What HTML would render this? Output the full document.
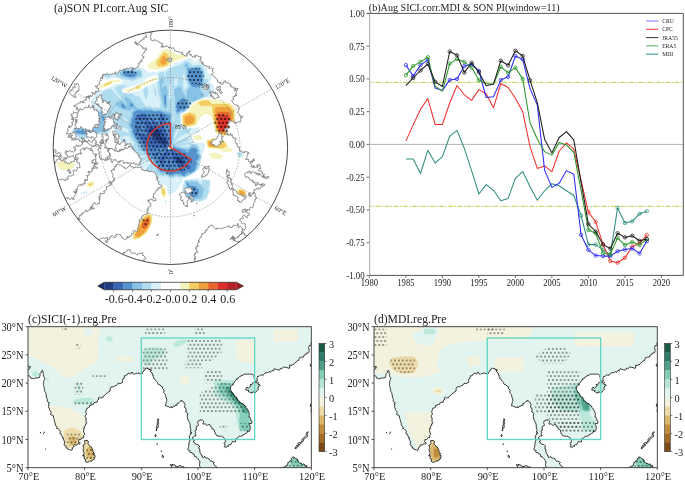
<!DOCTYPE html>
<html><head><meta charset="utf-8"><title>figure</title>
<style>html,body{margin:0;padding:0;background:#fff;}svg{display:block;will-change:transform;}</style></head>
<body><svg width="685" height="482" viewBox="0 0 685 482" font-family="Liberation Serif, serif">
<rect x="0" y="0" width="685" height="482" fill="#fff"/>
<defs><clipPath id="pc"><circle cx="170.4" cy="147.3" r="117.2"/></clipPath></defs>
<g clip-path="url(#pc)">
<defs><filter id="pblur" x="-5%" y="-5%" width="110%" height="110%"><feGaussianBlur stdDeviation="0.55"/></filter><pattern id="pdots" patternUnits="userSpaceOnUse" x="0.04" y="2.0" width="7.76" height="7.8"><ellipse cx="0" cy="0" rx="0.8" ry="0.95" fill="#000"/><ellipse cx="3.88" cy="0" rx="0.8" ry="0.95" fill="#000"/><ellipse cx="7.76" cy="0" rx="0.8" ry="0.95" fill="#000"/><ellipse cx="0" cy="7.8" rx="0.8" ry="0.95" fill="#000"/><ellipse cx="3.88" cy="7.8" rx="0.8" ry="0.95" fill="#000"/><ellipse cx="7.76" cy="7.8" rx="0.8" ry="0.95" fill="#000"/><ellipse cx="1.94" cy="3.9" rx="0.8" ry="0.95" fill="#000"/><ellipse cx="5.82" cy="3.9" rx="0.8" ry="0.95" fill="#000"/></pattern></defs>
<g filter="url(#pblur)">
<path d="M190.2,57.7L192.3,59.2L193.2,60.5L192.8,61.2L195.5,62.3L197.7,61.2L198.0,59.8L198.8,59.5L200.8,59.7L203.5,61.8L205.7,64.5L206.9,67.2L206.8,71.2L208.2,73.5L210.8,75.0L211.6,77.2L211.6,78.5L210.2,81.2L210.1,83.2L211.5,84.1L212.2,83.5L212.8,83.7L213.5,84.6L215.4,93.8L214.2,96.5L212.8,97.6L203.5,98.1L198.2,100.2L192.3,103.2L186.8,111.1L182.2,113.4L181.0,114.5L181.0,121.8L182.2,126.8L183.5,127.6L186.2,127.9L191.5,127.4L194.2,128.3L197.5,127.0L198.2,127.3L199.5,132.9L193.5,133.5L192.2,134.1L191.5,136.5L192.3,138.5L192.2,140.0L196.2,142.4L199.5,142.9L202.8,142.6L204.2,143.0L204.9,144.5L204.0,151.2L202.3,153.8L202.4,156.5L200.4,163.2L200.1,166.5L199.3,169.2L195.5,172.4L188.8,176.4L182.9,178.5L181.7,182.5L179.5,185.2L177.5,189.3L175.2,191.8L168.8,195.2L168.1,194.5L166.7,186.5L165.5,185.2L164.2,184.6L162.2,184.6L160.2,185.3L158.2,188.5L147.5,173.8L145.0,172.5L142.2,168.7L139.3,167.2L136.2,164.1L133.9,161.2L132.6,158.5L129.6,155.8L123.5,145.8L119.2,139.8L111.6,126.5L108.2,123.1L107.5,123.1L106.8,123.9L106.2,125.8L106.5,126.5L109.8,127.8L110.4,128.5L110.9,130.5L108.8,133.5L107.5,134.3L89.5,135.4L88.7,135.8L86.2,139.8L84.8,140.3L80.2,140.5L77.4,139.8L76.0,135.8L73.2,133.8L71.6,129.8L74.2,127.7L86.2,125.7L96.8,125.5L98.0,124.5L96.2,112.3L95.1,110.5L91.2,106.5L90.7,105.2L92.2,99.0L96.2,89.8L96.8,89.4L98.8,90.5L101.5,90.2L107.5,87.7L111.5,86.7L114.8,84.3L120.8,83.8L122.8,82.5L122.8,80.5L121.5,79.3L116.2,78.0L114.2,77.9L106.2,79.5L101.2,77.8L100.8,76.5L101.3,74.5L102.1,72.5L102.8,72.0L117.5,69.9L124.8,67.7L139.5,67.2L143.5,68.6L148.8,72.2L150.2,72.4L152.8,71.7L155.5,72.3L165.5,69.5L170.8,66.6L174.8,62.9L180.2,61.5L186.7,58.5ZM154.2,75.2L149.5,77.3L146.2,78.1L144.8,80.5L143.2,81.8L133.5,86.0L123.5,89.1L122.6,89.8L122.5,91.2L124.2,92.7L128.2,92.9L139.5,90.7L145.4,86.5L148.8,85.4L157.5,81.0L158.6,79.2L158.2,77.2L156.8,75.6L155.5,75.0ZM169.4,145.2L168.0,146.5L168.0,147.8L168.7,149.2L171.5,149.3L173.0,147.8L172.3,145.8L171.5,145.0ZM176.0,179.2L176.5,181.2L176.8,181.7L177.5,181.6L177.8,181.2L177.3,179.2L176.8,178.6ZM237.5,151.8L240.8,151.8L242.2,152.2L243.3,153.8L243.5,156.5L241.5,157.6L238.2,157.7L237.2,156.5L236.2,153.2L236.3,152.5ZM193.5,178.4L195.5,178.2L208.8,179.6L210.4,180.5L210.7,184.5L210.0,191.2L207.1,198.5L205.5,200.2L201.5,201.4L196.8,202.0L192.8,201.6L186.8,198.5L185.2,196.5L182.2,189.8L182.6,185.2L183.8,180.5L185.5,179.4L188.2,179.4ZM86.2,191.1L88.1,191.8L87.9,192.5L86.2,193.6L81.5,194.2L80.2,193.6L80.8,192.2ZM165.5,199.8L166.2,199.8L166.8,201.8L166.6,203.2L166.2,203.6L164.9,203.2L164.5,202.5L164.8,200.5Z" fill="#d8f0f8" fill-rule="evenodd"/>
<path d="M185.5,61.1L187.5,61.0L193.5,65.5L200.2,64.5L201.5,65.2L204.7,71.2L204.7,77.2L205.4,79.8L205.7,79.2L207.5,78.7L208.1,79.2L208.3,80.5L205.6,86.5L203.5,89.2L203.6,90.5L205.1,91.8L208.8,88.1L210.2,87.9L210.5,88.5L210.0,91.2L208.0,96.5L202.2,98.1L192.2,102.7L190.9,103.8L187.5,109.3L184.6,111.8L180.8,113.4L180.2,114.5L180.5,119.2L180.1,123.2L181.1,127.2L179.9,130.5L180.2,130.7L181.5,128.5L182.2,128.2L184.2,128.4L184.8,129.5L190.8,128.2L191.5,128.5L191.4,129.2L190.2,131.2L188.2,133.0L187.5,133.4L186.2,133.2L180.0,136.5L177.4,139.2L175.1,142.5L175.5,142.8L178.8,140.4L181.9,139.8L189.5,136.2L189.9,136.5L189.7,137.2L186.6,139.2L187.5,139.4L190.2,138.7L190.5,139.2L190.1,139.8L188.8,140.8L182.4,143.2L184.2,143.3L190.2,141.6L191.1,141.8L191.5,142.5L191.0,143.2L192.2,144.1L196.8,143.9L197.8,144.5L199.2,148.5L200.5,150.5L200.4,153.8L201.6,156.5L200.5,160.5L199.2,162.5L199.5,165.2L198.5,168.5L194.8,172.2L188.2,176.0L185.5,176.9L181.5,177.1L180.2,177.6L176.2,176.5L172.8,178.2L170.8,177.5L169.5,177.9L165.5,175.5L162.8,176.8L160.8,175.4L158.8,175.8L157.5,175.1L156.2,175.2L152.8,173.8L152.3,172.5L154.3,169.8L154.8,168.0L154.2,168.2L151.8,171.8L150.8,172.4L150.0,172.5L149.5,170.4L147.5,171.3L146.2,171.2L146.0,170.5L146.8,167.8L151.3,162.5L148.8,161.4L146.8,162.0L145.9,161.8L145.9,161.2L147.5,159.2L146.8,158.7L139.5,163.4L138.2,163.8L136.8,163.1L135.3,161.2L135.5,159.7L142.2,157.8L145.4,156.5L145.9,155.8L142.2,155.5L133.5,157.1L131.5,156.5L126.9,149.8L126.3,147.8L129.5,145.4L130.2,145.6L135.0,144.5L133.5,142.0L131.1,139.8L130.4,137.8L127.5,135.8L124.8,136.0L124.2,136.6L122.2,136.8L120.2,136.7L116.2,131.6L115.2,128.5L115.5,128.0L116.8,129.5L118.8,130.3L120.2,130.3L127.5,132.7L128.5,131.8L128.2,128.9L124.2,128.3L120.2,126.6L116.8,125.9L116.2,126.4L115.5,126.2L114.8,127.6L108.2,121.4L107.5,121.6L106.4,123.2L105.5,125.2L105.4,126.5L106.2,127.4L109.3,128.5L109.8,129.8L108.8,131.7L106.8,133.0L88.8,134.8L88.1,135.2L86.2,137.9L84.2,138.8L80.7,138.5L77.0,135.2L74.8,134.3L73.8,133.2L73.4,129.8L74.8,128.3L87.5,126.2L96.8,126.2L98.2,125.8L98.9,123.2L97.2,112.5L97.5,111.6L100.1,110.5L100.7,109.8L98.1,105.8L97.2,100.5L99.3,97.8L100.8,93.8L101.9,92.5L103.5,91.2L108.8,89.1L110.2,89.1L112.2,90.1L119.2,97.8L120.2,98.5L121.1,98.5L121.5,97.6L116.6,92.5L116.1,91.8L116.3,91.2L114.8,88.5L115.4,87.2L117.5,86.2L122.2,85.1L126.2,85.8L127.0,86.5L122.8,88.6L121.7,89.8L121.8,91.2L122.6,92.5L124.2,93.5L126.8,94.0L132.5,93.8L136.2,96.7L138.4,95.8L142.2,100.5L142.2,101.2L145.5,106.0L146.8,106.5L149.5,106.0L153.5,108.2L154.8,107.0L158.2,107.9L159.5,107.7L160.3,106.5L160.6,102.5L157.6,90.5L157.4,83.8L157.5,82.5L159.3,79.2L158.3,75.2L158.4,73.8L160.8,71.9L163.5,71.9L164.6,72.5L164.5,75.8L165.5,77.1L165.8,72.5L168.1,69.8L172.2,67.4L180.8,64.4ZM183.5,73.8L182.5,74.5L183.1,76.5L182.5,77.2L183.6,79.8L183.2,80.5L183.5,82.5L183.0,83.8L183.6,88.5L184.2,90.1L184.8,90.2L185.7,88.5L187.9,86.5L184.3,74.5L184.5,73.8ZM176.7,77.2L174.9,78.5L174.2,80.5L174.0,83.2L174.5,85.8L175.5,86.5L177.2,84.5L177.9,78.5L177.5,77.3ZM169.7,83.8L168.8,86.5L169.1,87.8L168.8,99.2L169.5,99.9L170.3,99.2L171.2,97.2L171.3,95.2L171.2,83.8L170.8,83.5ZM172.9,116.5L173.1,117.2L172.7,118.5L172.8,121.3L173.6,119.8L173.7,118.5L173.5,115.9ZM122.6,117.8L124.2,120.2L125.5,121.2L127.5,121.7L127.6,120.5L126.2,119.2L122.8,117.5ZM176.8,123.2L175.5,127.5L175.5,129.6L176.9,124.5ZM178.0,127.2L174.8,134.5L174.2,138.0L174.8,137.9L175.8,136.5L178.6,131.2L179.1,129.2L178.8,127.2ZM187.7,144.5L182.8,145.6L181.2,145.8L182.0,146.5L183.5,146.7L188.2,146.6L189.5,145.2L188.8,144.5ZM169.2,145.2L167.9,146.5L167.9,147.8L168.6,149.2L171.5,149.4L173.1,147.8L172.5,145.8L171.5,144.8ZM123.5,69.2L128.2,68.6L138.8,68.9L140.2,69.3L141.1,69.8L141.9,71.2L142.7,75.8L142.5,77.2L141.5,77.9L138.2,78.4L134.8,80.3L132.8,80.8L126.8,79.6L123.5,79.5L115.8,76.5L115.1,75.2L114.8,72.5L116.8,71.3ZM106.2,72.5L109.5,72.5L110.8,73.0L111.0,76.5L110.2,77.2L108.2,77.6L106.2,77.3L103.8,75.8L103.2,75.2L103.2,73.8L104.2,73.0ZM152.8,85.5L153.5,85.7L154.5,87.2L156.1,90.5L156.5,95.2L156.2,97.8L154.8,94.5L153.9,88.5ZM146.2,87.1L147.5,87.3L148.1,89.8L147.9,90.5L148.3,91.2L146.8,99.8L145.9,99.2L144.0,94.5L143.1,90.5L144.8,87.8ZM120.2,138.5L120.8,138.0L122.2,138.2L126.9,140.5L123.5,141.5L122.2,141.3L120.8,140.4ZM237.5,153.0L239.5,152.7L241.5,153.1L242.2,155.2L241.5,156.0L238.8,156.3L237.5,154.3ZM190.8,179.7L193.5,180.0L196.2,179.6L201.5,183.9L202.2,183.2L201.6,181.2L201.9,180.5L204.8,180.2L208.8,180.5L209.5,180.9L209.8,183.2L209.5,185.2L208.5,187.2L208.5,192.5L206.2,197.5L204.8,198.9L200.8,200.4L192.8,200.9L186.8,197.1L183.4,189.8L183.5,186.4L184.7,181.2L185.3,180.5L186.2,180.1L188.8,180.5Z" fill="#b0dcf0" fill-rule="evenodd"/>
<path d="M186.2,63.0L187.7,63.2L188.2,65.8L188.8,66.6L192.2,67.2L197.5,66.3L198.8,66.5L200.8,68.0L203.1,71.2L203.6,72.5L203.6,83.8L199.9,87.8L201.9,92.5L204.3,94.5L204.4,95.8L203.2,97.2L192.6,101.8L191.1,101.8L190.2,100.2L189.5,101.6L190.0,103.2L189.7,104.5L187.5,108.3L183.7,111.8L180.8,112.0L176.8,115.0L174.9,108.5L175.3,99.2L174.0,93.2L174.2,89.5L178.8,86.5L181.5,87.0L182.5,92.5L184.6,94.5L185.5,97.2L186.2,97.3L187.3,89.8L190.0,87.8L190.2,87.2L187.3,79.8L186.5,75.8L186.5,71.2L185.5,67.4L184.8,66.9L184.1,65.2ZM124.2,70.3L128.2,69.9L136.8,71.1L138.8,71.2L139.5,70.7L140.2,70.9L140.8,72.1L141.4,75.8L140.8,76.6L138.8,76.3L137.5,76.7L132.8,79.3L121.5,76.6L120.4,75.8L119.8,74.5L120.0,72.5ZM160.8,78.8L162.8,79.1L163.7,80.5L163.9,82.5L162.1,83.8L161.7,86.5L162.0,87.8L163.5,87.3L164.1,85.8L164.8,85.6L166.2,86.3L167.4,89.8L167.6,92.5L167.0,99.8L167.3,105.8L167.1,107.2L165.5,108.9L164.0,107.8L163.1,105.8L162.8,102.5L160.9,95.2L160.2,87.2L159.1,81.8L160.2,79.4ZM125.5,97.0L127.5,97.1L128.5,97.8L133.8,103.2L136.2,107.1L137.5,107.9L142.2,109.1L142.9,107.8L144.2,107.6L147.5,108.8L150.8,108.5L154.2,109.9L156.8,109.4L161.5,109.6L163.5,111.0L164.2,111.2L165.5,110.4L166.8,111.7L168.8,111.3L171.2,113.2L171.7,115.2L171.6,122.5L172.2,126.4L173.5,125.6L174.7,127.2L172.1,142.5L173.1,144.5L174.8,146.0L176.2,146.0L179.3,147.2L179.9,147.8L187.5,149.3L188.8,149.0L189.7,147.2L191.5,146.1L195.5,145.6L197.5,146.9L197.9,148.5L199.1,149.8L199.1,151.8L198.4,153.2L200.8,155.8L200.9,156.5L199.5,160.5L198.0,161.2L197.7,161.8L198.5,165.2L195.8,170.5L191.5,173.5L189.5,173.9L188.2,175.2L184.2,176.7L182.8,176.5L181.5,175.6L180.2,176.3L176.2,175.1L172.8,177.0L170.8,176.2L169.5,176.8L165.5,173.8L163.5,174.9L161.5,173.6L160.2,173.7L159.5,173.3L158.8,172.0L157.6,171.2L156.2,165.9L154.3,165.2L153.0,161.2L149.5,159.2L149.5,157.7L147.2,156.5L147.9,155.2L144.2,153.8L144.6,152.5L143.2,151.2L138.5,149.8L139.6,148.5L138.3,146.5L138.8,145.2L137.0,143.8L131.5,135.8L130.7,131.8L131.0,129.8L128.7,126.5L128.4,125.2L129.8,122.5L129.6,118.5L131.5,115.8L131.4,111.8L133.7,110.5L133.5,109.2L132.8,108.8L131.5,109.1L130.2,110.8L123.5,109.6L118.2,107.3L116.2,105.2L115.7,103.2L116.8,102.3L118.2,102.4L120.8,100.5L122.5,101.2L126.2,104.5L127.0,104.5L127.0,103.2L124.3,99.8L123.9,98.5ZM169.1,145.2L167.8,146.5L167.8,147.8L168.4,149.2L168.8,149.6L171.5,149.6L173.3,147.8L172.7,145.8L171.5,144.6L169.5,144.7ZM100.2,111.8L103.5,111.3L105.7,115.2L106.9,119.8L104.1,125.8L105.0,127.8L108.4,129.2L108.2,130.7L106.2,131.3L102.8,131.3L97.5,133.0L88.8,134.2L84.8,135.3L79.5,134.7L75.5,133.9L74.8,133.3L74.2,130.5L74.8,129.2L75.5,128.9L86.8,127.0L97.5,127.0L98.8,126.4L100.5,123.2L99.4,120.5L98.1,113.2L98.8,112.2ZM114.8,116.5L119.5,119.2L119.7,120.5L116.8,119.9L114.2,118.4L113.7,117.2ZM186.2,181.1L186.8,181.0L189.5,182.3L191.5,181.3L194.2,182.1L195.5,181.6L196.8,181.8L203.2,187.8L203.7,189.8L202.5,195.2L200.8,198.4L196.2,198.7L194.4,199.8L192.8,200.0L187.5,196.4L186.0,193.8L185.3,189.8L186.3,187.2L185.6,182.5ZM206.2,181.7L207.8,181.8L208.2,182.5L207.5,182.6Z" fill="#88c3e6" fill-rule="evenodd"/>
<path d="M196.2,67.8L198.2,67.8L199.5,68.9L202.2,72.1L202.5,73.8L202.2,83.7L198.7,86.5L196.8,87.4L192.8,86.7L190.4,84.5L188.2,78.5L188.0,70.5L187.6,69.8L188.2,68.9ZM127.5,71.1L131.5,71.1L134.7,71.8L136.8,73.2L137.0,74.5L135.2,76.5L132.2,77.2L127.5,76.7L124.6,75.8L122.7,74.5L122.7,73.2L124.1,71.8ZM164.8,94.7L165.5,94.5L165.8,95.8L166.1,103.8L165.5,105.7L164.7,104.5L164.5,100.5L164.1,99.8L164.1,95.8ZM182.2,97.7L182.8,97.4L183.4,97.8L184.2,99.9L186.8,100.1L187.5,100.8L188.1,103.2L187.6,105.8L186.5,107.8L183.5,110.7L182.2,109.5L181.5,109.6L179.3,111.8L177.5,112.4L176.7,111.2L176.7,108.5L176.1,105.8L176.4,103.8L177.1,102.5L181.3,99.2ZM195.5,97.4L195.6,98.5L194.5,99.2L194.8,97.9ZM130.2,102.8L131.5,103.2L133.1,104.5L133.3,105.8L132.8,106.7L131.5,107.0L130.8,106.4L129.5,103.8ZM121.5,103.8L122.8,103.8L126.3,107.8L123.5,108.0L122.2,107.2L121.3,105.2ZM138.8,109.7L142.8,111.0L145.5,110.4L148.8,110.8L150.8,110.2L154.8,111.7L158.8,111.0L162.2,111.7L164.2,113.3L166.2,113.7L167.5,114.6L168.8,114.0L169.7,115.2L171.5,140.5L171.2,144.5L169.5,144.6L167.6,146.5L167.6,147.8L168.8,149.7L171.5,149.7L173.4,147.8L172.8,146.5L173.5,146.4L176.2,147.9L186.5,149.8L186.6,150.5L186.2,150.6L182.2,149.7L180.2,149.8L188.8,152.4L189.8,151.8L187.4,150.5L190.2,149.3L191.5,148.1L194.8,148.1L196.8,149.1L197.6,149.8L196.6,153.2L199.4,155.8L198.3,157.8L198.6,159.2L195.8,160.5L196.9,163.8L196.0,165.2L195.2,169.2L194.2,171.2L192.2,171.9L190.8,173.2L188.2,172.0L186.8,173.6L185.5,173.8L185.0,175.8L184.2,176.1L182.9,175.8L180.8,173.7L179.5,174.2L175.5,173.5L173.5,174.5L172.8,175.5L170.8,174.0L169.5,175.3L166.2,172.0L164.8,172.1L163.5,171.4L160.8,171.8L159.9,169.8L158.8,169.7L157.5,164.6L155.8,163.8L155.7,162.5L154.6,161.2L154.2,159.8L151.5,158.5L150.7,156.5L149.1,155.8L149.5,154.3L146.6,153.8L146.6,153.2L147.8,151.8L147.4,151.2L144.8,150.0L142.5,149.8L141.6,149.2L142.8,148.5L142.5,145.8L139.7,143.8L136.7,139.2L134.5,137.2L134.7,135.8L132.5,132.5L132.8,129.8L130.4,125.8L131.6,123.8L131.4,119.2L133.3,117.2L133.0,113.2L136.2,110.6ZM102.8,115.7L104.2,116.8L105.4,119.8L105.1,121.2L104.2,122.0L102.8,120.6L102.2,118.2L101.4,117.8L101.6,116.5ZM77.5,130.4L79.5,130.0L80.2,130.5L83.5,130.2L84.2,130.8L86.8,130.8L87.5,131.6L90.2,131.8L90.6,133.2L84.8,134.0L77.5,133.3L75.8,131.8L76.2,130.8ZM186.8,182.4L188.2,183.1L189.5,185.4L190.2,185.8L193.5,185.9L195.3,186.5L198.9,189.8L199.0,191.8L197.7,195.2L196.8,196.2L192.2,197.2L190.8,196.5L188.8,193.2L188.6,188.5L188.2,186.5L186.8,184.0Z" fill="#5593cf" fill-rule="evenodd"/>
<path d="M178.8,107.5L179.5,107.8L178.8,109.3L178.6,108.5ZM141.5,113.8L144.2,113.7L146.3,115.2L147.8,119.8L154.2,126.2L152.9,123.2L148.0,116.5L147.8,115.2L149.5,115.6L152.2,118.9L154.8,121.1L158.2,125.3L158.8,124.6L160.2,125.2L159.3,120.5L159.5,119.3L160.8,120.9L161.0,120.5L159.4,116.5L159.6,115.2L160.3,115.2L161.5,116.2L162.8,115.3L164.3,117.2L165.3,123.8L164.8,124.3L162.8,120.2L162.4,122.5L167.3,136.5L169.0,143.8L168.8,145.2L167.5,146.5L167.9,148.5L167.5,149.1L166.5,147.8L164.6,147.8L166.6,149.2L166.2,149.7L165.5,149.6L162.8,150.9L157.9,153.8L157.1,154.5L157.5,155.0L159.6,154.5L156.2,157.3L152.4,154.5L153.0,153.8L161.5,150.8L164.8,149.4L164.8,148.7L163.0,148.5L163.2,147.8L162.8,147.8L150.8,149.4L148.7,149.2L148.0,148.5L148.8,147.7L156.2,147.2L147.5,146.1L144.4,144.5L141.7,141.2L143.0,140.5L139.7,138.5L139.9,137.2L139.4,136.5L135.5,133.2L135.5,132.3L136.8,131.9L146.3,135.2L148.2,135.5L148.5,135.2L146.2,132.0L139.5,129.2L137.5,129.7L136.2,129.4L134.9,127.8L135.3,125.2L135.9,124.5L135.0,121.8L135.1,121.2L136.2,120.6L137.5,121.0L142.5,125.8L141.5,125.9L138.8,124.3L136.4,123.8L136.3,124.5L137.5,125.8L141.5,128.8L146.2,131.5L146.0,130.5L143.9,127.8L144.2,127.2L146.4,127.8L146.3,126.5L137.5,119.3L136.6,117.8L136.3,116.5L136.8,115.3L140.2,114.7ZM141.2,117.8L142.8,120.5L144.8,122.4L145.5,122.8L145.9,122.5L145.6,121.2L143.5,118.5L141.5,117.3ZM152.8,114.1L154.2,115.3L154.5,117.2L154.2,117.7L152.6,115.2ZM167.5,149.7L169.7,149.8L169.9,150.5L169.2,151.2L169.5,152.2L170.3,151.2L169.9,169.8L169.5,171.0L168.2,169.2L168.3,165.2L167.6,161.8L168.5,156.5L168.3,155.2L167.5,155.1L167.5,157.0L166.8,156.5L166.8,159.0L166.2,157.7L164.1,162.5L163.4,164.5L163.5,166.1L165.5,161.2L165.5,163.2L164.2,167.0L163.5,167.4L162.8,166.3L160.8,165.8L159.8,161.8L158.0,161.2L161.4,156.5L160.8,156.3L158.2,158.7L157.5,158.9L157.3,158.5L162.2,154.3L162.8,154.6L162.6,153.8L166.8,150.4L167.6,150.5ZM168.4,153.2L168.5,154.5L169.1,155.2L169.5,157.4L169.8,155.2L169.0,153.2ZM171.5,149.8L172.2,149.2L177.5,154.3L177.8,153.8L177.2,153.2L178.2,152.3L178.4,152.5L177.8,153.2L178.2,153.5L178.8,152.9L179.5,153.1L184.8,155.7L191.0,159.8L192.0,161.2L192.2,163.3L190.8,162.9L185.5,159.4L185.3,159.8L186.8,163.5L191.0,166.5L190.8,168.4L188.2,169.7L186.3,168.5L184.2,165.8L181.5,166.2L181.4,167.2L183.2,170.5L182.8,172.3L182.2,172.1L180.3,170.5L177.5,165.2L174.4,161.2L174.2,159.7L174.4,164.5L173.5,166.9L170.9,150.5L171.0,149.8ZM152.8,151.7L154.0,151.8L152.8,152.6L151.3,152.5Z" fill="#3a68b6" fill-rule="evenodd"/>
<path d="M150.2,128.1L150.8,127.8L154.2,128.3L156.8,129.7L157.5,128.7L158.8,129.5L165.7,139.8L166.3,141.2L165.8,141.8L166.5,143.8L165.4,144.5L165.6,145.2L163.5,144.7L153.3,139.2L154.6,138.5L150.2,134.5L148.8,131.8L148.8,130.5L150.3,129.8L149.8,128.5ZM158.6,132.5L160.4,135.8L164.2,139.8L164.2,139.2L160.9,134.5L158.8,132.1ZM176.2,157.0L177.5,156.8L181.4,159.2L183.3,161.2L183.9,163.2L181.5,164.0L178.8,162.3L178.8,163.3L177.5,163.0L176.2,160.5Z" fill="#203c82" fill-rule="evenodd"/>
<path d="M164.8,49.1L167.3,49.2L173.5,52.8L178.8,55.0L181.5,54.7L186.8,53.3L188.2,54.5L188.2,55.8L187.5,56.6L181.3,59.2L173.5,61.4L169.4,65.8L164.8,67.9L156.8,69.7L149.5,69.1L147.7,65.8L147.8,64.5L152.8,61.2L156.2,58.4L161.9,50.5ZM153.5,77.8L156.2,77.3L157.0,77.8L157.2,79.2L156.7,79.8L143.5,86.1L138.3,89.8L129.5,91.4L124.1,91.2L124.0,90.5L125.4,89.8L132.2,88.1L136.5,85.8L142.8,83.6ZM113.5,79.8L118.4,79.8L120.6,80.5L121.0,81.2L120.2,82.1L114.8,82.2L104.8,87.3L100.2,88.7L98.8,88.1L98.6,87.2L99.1,86.5L103.5,83.2L109.5,80.5ZM202.8,99.1L208.2,99.1L220.8,100.3L228.8,102.8L232.8,104.9L235.0,109.2L235.9,112.5L235.0,127.2L234.6,129.8L233.9,131.2L225.5,136.3L222.8,136.0L216.8,133.8L215.3,131.2L211.9,117.8L209.5,115.4L206.8,113.8L204.8,114.3L200.3,117.8L196.8,124.2L195.5,125.8L188.2,126.9L184.2,126.6L182.8,126.0L182.1,123.2L181.8,115.8L182.0,114.5L182.9,113.8L186.2,112.8L188.5,111.2L191.5,105.7L193.0,103.8L198.9,100.5ZM62.2,117.1L64.8,117.2L67.8,119.2L68.3,119.8L68.2,120.5L65.5,122.1L63.5,122.6L58.8,121.9L57.5,121.2L57.0,119.8L57.4,118.5ZM197.5,135.1L199.5,135.1L200.8,135.7L202.4,137.2L202.5,138.5L200.8,139.9L199.5,140.2L194.8,139.4L194.1,138.5L193.5,136.3L194.2,135.7ZM212.2,138.3L215.5,138.1L224.2,140.1L227.5,144.5L228.2,147.3L232.5,149.2L232.8,150.5L232.2,151.3L230.8,151.8L223.5,151.9L219.5,149.5L209.5,148.6L208.2,148.2L206.8,145.2L206.2,141.8L206.4,140.5L207.5,139.6ZM210.8,153.1L214.8,152.8L216.8,153.1L222.2,155.0L223.0,155.8L223.0,156.5L222.2,158.1L220.8,158.8L212.8,158.7L211.5,157.8L208.9,154.5L208.9,153.8ZM60.8,161.2L64.2,160.8L71.5,161.6L73.5,163.3L75.0,165.8L73.9,167.2L69.5,169.8L60.8,169.7L59.4,168.5L56.4,163.8L57.5,162.6ZM89.5,181.8L92.2,181.3L94.2,181.8L94.5,183.8L93.7,185.8L89.5,187.4L87.5,186.8L86.3,185.2L86.5,183.8ZM160.8,187.1L162.2,186.6L164.2,186.8L164.8,187.2L165.5,188.7L166.5,195.2L165.8,196.5L164.2,197.6L162.7,197.2L160.8,193.2L160.5,189.2ZM238.2,189.0L242.2,188.6L246.0,191.2L246.8,193.2L245.5,196.0L244.2,196.8L242.8,197.0L238.5,195.8L237.6,194.5L236.7,190.5L236.9,189.8ZM147.5,213.8L151.5,214.0L152.2,214.5L152.6,215.8L152.3,222.5L148.4,230.5L146.6,233.2L140.8,238.0L135.5,240.0L133.5,239.8L132.3,238.5L132.4,236.5L135.3,229.2L139.3,221.2L140.7,219.2L144.8,215.0Z" fill="#f6f4be" fill-rule="evenodd"/>
<path d="M163.5,52.3L165.5,52.5L168.2,54.5L170.0,58.5L169.7,60.5L168.0,64.5L166.8,65.6L162.2,67.0L158.2,66.5L156.7,65.2L156.4,61.8ZM110.8,81.8L111.7,81.8L111.9,82.5L111.1,83.2L105.5,85.8L104.7,85.8L104.2,85.2L105.2,83.8ZM138.2,86.4L139.5,86.2L140.2,87.2L138.2,88.7L136.2,88.5L135.9,87.8L136.3,87.2ZM203.5,100.5L208.2,100.5L212.2,104.1L226.8,103.8L228.8,104.4L230.6,105.8L233.5,109.3L234.3,111.8L233.6,126.5L232.7,130.5L224.8,135.1L220.8,134.3L217.1,132.5L215.7,129.2L212.9,116.5L212.2,107.8L211.5,105.5L203.5,105.9L200.2,105.5L198.8,104.5L198.4,103.2L198.8,101.8ZM189.5,112.5L194.2,114.0L195.9,115.2L196.0,119.8L195.5,123.2L194.2,124.5L189.5,125.9L184.2,125.5L183.3,124.5L182.9,122.5L182.8,115.2ZM213.5,139.1L215.5,139.2L223.5,141.1L226.2,144.5L226.4,145.8L224.8,147.3L221.5,148.6L208.8,147.5L207.5,144.9L207.3,141.2L208.2,140.4ZM90.2,183.1L92.2,183.1L92.5,184.5L90.8,185.5L88.8,185.5L88.3,184.5ZM162.8,188.3L164.2,188.9L164.6,190.5L165.0,193.8L164.2,195.4L162.8,195.0L162.2,193.0L161.9,189.2ZM239.5,189.7L242.7,189.8L244.8,191.3L245.9,193.2L244.8,195.2L242.8,196.1L239.2,195.2L238.4,193.8L237.9,191.2L238.2,190.4ZM146.8,215.0L150.2,214.9L151.5,215.8L151.5,221.8L149.6,226.5L146.6,231.8L141.4,236.5L138.8,238.0L134.2,238.8L133.4,237.2L134.1,234.5L140.2,221.7L143.2,217.8Z" fill="#f3cd62" fill-rule="evenodd"/>
<path d="M162.8,56.2L164.2,56.0L165.7,57.2L166.5,58.5L166.6,59.8L165.9,63.8L164.8,64.6L162.8,65.0L161.1,63.8L160.2,61.2ZM219.5,107.1L228.2,106.9L231.5,110.1L232.9,112.5L232.6,119.2L231.3,129.2L228.8,131.5L224.2,133.8L221.5,133.6L218.8,132.3L217.5,131.2L216.4,128.5L214.9,117.8L214.7,109.2L215.5,107.7ZM189.5,115.1L191.5,115.7L193.7,117.2L194.0,118.5L193.8,121.2L193.2,122.5L192.2,123.3L188.8,124.5L187.5,124.4L185.5,123.6L184.8,122.5L184.5,117.8L185.5,116.5ZM211.5,141.0L214.2,140.5L215.5,140.9L218.7,142.5L219.3,143.8L217.7,145.8L216.2,146.8L209.5,146.6L208.8,145.8L208.3,142.5L208.9,141.8ZM239.5,191.1L241.5,190.8L243.0,191.2L244.4,192.5L244.4,193.8L242.8,195.0L240.2,194.5L239.4,193.2ZM148.8,216.4L149.5,216.5L150.4,217.8L150.2,223.2L146.2,230.4L144.4,232.5L139.5,236.4L137.5,236.7L135.5,236.2L135.2,235.2L135.5,234.0L142.5,220.5L144.8,218.0Z" fill="#eea03a" fill-rule="evenodd"/>
<path d="M224.2,111.8L226.8,111.7L228.6,112.5L230.8,115.8L230.9,119.2L228.5,129.8L224.8,132.1L221.5,132.5L218.8,130.8L217.5,128.7L216.2,114.5L216.5,113.2L217.5,112.4ZM147.5,218.4L148.6,218.5L149.0,219.2L148.8,223.8L146.2,227.8L145.3,228.5L144.2,228.6L141.8,227.2L141.7,225.8L144.2,220.7Z" fill="#e8652c" fill-rule="evenodd"/>
<path d="M218.8,115.1L226.8,115.1L228.2,116.2L229.1,118.5L228.8,121.5L226.4,128.5L224.8,129.7L222.2,130.6L220.4,129.8L218.7,126.5L217.7,116.5L218.2,115.4Z" fill="#dd3029" fill-rule="evenodd"/>
</g>
<polygon points="154.3,172.1 154.7,172.3 154.8,172.8 155.3,173.0 155.3,173.5 155.7,173.8 155.7,174.3 155.8,174.9 156.4,174.9 156.6,175.5 156.8,176.1 156.6,176.5 156.8,177.0 156.4,177.2 155.9,177.1 156.4,177.5 156.9,177.9 157.1,177.4 157.4,177.1 158.1,177.1 158.1,177.7 157.7,177.8 157.2,177.8 157.1,178.3 157.4,178.6 157.9,179.0 157.5,179.4 157.1,179.5 156.7,179.4 156.7,180.0 157.1,180.5 157.5,181.0 158.1,181.2 158.7,181.1 158.9,181.7 158.9,182.2 159.1,182.6 158.5,182.8 158.4,183.5 158.6,184.1 159.0,184.4 159.4,184.8 159.8,184.9 160.4,185.1 160.8,184.8 161.1,185.0 161.6,185.2 161.8,185.5 162.2,185.7 161.8,186.1 161.4,186.4 161.1,187.0 161.3,187.6 160.9,187.6 160.5,187.8 160.5,187.3 160.0,187.2 159.4,187.6 159.4,188.4 158.7,188.2 158.2,187.6 157.9,188.2 158.4,188.5 158.1,188.8 157.7,188.9 157.7,189.6 158.1,190.2 157.5,190.1 157.2,189.6 156.9,190.0 156.8,190.5 156.2,190.4 155.8,190.9 156.0,191.4 155.7,191.9 155.2,192.0 155.0,192.4 154.9,192.9 154.6,193.2 154.3,193.6 153.9,193.8 153.5,194.0 153.1,194.3 153.6,194.2 154.1,194.3 154.0,194.8 153.7,195.2 153.4,195.7 153.1,196.2 153.2,196.9 153.9,197.1 153.0,197.3 153.3,198.2 153.9,198.1 154.3,197.8 154.9,198.0 155.3,198.3 155.4,199.0 156.0,199.5 155.9,200.7 154.8,200.2 154.2,200.7 153.7,201.2 152.8,200.9 152.8,200.0 152.2,199.3 151.8,200.1 151.7,199.6 151.3,199.3 150.8,199.1 150.3,199.1 150.1,199.4 149.7,199.7 148.9,201.1 148.1,199.7 147.8,200.5 148.3,201.3 148.2,202.0 149.0,202.0 149.5,202.3 149.6,202.8 150.1,203.4 150.8,203.2 150.6,203.8 150.3,204.3 151.0,204.3 150.7,205.0 150.8,205.4 150.8,205.7 150.3,206.2 150.2,206.9 149.5,206.9 148.9,206.4 148.6,206.8 148.4,207.3 148.1,207.8 148.2,208.3 147.9,208.6 148.0,209.1 147.5,209.0 147.2,209.3 147.7,208.7 148.2,209.2 147.9,209.7 148.2,210.2 147.6,210.1 147.5,210.7 147.1,210.8 146.7,210.9 147.0,211.2 147.3,211.5 147.4,211.9 147.8,212.1 148.2,212.8 148.3,213.5 147.7,213.8 147.5,213.2 147.2,213.4 146.8,213.8 146.1,213.8 146.2,214.5 145.7,214.8 145.2,214.7 144.4,214.5 143.8,214.9 143.3,214.9 143.1,215.4 143.5,215.8 143.1,216.2 142.6,215.8 142.1,216.2 141.9,216.7 141.4,217.0 142.2,217.6 141.3,218.1 141.8,218.3 142.3,218.6 141.6,218.9 140.9,218.8 140.5,219.1 140.0,218.9 139.8,219.3 139.7,219.7 139.7,220.6 138.9,220.8 139.4,221.4 140.2,221.2 139.9,221.6 139.4,221.6 139.2,222.0 139.3,222.5 139.3,223.1 138.9,223.7 138.7,224.3 139.0,224.9 138.3,225.3 138.6,226.0 138.2,226.5 138.1,227.1 138.3,227.8 138.0,228.3 137.6,228.6 137.2,228.6 137.4,229.0 137.5,229.4 137.5,230.0 138.0,230.1 137.7,230.4 137.5,230.8 136.8,231.0 136.4,231.5 136.0,231.2 135.6,230.9 135.0,231.2 134.6,230.7 134.0,230.5 133.7,231.0 133.2,231.2 132.9,231.6 133.3,232.2 133.4,232.9 133.1,233.8 132.2,233.7 131.5,233.7 131.4,234.5 131.1,235.0 131.3,235.6 130.9,236.0 130.4,236.3 129.8,236.2 129.2,236.3 129.2,237.3 128.1,237.7 127.1,237.3 127.0,236.2 127.7,236.8 127.7,237.7 127.1,238.3 126.9,239.1 126.2,238.9 125.5,239.0 124.9,239.5 124.1,239.4 123.9,238.7 123.3,238.4 122.7,238.1 122.1,238.4 121.9,237.8 121.7,237.3 121.7,236.6 121.0,236.3 120.9,235.9 120.8,235.5 120.7,235.0 120.6,234.6 120.1,234.3 119.6,234.4 119.2,234.5 118.7,234.7 118.0,234.8 117.3,234.8 117.2,234.2 116.8,234.0 116.5,234.6 115.9,234.4 115.3,235.1 115.9,235.8 116.3,236.4 116.1,237.1 115.4,237.1 114.8,236.9 114.3,237.7 113.5,237.3 113.4,236.5 112.9,236.1 112.4,235.3 111.6,235.6 110.9,236.2 111.3,237.1 110.4,236.7 109.7,237.3 110.2,238.6 108.9,239.0 108.1,239.7 107.1,239.5 106.2,240.5 105.0,240.8 106.3,241.4 106.4,242.8 108.0,242.0 107.6,240.2 107.7,238.7 107.5,237.3 106.1,237.8 104.8,238.3 103.4,237.8 101.9,238.2 101.4,238.6 100.9,238.3 100.6,238.8 100.0,238.8 99.8,239.4 99.2,239.5 98.7,239.3 98.2,239.5 97.8,239.2 97.3,239.0 96.8,238.7 96.2,238.8 96.0,238.1 95.3,238.2 94.6,237.7 95.1,237.1 95.3,237.8 94.9,238.5 95.1,239.2 95.3,239.9 95.5,241.2 94.1,241.5 93.1,241.1 92.6,240.2 92.8,239.1 91.9,238.5 90.8,238.1 90.2,239.0 89.5,239.6 89.8,240.4 89.3,240.8 88.7,241.2 87.3,243.6 85.2,245.4 84.7,242.0 81.4,241.5 83.0,242.6 83.8,244.3 84.2,246.2 85.4,247.7 83.9,247.9 83.9,249.3 82.9,249.9 81.8,250.0 80.7,249.8 80.0,248.8 79.0,248.5 78.0,248.1 78.1,248.9 78.7,249.4 78.0,249.8 77.6,250.4 77.0,250.6 76.4,250.8 75.8,251.1 75.6,251.7 75.1,249.4 77.4,249.1 76.0,250.3 74.3,249.7 73.6,250.0 72.9,250.5 72.1,250.1 72.0,249.2 71.5,249.1 71.6,248.5 71.0,248.6 70.9,248.1 70.6,247.7 70.9,247.3 71.0,246.9 71.2,246.6 70.9,245.9 70.5,245.4 69.8,245.4 69.5,244.8 70.0,244.5 70.3,244.0 70.5,243.2 69.7,243.1 70.0,242.7 70.3,242.4 70.9,242.3 71.0,241.8 71.1,241.4 71.1,240.9 70.6,240.3 70.1,239.7 69.6,239.2 70.0,238.5 69.4,238.8 68.8,238.8 68.6,238.2 69.1,237.8 69.7,237.8 70.0,237.3 69.5,237.1 69.6,236.5 69.7,235.8 69.0,235.7 69.9,236.0 70.7,235.6 69.3,235.7 69.6,234.3 69.8,233.9 69.5,233.5 70.1,233.5 70.2,232.9 69.9,232.1 70.3,231.4 71.2,231.6 71.7,230.9 70.8,230.7 71.2,229.8 71.0,229.2 70.6,228.6 70.5,227.8 71.4,227.8 71.9,227.5 72.2,227.0 73.0,226.4 73.4,227.4 73.1,226.1 74.3,226.5 75.0,226.1 75.5,225.7 75.5,224.9 76.2,224.4 76.0,223.8 75.5,223.4 75.6,222.3 74.5,222.7 75.8,223.1 76.5,224.2 77.3,223.1 76.8,221.8 77.3,221.4 77.8,220.9 77.4,220.4 77.2,219.7 78.2,219.2 78.5,218.0 77.7,219.4 79.2,220.1 79.0,219.6 79.5,219.3 79.9,219.1 80.0,218.7 79.7,218.3 79.2,218.1 78.8,217.6 79.3,217.2 79.6,216.4 79.3,215.7 79.7,215.2 80.2,214.7 80.5,215.5 81.3,215.2 82.2,214.8 81.5,214.0 81.7,213.6 82.2,213.5 82.6,213.0 82.0,212.7 82.7,213.2 83.4,212.8 84.0,212.5 84.5,212.0 84.9,211.9 85.3,211.7 85.7,211.6 86.1,211.6 86.6,211.1 86.2,210.7 86.1,210.2 85.9,209.8 85.9,210.4 86.1,211.0 86.7,211.5 87.2,210.9 87.7,211.3 88.1,210.9 88.6,210.8 88.8,210.3 88.9,209.7 89.5,209.7 89.9,209.1 90.4,209.5 91.2,209.3 91.1,208.5 90.4,208.4 90.2,207.7 90.8,207.8 91.3,207.8 91.8,207.9 92.3,208.0 92.9,207.7 93.5,208.1 94.1,208.4 94.3,209.0 93.8,208.9 93.3,209.0 92.7,208.9 92.6,208.3 91.6,208.2 90.7,207.9 90.9,206.6 92.1,206.6 92.9,206.4 92.7,205.7 92.1,205.5 92.1,204.9 92.4,204.6 92.8,204.4 92.9,203.9 93.1,203.5 93.7,203.6 94.0,203.0 94.3,202.4 95.0,202.8 95.0,203.4 95.0,204.0 95.6,204.1 96.1,204.4 96.6,204.5 97.0,204.2 97.4,204.0 97.6,203.5 98.1,203.6 98.4,203.9 98.9,203.9 99.3,203.8 98.7,203.7 98.3,203.3 98.9,203.1 99.3,202.7 99.3,202.1 99.5,201.5 99.6,200.9 99.3,200.4 99.5,199.9 99.7,199.6 99.2,199.6 98.8,199.3 99.5,199.4 99.5,198.7 100.0,198.9 100.3,198.4 99.9,198.5 99.4,198.6 99.3,198.2 99.0,197.8 99.7,196.9 98.6,196.6 99.2,196.4 99.9,196.7 100.1,196.3 100.2,195.9 100.5,195.4 99.9,195.1 100.1,194.3 100.2,193.5 101.0,193.3 100.9,194.1 101.1,193.4 101.8,193.7 102.1,193.3 102.5,193.5 102.9,193.4 103.3,193.4 104.1,193.8 104.1,193.0 104.5,192.7 104.7,192.4 104.3,191.7 103.6,191.9 103.7,191.3 104.1,190.8 104.8,191.0 105.5,190.7 105.8,190.0 106.5,189.6 106.5,188.8 106.2,188.1 106.1,187.3 106.8,187.6 106.3,187.0 107.1,186.9 107.6,186.3 108.2,185.8 108.5,186.1 108.9,186.0 109.3,186.0 109.7,186.0 109.7,184.9 110.8,184.7 111.8,184.5 111.9,183.5 110.6,183.4 110.7,182.0 109.7,181.4 108.9,182.2 108.9,183.0 109.7,182.9 110.3,182.7 110.9,183.0 110.9,182.3 111.6,182.1 112.2,182.4 112.8,181.9 112.8,181.4 113.3,181.2 113.8,181.4 114.2,181.1 113.8,180.4 114.4,179.8 113.7,179.5 113.1,179.9 113.5,179.6 113.8,179.3 114.1,178.9 114.6,178.8 114.1,178.4 114.2,177.8 113.6,177.7 113.1,177.8 113.0,177.1 112.5,176.5 112.7,175.8 113.3,175.3 112.8,174.9 112.9,174.2 112.5,173.7 112.0,173.3 112.0,172.8 111.8,172.3 111.6,171.7 111.1,171.5 111.2,170.8 111.9,170.8 111.7,170.2 112.0,169.7 112.7,169.8 113.4,170.0 114.1,169.5 114.4,170.3 114.4,169.8 114.6,169.3 114.0,169.1 113.6,168.6 114.3,168.5 114.7,167.9 114.7,167.2 114.3,166.6 114.9,166.4 115.5,166.5 116.1,166.5 116.6,166.2 116.0,166.1 116.0,165.5 116.5,165.0 115.9,164.7 116.3,164.5 116.7,164.5 116.9,164.0 117.4,164.0 118.1,164.4 118.6,164.9 119.2,165.0 119.3,164.4 119.6,164.6 120.1,164.6 120.3,165.1 120.7,165.3 121.0,165.7 121.4,165.9 121.9,165.6 122.4,165.9 122.7,166.3 123.2,166.4 123.6,167.0 123.8,167.7 124.2,168.0 124.6,167.6 124.5,168.2 125.1,168.2 125.9,168.3 126.7,168.4 127.1,167.8 127.6,167.2 128.1,167.1 128.6,167.1 128.5,166.5 129.0,166.2 129.2,165.8 129.4,165.5 129.4,165.0 129.8,164.7 130.2,164.8 130.6,165.1 130.3,165.7 130.9,166.0 131.0,166.6 131.4,167.1 132.0,166.9 132.5,166.6 132.8,167.2 133.4,167.2 133.7,167.8 134.4,167.6 135.0,167.5 135.3,167.0 135.8,166.9 136.4,166.9 136.8,167.0 137.1,167.3 137.5,167.5 137.8,167.8 138.3,167.8 138.5,167.3 139.0,167.4 139.4,167.4 139.9,166.9 140.5,167.4 141.0,167.1 141.4,166.9 142.0,167.4 141.5,167.9 141.5,168.5 141.6,169.0 142.1,169.3 141.9,169.8 142.5,169.7 142.7,170.2 143.3,170.0 143.8,169.8 144.1,170.3 144.3,170.8 144.7,170.7 145.0,170.4 145.2,170.7 145.3,171.1 145.9,170.9 146.1,170.4 146.3,170.8 146.9,170.9 147.2,170.5 147.1,170.0 147.8,169.8 147.9,170.6 148.2,170.9 148.2,171.4 148.6,171.2 149.0,170.9 149.4,171.4 149.3,172.0 149.8,171.7 150.3,171.7 150.8,171.6 151.3,171.7 151.5,171.1 152.1,171.3 152.4,171.7 152.9,171.4 153.5,171.9" fill="#fff" stroke="#7c7c7c" stroke-width="0.9" stroke-linejoin="round"/>
<polygon points="140.5,158.2 140.9,158.7 141.5,158.9 140.9,159.3 140.7,159.9 141.0,160.6 140.3,160.9 140.3,161.5 140.9,161.7 140.8,162.1 140.5,162.4 140.1,162.6 139.6,162.6 139.8,163.0 140.2,163.3 139.9,163.7 140.1,164.1 139.9,164.7 139.3,164.5 139.3,164.0 138.8,163.8 138.3,164.3 137.8,164.7 137.4,164.5 137.0,164.3 136.6,164.2 136.5,163.7 136.1,163.9 135.7,163.9 135.6,164.6 134.9,164.2 134.3,164.0 134.1,163.5 134.0,162.9 133.9,162.3 133.6,162.8 133.0,162.9 132.6,163.3 132.1,163.6 131.4,163.3 130.8,162.8 130.5,163.5 130.3,164.3 130.5,163.7 130.0,163.3 129.6,163.0 129.3,162.7 129.0,163.1 128.5,163.4 128.0,163.2 127.5,163.4 127.6,162.9 127.9,162.5 127.4,162.4 126.9,162.5 126.4,162.7 125.8,162.7 125.2,162.6 124.7,163.0 124.4,163.3 124.2,163.7 123.7,163.6 123.5,163.1 124.1,163.1 124.1,162.6 123.8,162.3 123.6,161.9 123.4,161.2 122.8,160.9 122.2,160.7 121.6,160.9 120.9,161.0 120.3,160.7 120.1,161.1 119.6,161.2 120.3,161.4 120.1,162.0 119.5,161.7 118.9,161.4 119.3,161.7 119.2,162.2 118.9,162.6 119.0,163.0 119.0,162.5 118.6,162.2 118.1,162.3 117.8,161.9 117.2,162.1 117.0,161.5 116.8,161.0 116.5,160.7 116.1,160.5 115.9,160.2 115.4,159.9 115.6,159.4 115.0,159.5 115.1,160.1 114.6,160.1 114.2,159.7 114.0,160.2 113.5,160.4 113.1,161.0 112.5,161.6 112.6,162.3 111.9,162.5 111.5,162.0 111.0,161.8 110.8,161.2 110.9,160.7 111.5,160.5 111.8,160.1 112.1,159.4 111.7,158.7 111.1,159.2 110.4,159.0 109.9,158.8 109.6,158.5 109.6,159.0 109.2,159.4 108.5,159.3 108.2,160.0 107.7,159.7 107.4,159.3 107.7,158.9 107.9,158.5 107.2,158.2 106.4,158.4 107.2,158.2 107.6,157.5 107.4,156.8 107.0,156.2 107.9,156.4 108.7,156.4 109.4,157.0 110.0,157.5 110.0,156.6 110.4,155.9 110.5,155.0 110.0,154.2 110.2,153.6 109.6,153.4 109.4,153.0 108.9,152.8 108.4,152.9 108.0,152.6 107.9,152.1 107.5,151.7 108.0,151.4 108.1,150.9 108.0,150.5 107.8,150.1 108.2,150.3 108.7,150.1 108.2,149.6 108.6,149.1 108.2,148.8 107.8,148.4 108.4,148.4 109.0,148.4 109.6,148.7 109.5,149.4 109.8,148.7 109.7,148.0 109.6,148.7 110.3,148.7 110.7,148.4 111.1,148.3 111.6,148.4 112.0,148.2 112.2,148.7 112.6,149.0 112.7,149.4 113.2,149.6 113.5,149.8 114.0,149.8 114.2,150.5 114.9,150.9 115.0,150.3 115.7,150.2 116.1,150.6 116.4,151.1 116.8,151.2 117.3,151.4 117.2,150.8 117.7,150.5 118.1,150.7 118.4,151.1 118.3,151.6 118.0,151.9 118.4,151.7 118.7,151.4 119.2,151.2 119.7,151.3 119.8,150.8 120.3,150.6 120.5,150.1 121.1,150.2 121.5,150.1 121.9,150.0 122.4,150.0 122.8,149.8 123.3,149.6 123.7,149.2 123.2,148.6 123.8,148.1 124.4,148.1 125.0,148.4 125.4,147.9 125.5,147.3 126.1,147.4 126.4,147.0 126.9,146.9 127.1,146.4 127.6,146.7 128.1,146.5 128.7,146.4 128.8,145.8 129.4,145.8 129.7,145.3 130.3,145.4 130.5,146.0 131.0,146.1 131.6,146.2 131.8,146.8 131.6,147.3 132.1,147.6 132.4,147.0 132.2,147.4 132.3,147.9 132.8,147.6 133.1,148.2 132.8,148.5 132.3,148.6 132.2,149.2 132.9,149.1 133.5,149.3 133.5,149.9 134.0,149.5 134.4,149.9 134.0,150.2 134.1,150.7 134.6,150.5 135.0,150.8 134.7,151.3 135.3,151.7 135.7,151.9 136.1,152.1 136.3,152.6 136.8,153.0 137.3,152.8 137.9,152.8 137.8,153.4 137.7,153.9 137.7,154.6 138.4,154.7 138.3,155.3 138.9,155.6 139.3,155.9 139.8,155.8 139.6,156.1 139.2,156.4 138.9,156.7 138.5,157.0 139.1,157.4 139.8,157.1 139.7,157.9" fill="#fff" stroke="#7c7c7c" stroke-width="0.9" stroke-linejoin="round"/>
<polygon points="130.2,146.2 130.5,145.8 131.0,145.9 130.6,145.5 130.9,145.0 130.9,144.3 130.8,143.6 130.1,143.9 129.4,143.9 129.1,144.3 128.6,144.1 128.3,143.9 128.0,143.6 127.2,143.7 127.4,144.5 127.0,144.9 126.5,145.0 125.8,145.2 125.2,144.8 124.6,145.2 124.5,145.9 125.2,145.6 125.7,145.3 125.8,144.6 125.8,143.9 125.2,143.5 125.2,142.9 125.1,142.3 125.0,141.7 124.3,141.6 124.3,141.0 123.8,140.8 123.4,141.0 123.5,141.7 122.9,141.8 122.6,142.2 122.1,142.2 121.9,142.7 121.3,142.9 120.8,142.7 120.3,143.1 120.1,143.9 120.1,144.6 119.9,144.3 119.5,144.2 119.1,144.7 118.7,144.1 118.6,143.5 118.3,142.9 117.8,143.5 117.1,143.5 116.8,143.8 116.8,144.3 116.2,144.4 116.3,144.9 115.8,145.3 115.3,145.6 115.3,146.2 115.8,146.6 115.9,147.0 115.8,147.5 115.8,148.0 116.2,148.2 116.0,149.2 115.1,148.9 114.6,149.4 114.9,150.2 115.0,150.9 115.8,151.2 116.4,150.8 117.1,150.9 117.7,150.9 118.0,151.5 118.5,151.4 119.1,151.5 119.4,150.6 120.4,150.8 119.8,150.3 119.5,149.5 120.2,149.4 120.8,149.5 121.3,149.2 121.9,149.1 122.2,149.6 122.8,149.2 123.0,149.6 123.3,149.9 123.9,150.0 124.0,149.4 124.0,148.9 124.2,148.5 124.2,147.9 124.7,147.4 125.3,147.2 125.9,147.4 126.1,148.1 126.8,148.4 127.2,148.5 127.6,148.5 128.1,148.2 127.9,147.7 128.3,147.4 128.5,146.8 128.7,146.1 129.4,146.3 129.5,146.9 129.3,147.4 129.9,146.9" fill="#fff" stroke="#7c7c7c" stroke-width="0.9" stroke-linejoin="round"/>
<polygon points="119.7,136.5 119.3,136.8 118.9,137.2 118.7,137.7 118.9,138.2 119.0,138.7 118.6,139.0 118.3,138.7 118.0,138.4 118.1,138.9 117.8,139.3 117.3,138.9 117.0,139.4 116.8,139.1 116.4,138.8 115.9,138.5 115.9,137.9 116.2,137.3 115.8,136.8 115.3,137.2 114.9,137.5 114.4,137.8 114.5,138.4 114.5,137.8 114.1,137.3 114.6,137.0 114.9,136.5 114.7,136.1 115.0,135.7 115.1,135.1 114.5,135.1 114.0,135.2 113.4,135.1 114.0,134.6 113.5,134.0 113.0,134.8 113.5,135.7 114.5,135.8 114.6,136.9 115.0,136.1 114.9,135.2 115.5,134.5 116.4,134.3 117.0,134.2 117.6,134.1 118.1,134.3 118.7,134.4 118.6,134.8 118.8,135.2 118.6,135.6 118.3,135.9 118.9,136.4" fill="#fff" stroke="#7c7c7c" stroke-width="0.9" stroke-linejoin="round"/>
<polygon points="119.0,141.0 118.3,141.0 118.3,141.6 118.3,142.1 118.5,142.5 118.2,142.2 117.7,142.3 117.2,142.6 117.5,143.1 117.5,142.5 116.9,142.2 116.5,142.1 116.1,142.0 116.3,142.6 115.7,142.8 115.0,142.6 114.6,141.9 114.8,141.3 115.4,141.5 115.2,141.2 114.8,140.9 114.8,140.3 114.4,139.9 114.9,139.5 115.5,139.4 116.1,139.7 116.8,139.8 117.1,140.3 117.6,140.8 118.3,141.0" fill="#fff" stroke="#7c7c7c" stroke-width="0.9" stroke-linejoin="round"/>
<polygon points="107.3,157.9 107.8,157.3 107.7,156.6 108.4,156.5 108.9,155.9 109.3,155.5 109.5,154.9 109.6,154.3 109.6,153.7 109.6,153.0 108.9,152.7 108.7,152.2 108.4,151.6 107.7,151.3 108.3,150.7 107.9,150.4 107.5,150.3 108.0,150.6 108.6,150.8 107.8,149.8 109.1,149.6 109.0,149.2 109.3,148.9 108.8,148.9 108.6,148.5 108.0,148.6 107.4,148.4 106.7,148.4 106.1,148.4 106.4,147.8 106.1,147.2 105.8,147.5 105.3,147.4 105.2,148.1 104.6,147.9 104.7,147.2 105.4,147.1 106.0,147.0 106.3,146.5 105.9,146.1 105.5,145.6 105.0,145.4 104.6,145.0 105.2,144.6 105.2,144.0 104.9,143.3 105.4,142.8 106.0,142.3 106.5,142.8 106.0,142.4 106.1,141.8 106.7,141.5 107.2,141.2 107.0,140.8 107.0,140.3 106.6,140.0 106.8,139.5 106.4,139.7 106.1,140.0 105.9,140.6 105.2,140.6 104.7,140.3 104.5,139.8 103.9,140.2 103.3,140.5 103.3,140.9 103.7,141.2 103.3,141.5 103.1,141.9 103.4,142.4 103.1,142.8 103.1,143.4 102.7,143.7 102.7,142.9 102.0,143.0 101.4,143.2 100.9,143.1 100.6,143.7 100.4,144.5 101.0,144.9 101.6,145.3 100.9,145.4 100.6,146.1 100.3,145.7 100.0,145.3 99.9,145.8 99.4,146.1 98.9,146.3 98.7,146.8 98.8,147.4 99.4,147.5 100.0,147.9 100.7,147.6 100.3,148.1 100.2,148.8 99.8,148.1 99.0,148.0 98.7,148.6 98.2,149.1 97.8,149.6 97.8,150.2 98.5,150.4 98.6,151.1 98.8,151.4 99.1,151.7 99.4,152.1 99.9,152.0 100.1,152.6 99.5,153.0 99.0,152.7 98.5,153.0 98.8,153.4 98.9,153.9 98.9,154.3 98.8,154.8 99.2,155.1 99.6,155.1 99.8,155.6 99.4,155.9 99.7,156.6 100.5,156.4 99.7,156.5 99.5,157.2 99.6,157.8 99.8,158.5 100.5,158.6 100.6,159.3 101.1,158.9 101.4,159.4 101.1,158.9 101.6,158.6 101.8,159.1 102.3,159.2 102.8,159.5 103.2,159.1 103.9,159.4 104.3,160.0 105.1,160.4 105.0,161.2 105.5,160.7 105.8,160.0 106.1,159.5 106.6,159.0 107.2,159.0 107.7,158.9 107.9,158.2" fill="#fff" stroke="#7c7c7c" stroke-width="0.9" stroke-linejoin="round"/>
<polygon points="102.8,143.2 103.2,142.5 103.6,141.9 103.3,141.2 102.7,141.6 102.8,141.1 102.5,140.8 101.9,140.2 101.2,140.0 101.4,140.4 101.4,140.9 100.8,140.9 100.8,141.5 100.2,142.0 99.6,142.3 100.2,142.4 100.8,142.4 101.3,142.7 101.8,143.0 101.2,143.1 100.9,143.7 101.3,143.4 101.7,143.1 102.0,142.6 101.5,142.2 102.0,142.2 102.3,142.5 102.7,142.2 102.8,141.8 103.1,142.1 103.2,142.5 103.5,143.2" fill="#fff" stroke="#7c7c7c" stroke-width="0.9" stroke-linejoin="round"/>
<polygon points="108.9,138.7 108.6,138.3 108.2,138.0 108.2,137.5 108.0,137.0 108.2,136.6 108.4,136.1 108.2,135.7 108.1,135.2 107.6,135.2 107.2,135.1 106.9,134.8 106.7,134.4 106.3,135.0 106.0,135.8 106.6,135.5 106.8,134.9 106.9,134.3 107.2,133.8 106.7,134.2 106.1,134.0 105.5,133.5 105.0,134.0 104.6,134.4 104.2,134.7 103.7,134.3 103.2,134.3 102.7,134.8 102.1,134.8 101.9,135.4 102.2,135.9 102.5,136.2 102.7,136.6 103.0,136.8 103.5,136.9 103.4,137.3 103.3,137.7 102.8,137.9 102.8,138.4 103.1,139.3 102.1,139.3 102.8,139.7 102.5,140.4 103.0,140.4 103.4,140.8 103.9,140.8 104.3,141.2 104.6,140.9 104.9,140.6 105.4,140.5 105.8,140.4 106.6,140.7 107.1,140.1 106.2,139.8 106.5,138.9 106.6,139.4 106.9,139.7 107.3,139.3 107.8,139.5 108.2,138.9" fill="#fff" stroke="#7c7c7c" stroke-width="0.9" stroke-linejoin="round"/>
<polygon points="106.6,130.8 106.9,130.4 106.8,129.8 107.0,129.2 107.7,129.4 108.1,129.4 108.6,129.3 108.6,128.7 109.2,128.6 109.8,128.6 110.4,128.7 110.9,128.3 111.5,128.3 111.4,127.8 110.9,127.8 111.3,127.5 111.3,127.0 111.5,126.4 112.0,126.1 112.5,125.5 113.2,125.5 112.8,126.6 113.9,126.5 114.4,126.1 114.0,125.5 114.2,125.0 113.8,124.6 114.3,124.2 114.8,123.7 114.9,123.3 115.2,123.0 114.6,123.0 114.5,122.4 113.9,122.3 113.5,122.8 113.9,122.1 113.1,121.8 113.6,121.7 113.8,121.2 113.3,120.9 113.4,120.3 113.1,119.6 112.9,118.9 113.6,118.6 114.1,118.0 113.9,117.5 113.8,117.1 113.9,116.4 113.2,116.4 113.0,115.8 112.4,116.0 111.9,115.6 111.4,115.9 111.2,116.7 111.3,117.4 110.8,118.1 111.3,118.7 110.5,118.7 110.1,118.1 109.4,117.7 110.1,117.2 109.9,116.8 109.5,116.5 109.2,117.4 108.7,116.7 108.3,116.7 107.8,116.8 107.2,117.1 106.5,117.3 105.8,117.4 105.2,117.9 104.6,118.2 104.7,118.8 104.8,119.4 105.4,119.5 104.7,119.0 104.7,119.9 104.3,120.1 104.1,120.5 104.7,121.0 104.9,121.7 105.3,121.9 105.3,122.4 104.9,122.7 104.9,123.2 104.5,123.8 104.5,124.5 104.0,124.4 103.7,124.8 103.9,125.2 103.8,125.6 103.8,126.3 104.3,126.8 103.6,126.8 103.1,127.2 103.6,127.4 103.9,127.8 104.3,128.4 103.8,128.8 104.4,128.6 104.5,129.3 104.8,129.0 105.2,128.8 104.8,129.5 104.9,130.2 105.4,129.7 105.8,130.4 106.4,130.4" fill="#fff" stroke="#7c7c7c" stroke-width="0.9" stroke-linejoin="round"/>
<polygon points="117.6,120.4 117.3,119.9 117.4,119.4 117.8,119.1 118.2,118.9 117.9,118.3 118.5,118.0 119.0,118.3 119.5,117.9 118.9,117.7 118.6,117.1 118.0,116.1 119.2,116.1 119.6,116.0 119.9,115.7 120.6,115.8 120.7,115.2 121.4,114.8 121.5,113.9 120.4,115.3 120.1,113.6 119.8,114.5 119.1,115.0 118.6,114.3 118.3,113.5 117.6,113.5 117.5,112.9 117.0,112.7 116.8,112.2 116.4,112.5 116.1,112.9 116.2,113.6 115.5,113.6 115.2,114.4 114.5,114.7 114.7,115.1 114.8,115.5 114.4,115.8 114.0,116.1 114.4,116.4 114.8,116.7 115.1,117.0 115.2,117.5 114.8,117.2 114.3,117.5 114.7,117.8 115.1,117.8 114.8,118.3 115.3,118.6 115.5,119.0 115.9,119.2 116.3,118.9 116.7,119.1 117.1,119.8" fill="#fff" stroke="#7c7c7c" stroke-width="0.9" stroke-linejoin="round"/>
<polygon points="107.7,111.1 108.1,111.0 108.5,110.9 108.7,110.5 109.1,110.2 108.8,109.8 108.8,109.4 108.9,108.8 109.5,108.7 109.6,108.2 109.4,107.7 109.8,107.5 110.3,107.3 110.5,106.8 110.7,106.4 110.4,106.0 109.9,105.8 109.9,104.9 109.2,104.2 108.8,103.1 107.7,103.5 108.2,102.9 108.9,102.4 109.4,101.8 110.2,101.6 109.5,101.9 108.9,102.4 108.9,103.3 108.1,103.7 107.6,102.7 106.5,103.0 106.8,102.1 106.1,101.4 105.6,100.7 104.8,100.6 104.0,100.5 103.3,100.2 102.9,101.0 103.4,101.8 102.4,102.0 102.3,103.0 102.8,102.6 102.9,101.9 102.9,101.3 103.2,100.7 102.2,100.2 102.9,99.3 102.2,98.7 101.4,99.0 101.2,98.2 101.4,97.3 101.2,96.3 102.0,95.8 101.3,94.9 100.2,95.2 99.4,95.6 98.8,96.4 98.9,97.4 97.8,97.5 97.1,97.3 96.5,97.0 96.7,97.6 96.8,98.2 96.3,98.7 96.6,99.4 97.2,99.1 97.3,99.8 97.3,100.2 97.0,100.5 96.6,100.9 96.1,101.3 95.5,101.6 94.9,101.9 95.2,102.5 95.4,103.1 95.8,103.3 96.2,103.6 96.2,104.2 96.8,104.3 97.6,104.3 97.8,105.0 97.3,103.7 98.6,104.0 98.7,104.8 97.9,105.0 98.3,105.4 98.9,105.7 99.2,106.2 99.9,106.2 99.1,106.5 99.6,107.2 99.9,107.6 100.3,107.8 100.5,107.3 101.0,107.2 101.5,107.6 102.1,107.4 101.9,107.9 101.7,108.4 102.1,109.0 101.8,109.6 101.9,110.3 101.9,110.9 102.1,111.4 102.4,111.8 103.0,112.2 102.8,112.8 102.3,113.3 101.6,113.1 101.4,113.7 101.2,114.3 101.8,114.4 102.5,114.3 102.8,114.7 102.8,115.2 103.1,114.8 103.6,114.7 104.1,114.5 104.6,114.5 104.8,114.0 105.0,113.6 105.0,114.3 105.7,114.4 106.1,113.9 106.7,114.1 106.7,113.6 107.1,113.4 107.4,113.0 107.7,112.7 107.7,112.3 107.7,111.9 107.5,111.5" fill="#fff" stroke="#7c7c7c" stroke-width="0.9" stroke-linejoin="round"/>
<polygon points="98.4,121.1 99.2,121.6 100.1,121.2 100.1,122.2 99.3,122.8 99.9,123.1 100.3,123.7 99.8,124.2 99.4,124.7 99.1,123.9 98.3,123.9 97.4,124.2 97.5,125.1 97.6,125.8 97.0,126.1 96.5,125.5 95.8,125.9 96.2,126.5 96.2,127.2 95.5,127.3 95.0,127.8 94.4,127.5 94.1,127.0 93.6,127.5 93.0,127.3 93.0,127.7 93.1,128.1 92.6,128.3 92.7,128.9 92.4,129.3 92.7,129.7 92.5,130.2 92.2,130.4 91.8,130.7 91.4,131.0 90.9,131.0 90.5,130.9 90.2,130.5 89.8,130.4 89.6,129.7 89.0,130.0 88.2,130.0 87.5,130.1 88.0,130.8 87.8,131.5 87.5,130.6 86.8,131.3 86.4,131.7 85.8,131.5 86.4,130.5 87.0,129.6 86.0,129.1 85.1,128.6 84.3,129.4 83.4,128.8 82.7,129.3 82.6,130.2 83.1,129.7 82.8,129.1 82.4,128.7 81.9,128.3 81.9,127.8 81.7,127.2 81.3,127.0 80.8,126.6 81.3,127.4 80.4,127.7 79.9,128.1 79.5,128.6 78.8,128.8 78.4,128.1 77.9,128.6 77.2,128.3 76.7,128.3 76.4,128.6 75.9,128.6 75.7,129.1 75.1,129.4 74.6,129.1 74.9,128.4 74.4,128.0 75.0,128.8 75.7,128.0 76.1,127.5 76.4,127.0 76.2,126.4 76.0,125.8 75.5,125.5 74.9,125.3 75.2,124.8 75.3,124.2 75.6,123.7 76.2,123.7 75.6,123.3 75.2,122.8 75.7,122.2 76.5,122.4 76.5,121.9 76.2,121.5 75.7,121.4 75.3,121.8 75.8,121.7 76.3,121.9 76.8,121.8 77.3,122.0 76.4,121.7 75.9,120.8 76.5,120.0 77.5,120.0 76.6,120.1 76.2,119.4 75.8,120.3 74.8,119.9 75.3,119.2 74.9,118.5 75.4,117.9 76.0,117.5 76.5,117.5 76.9,117.5 77.6,117.4 77.4,116.8 77.0,116.1 76.7,115.4 77.4,115.2 77.4,114.5 77.9,114.2 78.3,113.8 78.0,113.4 78.0,112.9 77.9,112.5 77.4,112.2 77.5,111.6 78.1,111.6 78.2,111.2 78.7,110.9 79.2,111.1 79.6,110.7 79.5,110.2 79.6,109.7 79.5,109.0 80.2,108.9 80.9,108.7 81.1,109.4 81.3,109.8 81.7,110.0 82.0,109.6 82.5,109.6 83.3,109.4 83.7,108.8 84.1,108.2 84.8,108.0 85.1,107.4 85.4,106.8 86.1,107.0 86.6,107.6 87.3,107.6 88.1,107.6 88.5,107.3 88.6,106.8 88.4,106.4 88.1,106.0 88.3,105.6 88.6,105.3 89.0,105.2 89.4,105.1 88.9,105.4 88.8,106.0 89.0,106.5 89.2,107.0 89.9,107.2 90.0,107.9 90.6,107.8 91.1,107.5 91.6,107.5 92.2,107.7 92.6,107.3 93.1,107.1 93.7,106.6 93.9,105.9 93.4,105.3 92.7,105.1 92.3,105.6 91.9,106.0 92.3,106.5 93.0,106.5 92.6,106.8 92.7,107.3 93.1,107.2 93.6,107.2 94.0,107.0 94.4,106.9 94.1,107.2 93.6,107.3 93.2,107.5 92.8,107.5 93.0,107.9 93.3,108.2 93.7,108.4 93.8,108.8 93.9,109.3 93.8,109.8 94.3,110.0 94.5,110.5 94.4,110.0 94.9,109.6 95.3,109.4 95.8,109.3 96.1,109.7 96.3,110.2 97.1,110.4 96.9,109.6 97.2,109.9 97.4,110.3 97.7,110.9 97.2,111.4 97.9,111.4 98.1,112.0 98.6,112.4 98.3,113.0 98.8,113.2 99.1,113.6 98.6,113.7 98.4,114.2 98.4,114.7 98.2,115.2 98.6,115.4 99.1,115.5 98.9,116.0 98.8,116.4 99.4,116.6 100.1,116.6 100.2,117.0 100.1,117.5 100.2,117.9 100.3,118.4 99.3,118.1 99.3,119.2 98.8,118.8 98.5,118.2 98.8,118.6 99.2,118.8 99.7,119.1 99.5,119.7 99.2,120.1 98.7,120.2 98.8,120.7" fill="#fff" stroke="#7c7c7c" stroke-width="0.9" stroke-linejoin="round"/>
<polygon points="95.8,137.5 96.5,137.4 96.8,136.8 97.0,136.3 97.0,135.7 96.5,135.4 96.4,134.8 96.4,134.3 96.4,133.7 96.9,133.3 96.8,132.6 96.2,132.8 95.7,133.0 95.2,132.6 95.3,132.0 94.9,131.7 94.4,131.7 94.6,131.3 94.8,130.9 94.3,131.3 93.7,131.4 93.3,130.8 92.8,131.3 93.0,130.6 92.2,130.7 92.1,131.2 92.5,131.5 92.1,131.8 91.7,132.0 91.1,132.3 90.8,133.0 90.2,132.7 89.5,132.3 89.1,132.1 89.1,131.6 89.5,131.3 89.3,130.8 88.8,131.3 89.2,131.9 89.0,130.9 88.1,131.5 87.8,131.2 87.5,130.9 87.3,131.2 86.8,131.3 86.8,132.0 86.1,132.3 85.5,132.6 85.0,133.0 85.6,133.3 86.1,133.4 86.8,133.5 86.7,134.2 86.0,133.0 87.3,133.5 86.7,133.9 86.9,134.6 86.8,135.3 86.1,135.4 86.6,135.8 86.9,136.3 86.7,137.0 87.3,137.5 87.1,137.0 87.6,136.7 88.0,137.0 88.4,137.0 89.1,137.0 89.6,137.4 90.0,137.7 90.5,137.9 91.2,137.7 91.4,138.4 91.1,138.0 91.3,137.5 91.5,136.6 92.2,137.2 92.7,137.2 93.1,136.8 93.5,137.3 93.4,137.8 94.0,138.1 94.7,138.3 95.2,138.5 95.6,138.4 95.5,137.9" fill="#fff" stroke="#7c7c7c" stroke-width="0.9" stroke-linejoin="round"/>
<polygon points="96.1,146.0 96.5,146.2 96.9,146.1 97.4,146.4 97.7,145.9 98.0,145.4 98.6,145.4 98.5,144.8 98.2,144.4 97.7,144.4 97.3,144.5 96.5,144.6 96.6,143.8 95.2,144.4 95.5,142.9 96.1,142.5 96.8,142.2 96.1,142.1 96.1,141.5 95.8,141.2 95.7,140.7 96.0,140.4 96.0,139.9 95.5,140.3 95.1,139.9 94.6,139.7 94.1,140.0 93.5,139.8 93.1,139.5 93.1,140.1 92.5,140.4 92.9,140.9 92.6,141.4 92.5,142.0 91.8,142.0 91.3,141.7 90.9,142.1 90.6,141.9 90.2,141.7 89.8,141.4 89.6,141.0 89.3,140.7 89.3,140.2 89.1,139.9 88.8,139.7 88.5,140.0 88.1,140.1 88.4,140.7 88.2,141.4 87.8,141.6 87.4,141.6 86.8,141.6 86.8,142.2 87.4,142.2 87.7,142.8 87.9,143.3 88.2,143.7 89.0,143.6 89.4,144.3 89.8,144.9 90.5,145.2 91.1,144.9 91.8,145.3 91.8,145.9 91.8,146.6 92.5,146.3 92.8,146.9 93.2,146.7 93.8,146.6 93.9,145.9 93.4,145.4 93.7,145.7 94.1,145.9 94.2,145.4 94.7,145.3 95.3,145.5 95.1,146.2 95.4,145.8 95.5,145.2 95.9,145.6" fill="#fff" stroke="#7c7c7c" stroke-width="0.9" stroke-linejoin="round"/>
<polygon points="75.8,137.4 76.0,136.8 76.5,136.5 76.0,136.2 75.9,135.6 75.6,135.2 75.3,134.9 75.3,134.4 75.3,133.9 75.2,133.2 75.5,132.6 74.8,132.4 74.2,132.9 74.3,132.3 74.4,131.7 73.8,131.8 73.2,131.9 73.3,132.6 72.6,132.6 72.5,133.2 71.8,133.1 71.4,133.4 71.0,133.2 70.5,133.1 70.1,133.2 70.3,133.7 70.9,134.0 70.8,134.5 70.6,135.1 71.1,135.6 71.5,136.2 72.2,136.0 72.6,135.3 72.2,135.4 71.8,135.7 71.2,135.6 71.2,136.3 70.8,136.4 70.4,136.3 69.9,136.4 69.6,136.7 70.3,137.1 71.0,137.3 71.2,137.8 71.5,138.2 72.0,138.2 72.4,137.9 72.3,138.6 73.0,139.0 73.6,138.6 74.3,138.7 75.0,138.5 74.8,137.7 75.2,137.3" fill="#fff" stroke="#7c7c7c" stroke-width="0.9" stroke-linejoin="round"/>
<polygon points="95.8,160.4 94.4,160.5 95.1,161.7 94.6,162.7 95.7,163.1 95.9,164.2 97.1,164.5 97.6,163.6 98.3,162.9 97.8,163.1 97.3,163.0 96.8,162.7 96.2,162.9 95.7,163.1 95.3,163.5 95.7,164.1 95.3,164.6 93.8,165.0 93.7,166.6 93.0,167.6 93.0,168.9 93.6,167.2 94.9,166.1 96.4,166.9 97.7,167.9 97.0,168.0 96.5,168.4 96.3,167.7 95.7,167.4 95.3,168.0 94.9,168.6 94.3,168.1 93.6,167.9 93.1,168.0 92.5,168.2 91.9,168.5 91.6,169.0 91.9,169.6 92.5,169.9 92.5,170.6 91.9,170.4 91.5,171.0 92.1,171.2 91.7,171.4 91.2,171.6 91.2,172.2 90.6,172.3 89.9,172.1 89.4,172.4 88.6,172.1 88.9,171.3 88.4,171.7 87.8,172.0 89.2,171.5 88.8,172.9 88.9,173.3 88.9,173.7 89.3,174.0 89.2,174.5 88.9,175.2 88.2,175.5 87.8,175.8 87.3,176.1 87.4,175.4 86.8,175.1 86.8,175.8 87.3,176.3 87.3,176.9 87.9,177.0 87.7,177.4 87.3,177.6 86.9,178.0 87.3,178.4 87.1,178.8 87.0,179.3 87.0,179.9 87.6,179.9 87.0,179.7 87.0,180.4 86.5,180.6 85.9,180.6 86.0,179.7 85.2,179.4 85.0,180.2 84.2,180.4 84.9,180.4 85.5,180.8 84.7,181.2 84.7,182.0 85.3,182.2 85.1,182.7 84.7,183.1 84.9,183.5 84.4,184.0 84.0,184.5 84.7,183.5 83.4,183.3 83.1,183.7 83.0,184.1 82.3,184.3 82.7,184.9 82.2,184.9 81.7,185.0 81.6,185.5 81.4,186.0 81.0,185.3 81.0,184.6 80.2,184.8 79.5,184.7 79.4,185.3 79.0,185.8 78.3,185.9 78.0,186.5 77.6,186.9 77.2,187.4 77.2,188.1 77.7,188.5 77.7,189.5 77.1,190.3 75.8,190.1 75.8,188.9 76.3,190.5 77.0,192.0 75.1,192.5 73.7,191.3 73.9,192.3 75.0,192.7 76.1,192.8 76.8,192.0 76.3,191.5 75.7,191.3 75.2,191.7 74.6,192.1 75.4,192.4 76.1,192.5 76.1,193.4 75.6,194.0 75.4,194.6 74.9,195.0 74.6,195.5 74.6,196.1 74.1,196.4 74.0,196.9 73.8,197.3 73.6,197.7 73.6,198.2 73.8,198.7 74.1,199.1 74.2,199.5 73.7,199.3 73.3,199.0 72.8,199.1 72.3,199.4 72.4,198.9 72.1,198.5 72.0,198.1 72.0,197.6 71.6,198.2 70.9,198.6 70.5,199.3 69.9,199.6 69.5,199.3 69.1,199.1 68.8,198.6 69.2,198.2 68.7,198.1 68.3,198.0 67.6,197.8 67.6,198.5 67.0,198.1 66.3,197.9 65.6,198.2 65.1,198.7 64.9,199.4 64.4,200.0 64.1,199.7 63.7,199.6 63.3,199.8 62.9,199.9 62.8,199.2 62.5,198.6 62.1,198.9 61.7,199.0 61.1,198.9 61.1,198.3 61.2,199.2 61.7,200.0 60.9,199.4 59.9,199.6 59.4,199.6 58.9,199.8 58.4,199.7 58.0,199.3 57.8,199.8 57.6,200.4 57.4,201.0 56.9,201.3 57.7,200.3 56.9,199.3 56.0,199.9 54.9,199.9 55.2,199.3 54.8,198.8 54.3,199.0 53.7,198.8 53.1,198.8 53.0,198.2 52.5,198.4 52.1,198.5 52.8,198.0 53.4,197.5 52.5,197.4 51.9,196.7 51.5,196.3 51.0,196.5 50.3,196.4 50.5,195.8 50.5,194.5 50.9,193.3 50.9,192.1 50.9,190.8 49.3,190.7 48.4,189.4 47.1,189.7 45.9,190.6 45.3,189.4 46.5,188.7 45.9,187.4 47.2,186.9 48.2,186.6 49.1,186.2 50.1,186.2 51.1,186.1 52.3,185.7 52.2,184.4 52.6,183.4 52.4,182.4 51.6,181.9 50.7,181.5 50.0,180.7 49.2,180.2 49.4,181.2 50.2,182.0 51.0,180.8 52.3,181.4 53.2,180.2 53.0,178.7 54.3,179.4 55.4,180.3 56.0,180.6 56.6,180.5 56.9,181.0 57.4,181.2 57.2,180.5 57.9,180.3 58.4,179.8 59.1,179.8 59.7,179.5 60.3,179.9 60.8,179.6 61.1,179.1 61.6,178.9 62.1,178.6 62.3,179.2 62.8,179.6 63.4,179.5 63.9,179.9 64.3,180.2 64.8,180.3 65.4,180.6 65.9,180.3 66.0,179.6 65.3,179.2 65.9,179.7 66.6,179.2 67.2,179.4 67.8,179.6 68.0,179.2 68.0,178.8 68.4,178.1 67.6,178.0 67.0,177.4 67.5,176.9 68.0,176.5 68.6,176.6 68.9,176.1 69.1,175.6 69.5,176.0 70.1,176.0 70.5,176.2 71.0,176.3 71.4,176.0 71.6,175.6 72.1,175.5 72.4,175.0 72.9,174.9 73.3,175.2 73.8,174.9 73.6,174.4 73.9,173.9 73.5,173.5 73.6,173.1 74.0,172.8 73.6,172.5 73.6,172.0 73.4,171.6 73.6,171.1 73.1,171.2 72.8,170.7 73.3,170.3 73.8,169.7 74.3,170.2 74.7,170.8 75.1,171.0 75.6,171.0 76.1,170.5 76.6,170.9 76.5,170.4 76.5,169.9 76.9,169.5 77.2,169.1 77.2,168.3 76.8,167.5 77.6,167.8 78.5,167.7 78.9,167.8 79.3,167.6 79.8,167.5 80.1,167.3 79.8,166.7 80.3,166.3 79.9,166.0 79.6,165.6 79.2,165.1 79.2,164.5 79.6,164.0 79.5,163.3 79.3,162.7 78.7,163.0 78.2,162.7 77.8,163.1 77.8,162.6 77.5,162.2 76.8,162.1 77.0,161.4 76.7,160.8 76.1,160.5 76.9,160.5 77.2,159.8 77.6,159.6 78.0,159.4 77.8,158.9 78.4,158.6 77.7,157.9 76.9,158.4 76.6,157.7 77.0,157.0 76.2,157.2 75.5,157.6 75.7,156.7 75.0,156.2 75.6,155.8 75.5,155.1 76.1,155.3 76.7,155.0 77.4,153.9 78.0,155.0 78.1,154.4 78.4,153.7 78.8,153.4 79.3,153.6 79.6,153.3 79.9,152.9 80.5,153.3 80.6,154.0 81.5,154.3 81.6,153.4 81.0,153.5 80.9,152.9 80.9,152.3 80.4,152.2 80.4,151.7 80.5,151.3 80.4,150.8 80.1,150.5 80.5,150.1 81.0,150.1 81.0,149.6 81.4,149.2 82.0,149.2 82.4,148.9 82.6,148.5 82.9,148.1 83.5,148.0 84.1,148.1 84.1,148.7 83.8,149.3 84.3,149.9 85.1,150.0 84.6,149.7 84.6,149.2 85.1,148.8 84.8,148.3 85.4,148.6 86.1,148.7 86.0,148.0 86.2,147.3 86.6,147.4 87.0,147.5 87.3,147.7 87.7,147.8 88.4,148.2 88.0,148.8 88.5,149.2 89.0,148.7 89.5,148.9 90.0,148.8 90.4,148.5 90.6,148.1 91.2,148.0 91.7,148.1 91.8,148.6 92.1,149.0 91.6,149.5 91.5,150.1 90.6,149.8 90.5,150.8 91.2,150.1 92.1,150.5 93.3,151.0 92.5,152.1 92.8,152.6 93.3,153.0 93.3,153.8 94.0,154.0 94.7,154.3 95.1,154.9 96.2,154.7 95.7,153.7 96.1,154.1 96.7,154.0 96.7,154.6 96.6,155.1 95.9,155.2 95.4,155.0 95.7,155.8 94.9,156.1 95.2,156.9 96.0,156.6 95.5,157.1 95.9,157.8 95.8,158.4 95.8,159.1 95.6,159.8" fill="#fff" stroke="#7c7c7c" stroke-width="0.9" stroke-linejoin="round"/>
<polygon points="95.0,163.3 94.8,162.9 94.8,162.5 95.2,162.4 95.6,162.6 96.0,162.4 96.4,162.1 96.1,161.7 95.8,161.4 95.6,160.9 95.4,160.5 95.0,160.1 95.4,159.7 95.0,159.7 94.6,159.5 94.0,159.7 93.3,159.5 93.2,160.3 93.0,161.0 92.7,160.6 92.2,160.8 91.8,160.9 91.5,161.0 91.8,161.3 92.2,161.2 92.5,161.6 92.1,162.0 91.9,162.6 92.1,163.2 92.7,163.2 92.9,162.5 93.5,162.5 93.9,162.2 93.3,162.6 93.8,163.2 94.4,163.6 95.1,163.7 95.4,164.1 95.3,164.7 94.8,164.5 94.3,164.9 94.7,164.5 95.1,164.3 95.2,163.8" fill="#fff" stroke="#7c7c7c" stroke-width="0.9" stroke-linejoin="round"/>
<polygon points="55.9,155.3 56.4,155.9 56.2,156.6 56.9,156.5 57.2,155.8 57.9,156.0 58.6,156.3 58.6,156.8 58.9,157.1 58.9,157.7 59.5,157.9 60.5,158.5 59.8,159.5 59.1,158.9 58.2,159.1 57.7,159.4 57.3,159.1 56.9,159.3 56.8,159.8 56.6,160.6 56.1,161.2 56.2,161.9 55.5,161.8 55.7,162.2 55.6,162.7 55.0,162.7 54.4,162.4 55.1,163.0 54.3,163.6 54.4,164.2 53.8,164.5 53.8,163.7 53.0,163.9 53.1,164.6 52.8,165.2 52.0,165.2 51.9,165.9 51.2,165.6 50.8,166.2 51.1,165.8 50.7,165.4 50.5,165.0 50.2,164.7 49.8,165.0 49.2,165.0 48.8,164.7 48.6,164.2 48.0,164.2 47.5,163.9 48.3,163.1 47.2,162.9 47.4,162.4 47.3,161.8 47.9,161.7 48.2,161.2 48.7,160.9 49.4,160.8 49.9,160.5 50.5,160.1 50.5,159.4 50.1,158.8 49.5,158.5 49.0,158.0 48.8,157.6 48.5,157.2 48.2,156.9 47.9,156.5 48.1,156.1 48.3,155.7 48.3,155.2 48.6,154.8 49.0,155.3 49.6,155.3 50.2,155.4 50.8,155.4 51.2,156.1 52.0,156.0 51.8,156.7 52.1,157.3 52.5,156.9 53.1,157.1 53.7,157.1 54.2,156.8 54.4,155.8 54.1,154.9 54.8,155.8" fill="#fff" stroke="#7c7c7c" stroke-width="0.9" stroke-linejoin="round"/>
<polygon points="146.6,35.5 146.2,35.9 146.0,36.4 146.1,37.0 146.7,37.0 146.0,36.9 146.0,37.5 145.6,37.3 145.2,37.0 144.8,37.3 144.3,37.3 143.7,37.5 143.6,38.2 143.8,38.8 144.4,39.0 143.7,39.1 143.1,39.2 142.3,39.5 142.2,40.2 141.5,40.3 141.2,41.0 140.8,40.8 140.4,40.8 140.3,41.2 140.1,41.6 139.7,42.1 139.0,42.0 139.0,42.6 138.6,43.0 138.0,43.0 137.7,43.5 137.1,43.6 136.9,44.1 136.4,44.0 136.3,43.5 136.2,44.1 135.7,44.1 135.7,43.5 135.8,43.0 135.2,42.9 134.6,42.8 134.6,42.1 135.1,41.7 135.7,41.8 136.3,42.0 135.4,42.3 136.1,42.9 136.6,42.9 136.9,43.1 136.9,43.6 137.0,44.1 136.5,44.7 137.1,45.1 137.6,44.8 138.1,45.2 138.4,44.6 139.0,44.4 139.5,44.6 140.1,44.8 140.7,45.1 141.0,45.6 141.3,46.2 141.5,46.8 142.1,47.1 142.7,47.4 142.8,47.9 143.4,47.9 143.1,48.3 143.1,48.7 143.2,48.2 143.8,48.2 144.2,48.2 144.6,48.5 145.1,48.0 145.8,47.6 146.0,48.4 146.7,48.8 146.1,49.0 145.5,49.3 146.0,49.4 146.4,49.7 146.2,50.1 145.9,50.5 145.5,50.0 144.9,49.9 145.1,50.5 144.9,51.1 144.8,51.6 144.9,52.2 144.3,52.6 143.6,52.7 143.3,53.2 143.0,53.8 142.5,54.4 142.0,55.0 142.3,55.7 142.6,56.3 143.2,56.5 143.2,57.2 143.8,57.1 144.3,57.3 143.6,57.0 143.3,57.7 143.3,58.3 142.8,58.6 142.3,58.9 142.0,59.3 141.3,59.5 141.3,60.3 141.7,60.5 142.1,60.9 141.8,61.3 141.9,61.9 141.2,61.5 140.7,61.0 139.6,61.4 140.3,62.4 139.6,62.5 139.1,62.9 139.1,63.6 138.4,63.8 139.1,63.6 139.3,64.3 139.0,64.8 138.6,65.1 138.4,65.7 138.5,66.4 137.8,66.6 137.6,67.4 137.0,67.7 136.3,67.7 135.8,68.1 135.2,68.2 135.1,68.9 134.7,69.4 134.3,69.0 133.7,69.0 133.2,68.9 132.8,69.3 133.3,69.1 133.2,68.5 133.1,68.0 133.2,67.6 133.1,68.4 133.8,68.9 133.3,69.7 132.4,69.6 132.3,70.2 131.8,70.5 131.5,71.1 131.9,71.6 131.7,70.6 132.2,69.7 133.0,68.8 132.4,67.8 131.4,67.7 130.3,67.7 129.4,68.1 128.6,68.8 127.9,68.7 127.5,68.0 126.8,68.1 126.5,68.8 126.0,68.9 125.6,68.7 126.2,69.3 125.5,69.6 124.6,69.3 124.4,70.2 123.9,69.7 124.3,69.0 123.5,68.9 123.2,69.6 122.8,70.1 122.5,70.6 121.9,70.6 121.3,70.4 120.7,70.3 120.1,69.9 119.7,70.5 119.0,70.8 118.7,71.5 118.6,72.2 118.2,72.4 118.1,72.9 117.7,73.1 117.3,73.3 116.6,73.9 115.7,74.0 115.4,73.1 115.9,72.3 115.5,72.0 115.1,72.2 114.7,72.4 114.5,72.8 114.0,73.3 113.7,74.0 113.0,73.6 112.2,73.9 112.0,74.4 111.5,74.7 111.3,74.1 110.8,73.7 110.4,73.9 109.9,74.1 109.6,74.5 109.4,74.9 108.9,74.8 108.4,74.6 108.2,74.2 108.0,73.7 107.6,73.3 107.1,73.3 106.9,73.8 106.4,73.9 106.1,74.2 105.8,74.4 105.8,74.9 105.5,75.2 105.5,74.7 105.5,74.2 105.0,74.1 104.5,74.3 104.1,74.7 103.6,74.3 103.1,74.7 103.5,75.2 102.8,74.7 102.2,75.2 103.1,75.2 103.0,76.0 102.7,76.8 102.0,76.5 102.7,77.5 101.6,78.0 102.1,78.8 103.0,78.6 102.4,78.4 101.9,77.9 101.0,77.4 100.7,78.4 100.7,78.9 100.7,79.5 100.6,80.3 101.3,80.6 100.6,80.7 100.0,81.0 99.4,81.4 99.1,82.0 99.1,82.7 99.5,83.3 99.7,83.9 99.5,84.6 99.0,84.8 98.4,84.8 97.8,84.8 97.5,85.4 97.5,86.4 96.6,86.6 96.1,86.1 95.4,85.8 95.7,86.4 95.6,87.0 96.3,86.9 96.8,87.5 97.0,88.4 97.8,87.9 98.2,88.5 98.8,88.3 98.5,88.6 98.3,89.0 98.7,89.4 98.5,89.8 99.0,90.1 99.0,90.5 98.8,90.9 98.8,91.4 98.6,90.8 98.0,91.1 97.6,91.4 97.2,91.0 96.9,91.5 96.4,91.1 95.9,91.2 95.6,90.9 95.5,91.6 95.0,92.1 95.9,92.0 96.0,92.9 95.6,93.3 95.2,93.6 95.0,94.1 94.6,94.4 94.7,93.8 94.7,93.2 94.0,93.2 93.4,92.9 92.9,93.0 92.5,92.7 92.2,92.4 91.7,92.2 92.0,92.8 92.5,92.4 92.4,92.8 92.7,93.2 92.8,93.9 92.7,94.6 92.6,95.1 92.0,95.3 92.0,95.9 91.9,96.4 91.3,96.5 90.6,96.4 90.7,95.7 90.2,95.2 89.8,95.4 89.5,95.8 89.2,96.1 89.0,96.5 88.6,96.3 88.2,96.5 87.8,96.8 87.3,96.6 87.9,96.3 88.5,96.3 89.2,96.3 89.8,96.3 90.0,97.1 89.3,97.5 89.0,98.3 89.7,98.8 89.2,97.9 88.1,98.0 88.3,97.2 88.8,96.4 88.0,96.5 87.4,97.0 86.4,97.2 86.2,96.2 86.2,96.7 86.0,97.3 86.3,97.8 86.5,98.4 85.8,98.7 86.1,99.4 85.9,99.9 86.0,100.5 85.4,100.1 84.8,100.1 84.1,100.4 84.0,101.0 83.1,101.3 83.1,102.2 83.5,102.9 84.4,102.7 84.1,102.3 83.6,102.2 83.2,102.5 82.7,102.6 82.5,101.9 82.3,101.2 81.7,101.8 80.9,101.5 80.1,101.7 80.5,102.5 80.3,102.9 80.0,103.4 79.7,103.1 79.3,102.8 79.0,103.1 78.6,103.2 77.8,103.4 77.3,103.9 77.2,104.5 76.8,105.0 76.2,105.0 75.5,104.9 75.2,105.2 74.8,105.3 74.3,105.3 73.9,105.4 74.1,105.9 74.7,105.9 74.2,106.5 74.9,106.8 75.6,106.7 76.3,106.9 76.9,107.3 77.2,107.9 76.6,108.8 75.8,109.5 77.8,107.9 77.8,110.4 78.3,111.3 77.8,112.2 77.3,113.2 76.2,112.9 75.5,112.6 74.7,112.6 74.2,111.9 73.4,112.0 73.9,112.2 74.1,112.7 73.6,112.9 73.1,113.0 73.1,113.6 72.7,113.9 72.1,114.0 71.6,114.2 71.0,114.3 70.8,115.0 71.6,115.2 71.4,116.0 72.0,116.0 72.6,115.9 72.4,116.4 72.4,116.9 72.5,117.8 71.6,117.6 72.2,117.2 72.6,117.7 73.0,117.8 73.5,117.7 74.0,118.1 73.6,118.6 73.1,118.7 72.9,119.2 72.5,119.1 72.1,119.4 71.8,119.6 71.3,119.5 71.9,119.3 72.5,119.5 72.8,118.7 73.5,119.1 73.4,119.6 73.5,120.2 73.3,120.8 73.5,121.3 72.6,121.1 72.1,121.8 71.7,122.7 72.7,123.1 72.0,123.4 72.3,124.1 72.5,124.6 72.7,125.0 72.1,125.5 71.5,125.7 71.7,126.5 71.1,127.0 69.6,126.1 69.2,127.8 69.7,126.7 68.9,125.7 68.9,126.4 68.5,126.9 69.1,127.1 69.5,127.5 69.0,127.4 68.5,127.6 68.1,127.9 67.8,128.3 67.4,128.6 67.2,129.1 67.8,129.0 67.9,129.7 68.2,130.4 68.0,131.1 67.7,131.5 67.2,131.5 67.0,131.8 66.9,132.3 67.1,133.2 66.4,133.8 67.2,133.9 67.9,133.5 68.6,133.7 69.3,133.7 69.5,134.3 69.8,135.0 69.3,135.2 69.1,135.7 68.6,135.2 68.1,135.6 68.3,136.0 68.2,136.5 68.1,137.0 68.1,137.5 68.7,137.2 68.9,136.7 69.3,137.1 69.8,137.4 70.5,137.5 71.0,136.9 71.1,137.6 71.3,138.2 71.7,138.7 72.0,139.1 71.8,139.7 71.6,140.2 72.0,139.7 72.7,139.8 73.2,140.1 73.6,140.5 74.0,140.0 74.2,139.3 75.3,139.0 75.3,140.1 75.9,139.8 75.9,139.2 76.6,139.1 77.0,139.7 77.2,138.9 78.0,138.9 78.7,139.2 79.2,139.5 79.3,140.1 79.3,140.7 79.5,141.2 79.7,141.8 80.8,141.1 81.9,141.8 83.1,141.7 83.9,140.9 81.9,139.9 83.6,138.4 82.0,139.2 81.3,137.6 81.8,137.7 82.4,138.0 82.9,138.5 83.6,138.3 84.0,138.9 84.6,139.2 84.4,139.9 84.6,140.5 85.2,140.2 85.7,140.8 85.3,141.3 85.4,141.9 85.8,141.9 86.2,142.0 86.7,141.9 86.9,141.5 86.1,141.7 85.5,141.1 84.8,140.8 84.7,141.6 84.1,141.5 84.1,140.9 83.7,141.6 83.0,141.9 82.4,142.6 81.5,142.7 82.3,143.0 83.0,143.5 82.5,143.5 82.3,143.9 82.4,144.6 81.8,144.6 81.7,145.1 81.1,145.1 80.7,145.3 80.4,145.5 80.0,146.0 79.6,145.5 79.3,145.9 78.8,145.6 78.8,146.3 78.0,146.2 77.3,146.5 77.2,145.7 76.9,145.3 76.4,145.1 76.2,145.6 76.1,146.0 75.8,146.7 75.1,146.6 74.5,146.9 73.8,146.9 73.7,147.5 73.4,148.1 74.4,148.9 75.5,148.3 75.7,149.4 75.5,150.5 74.2,150.3 74.2,151.6 73.4,152.3 72.5,151.5 72.1,151.9 71.6,151.8 71.0,151.6 70.9,151.0 70.5,150.8 70.0,150.8 69.6,150.8 69.1,150.8 68.7,151.3 68.1,151.5 67.5,151.5 67.2,152.1 67.5,151.4 66.8,150.9 66.1,151.1 65.5,150.8 66.0,151.6 66.6,152.2 65.9,152.9 64.9,152.8 65.3,153.1 65.5,153.6 65.9,154.0 66.5,153.8 66.2,154.3 66.5,154.8 66.8,155.2 66.6,155.7 67.4,155.4 67.7,156.2 67.1,157.1 68.1,157.3 68.8,157.2 69.4,157.3 69.4,156.6 69.9,156.1 70.4,156.5 71.0,156.8 71.4,156.1 72.1,156.1 72.7,156.2 72.9,155.6 73.5,155.7 73.3,156.4 73.7,156.9 73.9,157.4 73.9,157.9 74.3,158.3 74.8,158.2 75.2,158.6 74.7,158.8 74.7,159.3 75.2,159.4 75.6,159.5 75.8,159.2 76.1,158.9 76.5,159.2 76.6,159.7 76.2,159.2 75.6,159.0 75.4,159.6 74.8,159.9 74.1,159.9 74.0,160.6 74.0,161.2 74.4,161.6 73.9,161.5 73.4,161.5 72.9,161.6 72.4,161.3 71.9,161.8 71.3,161.6 70.6,161.8 70.7,162.6 70.4,163.2 69.7,163.4 69.0,163.4 68.4,163.2 67.8,163.1 67.7,163.7 67.3,163.5 66.9,163.2 66.5,162.6 66.3,161.9 65.3,162.7 64.3,162.1 64.9,161.2 65.0,160.2 64.7,158.3 66.5,159.0 66.2,157.7 64.9,158.0 64.2,158.1 63.4,158.3 63.2,159.0 63.4,159.8 63.3,160.8 62.3,160.8 61.0,161.1 61.1,159.7 60.9,159.3 60.4,159.2 60.2,158.5 60.9,158.3 61.4,157.8 61.9,157.3 61.9,156.8 61.6,156.4 61.0,156.4 60.9,155.7 60.3,155.7 60.0,156.2 59.8,156.7 59.4,157.0 58.8,156.8 58.8,156.2 59.2,155.8 59.6,155.5 60.3,155.8 61.1,155.9 61.0,155.4 61.1,154.9 60.6,154.6 60.6,154.0 60.2,153.6 60.5,153.2 60.2,152.6 59.7,153.0 59.1,152.7 58.4,152.7 57.8,152.6 57.6,153.2 57.6,153.6 57.3,154.0 56.8,154.0 56.6,153.6 56.1,153.7 55.8,153.3 55.4,152.9 55.6,152.3 56.3,151.9 55.8,151.3 56.0,150.1 54.8,149.9 53.5,149.9 53.8,151.2 54.0,151.9 53.2,151.9 52.8,152.2 52.4,152.3 52.3,153.8 51.1,152.9 50.5,152.3 50.9,151.5 49.6,150.4 48.0,150.5 45.5,151.0 45.9,148.5 43.1,147.8 42.2,150.5 41.4,148.5 40.3,146.7 38.4,149.1 35.8,147.7 35.1,149.9 34.8,152.2 32.3,149.9 34.0,147.0 31.4,147.7 28.7,147.3 27.9,142.1 22.7,142.2 25.5,136.4 19.2,135.1 16.5,131.0 19.8,127.3 17.1,124.0 17.5,119.8 15.3,116.6 14.1,112.9 13.6,109.1 13.1,105.4 16.4,102.3 17.1,98.0 13.5,95.0 13.8,90.3 17.6,84.9 24.2,85.1 23.8,78.7 28.2,74.2 32.8,70.9 35.4,66.0 41.1,63.2 41.2,56.8 43.8,51.7 48.5,48.5 54.9,47.1 56.4,40.7 56.5,35.0 57.3,29.3 64.0,26.8 63.3,19.6 59.7,14.1 65.0,10.1 69.8,10.9 74.6,10.2 79.4,10.7 81.5,6.4 85.5,5.9 89.2,7.5 92.6,6.1 96.4,6.1 100.1,4.2 103.7,6.3 108.9,8.1 110.0,2.7 112.8,-0.1 116.8,0.1 117.3,2.7 119.8,3.6 122.0,7.0 124.3,3.6 124.5,5.8 125.9,7.5 126.5,10.7 129.6,9.8 129.9,12.1 131.9,13.2 132.9,15.3 135.0,16.0 137.2,17.8 138.0,20.5 139.9,18.1 143.0,18.4 143.1,20.3 144.9,21.3 143.4,22.3 141.9,23.1 143.6,24.3 142.5,25.9 143.7,26.6 145.1,26.9 145.7,28.1 146.7,29.0 145.6,30.0 145.2,31.3 145.3,32.5 145.3,33.6 146.2,34.4" fill="#fff" stroke="#7c7c7c" stroke-width="0.9" stroke-linejoin="round"/>
<polygon points="150.4,37.2 150.2,38.0 150.9,38.1 150.9,38.7 150.6,39.3 150.8,39.6 150.8,40.1 151.2,39.9 151.6,40.0 151.9,40.5 152.4,40.9 152.9,40.5 153.5,40.6 154.0,40.9 154.4,40.4 154.4,39.8 155.0,39.7 155.4,39.8 155.8,40.0 156.1,40.3 156.4,40.7 156.8,40.5 157.2,40.9 157.5,41.3 158.0,41.2 158.6,41.3 158.6,41.8 159.0,42.0 159.4,42.2 160.0,42.6 159.9,43.3 160.4,42.9 161.0,42.9 161.6,43.3 162.2,43.0 162.7,43.5 162.3,44.1 161.9,44.8 162.6,45.2 162.3,45.7 161.7,45.9 161.5,46.3 161.4,46.7 161.5,47.2 161.7,47.6 161.7,47.0 162.0,46.5 162.9,46.9 163.0,45.9 163.0,46.9 164.0,46.6 164.5,46.8 165.1,46.6 165.9,46.3 166.6,45.9 166.7,46.5 167.3,46.3 167.5,46.7 167.8,47.0 168.2,47.2 168.7,47.2 168.7,47.8 169.1,48.2 169.6,48.1 170.0,47.8 169.3,47.7 169.3,47.0 169.8,46.6 170.4,46.9 171.0,47.2 171.0,47.9 171.0,48.3 171.4,48.6 171.7,48.4 172.0,48.1 172.7,48.1 173.3,47.7 173.9,48.2 173.8,48.9 174.3,49.4 174.8,49.8 174.5,50.4 174.8,51.1 175.4,51.0 176.0,51.4 176.6,51.5 177.1,51.0 177.5,51.6 178.1,51.1 178.2,51.6 178.7,51.8 179.0,52.3 179.5,52.4 179.9,52.6 180.3,52.7 180.9,52.8 181.5,52.9 182.1,52.8 182.2,52.1 182.3,52.7 182.4,53.2 182.2,53.8 181.6,54.0 182.1,54.5 182.6,54.0 182.9,54.4 183.4,54.5 184.0,54.9 184.4,55.6 185.0,55.8 185.7,55.8 186.3,55.8 186.5,56.3 186.7,56.0 187.0,55.6 187.0,55.0 187.4,54.6 186.8,54.5 186.3,54.5 186.4,53.8 186.7,53.1 187.0,52.6 187.5,52.7 188.0,52.6 188.5,52.4 188.5,51.9 188.9,51.7 189.3,51.8 189.7,51.9 190.2,51.5 190.4,50.9 189.6,51.4 189.2,50.7 189.4,51.1 189.3,51.6 189.6,52.1 189.3,52.6 188.8,53.2 188.8,53.9 189.5,54.2 190.2,54.3 190.1,54.9 190.6,55.3 191.1,55.1 191.0,54.5 191.5,54.6 191.7,55.1 191.4,55.5 191.5,55.9 191.8,56.3 192.3,56.3 192.7,56.7 192.3,57.1 192.8,56.9 193.1,57.3 193.6,56.8 194.2,56.3 194.9,56.6 195.1,57.4 195.6,56.7 194.8,56.4 194.4,55.8 195.0,55.4 195.8,55.2 196.2,55.9 196.9,55.5 197.4,56.0 198.2,55.9 198.5,56.6 199.2,56.5 199.8,56.8 200.2,56.9 200.7,56.8 201.1,56.9 201.5,56.9 201.3,57.3 201.0,57.7 200.6,57.9 200.1,57.9 200.3,58.4 200.9,58.4 200.8,58.9 200.8,59.4 200.2,59.6 199.6,60.0 200.1,60.4 200.7,60.8 201.1,61.1 201.6,61.0 201.3,61.4 201.5,61.9 201.9,62.0 202.2,62.3 202.6,62.1 203.0,62.3 203.2,63.2 202.5,63.7 201.8,63.3 201.5,62.6 201.8,63.4 202.4,63.8 203.0,64.1 203.6,63.9 203.5,64.5 203.5,65.1 204.0,64.7 204.4,65.2 204.7,65.5 205.0,65.9 205.3,65.4 205.8,65.8 206.2,65.8 206.6,66.0 207.0,66.2 207.3,66.4 207.5,66.8 207.8,67.1 208.0,66.5 208.4,65.9 208.9,66.4 209.5,66.8 209.0,67.0 209.0,67.6 209.2,68.0 209.0,68.5 209.4,68.4 209.9,68.2 210.3,68.2 210.8,68.1 211.5,67.8 212.1,68.3 212.7,68.7 213.4,68.6 212.7,69.0 212.5,69.8 212.7,70.4 212.1,70.5 212.1,71.0 212.6,71.2 212.8,71.6 213.1,72.1 213.6,72.6 213.2,73.1 212.8,73.4 212.3,73.6 211.9,73.9 211.4,74.1 211.3,74.8 211.9,75.2 212.5,75.1 213.1,75.3 213.6,75.6 213.7,76.1 214.0,76.6 214.3,77.1 215.0,77.5 215.7,77.7 216.1,78.4 216.4,79.1 216.7,79.4 217.1,79.7 217.4,80.4 218.1,80.0 217.7,80.6 217.1,80.9 217.6,81.3 217.9,81.9 218.6,82.2 219.3,82.5 219.9,82.5 220.3,82.1 220.8,82.3 221.2,82.5 220.7,83.1 220.1,82.7 220.2,83.4 219.9,83.9 220.5,83.8 221.1,84.1 221.8,83.9 222.2,84.5 222.6,84.4 223.0,84.3 223.2,83.9 223.4,83.5 222.7,83.0 223.4,82.6 223.8,82.3 223.6,81.9 223.9,81.3 224.4,81.1 225.6,80.7 225.2,81.9 225.1,82.5 225.7,82.6 226.1,82.5 226.6,82.7 227.1,82.5 227.4,83.0 227.9,83.2 228.2,82.8 228.9,82.9 228.8,83.5 229.0,83.9 229.4,84.0 229.9,83.9 230.2,84.1 230.8,84.2 230.7,84.8 230.4,85.0 230.2,85.4 230.3,85.8 230.4,86.2 230.7,85.9 231.1,85.6 231.6,85.9 231.4,86.5 231.5,87.1 232.2,87.1 232.8,87.0 233.4,87.0 233.8,87.3 234.3,87.5 233.9,87.8 233.7,88.3 234.2,88.4 234.7,88.3 235.3,88.8 235.8,88.3 235.0,88.6 235.3,89.3 235.5,89.8 235.7,90.3 235.6,89.9 235.8,89.5 235.6,89.1 235.7,88.6 235.9,88.1 236.4,88.0 236.9,88.6 237.4,88.1 237.7,88.5 238.2,88.5 237.9,88.9 237.4,89.0 237.6,89.4 237.7,89.8 237.3,90.3 236.8,90.5 236.3,90.3 235.9,89.9 235.5,89.6 234.9,89.5 234.8,90.1 234.3,90.3 234.9,90.3 235.5,90.4 236.0,90.7 236.3,91.3 236.2,91.9 236.4,92.4 236.1,92.9 235.7,93.4 235.9,94.1 235.7,94.8 236.4,94.9 237.1,94.9 236.4,95.1 236.4,95.9 235.7,95.8 235.2,95.5 234.9,96.2 234.3,95.8 234.3,96.3 234.6,96.7 233.9,96.6 233.3,96.4 233.0,97.1 232.8,97.9 233.4,98.5 234.0,99.0 233.6,99.6 232.9,99.9 232.2,100.0 231.6,100.4 231.9,100.8 232.2,101.2 232.2,101.7 232.4,102.2 232.9,102.7 233.3,103.3 233.9,103.6 234.3,104.2 234.8,104.8 235.6,104.9 236.3,105.1 237.0,104.8 237.2,105.5 237.8,105.5 238.2,106.0 237.8,106.5 238.3,106.2 238.8,106.7 238.9,107.1 239.2,107.6 239.4,108.1 239.2,108.6 238.9,108.8 238.5,109.0 239.0,109.1 239.1,109.6 238.6,109.9 238.4,110.3 238.3,110.8 238.1,111.3 238.1,111.8 237.6,112.0 237.6,112.4 237.7,112.8 238.3,113.3 238.9,113.9 239.3,114.1 239.4,114.6 239.3,115.1 239.7,115.4 240.4,115.2 240.6,115.9 240.4,116.4 240.3,116.9 240.4,117.5 240.9,117.8 241.2,117.2 241.8,117.4 242.0,116.9 242.5,116.9 242.6,116.4 243.1,116.4 242.6,116.2 242.1,116.4 241.7,116.8 241.5,117.3 241.9,117.9 241.2,118.2 240.9,118.6 240.6,118.9 240.7,119.4 240.9,119.8 240.4,120.0 240.2,120.4 240.0,120.9 240.5,121.1 240.8,121.7 240.2,121.9 239.5,122.2 238.8,121.9 238.0,121.8 237.4,122.3 236.9,122.2 236.5,122.3 236.6,122.8 236.2,123.0 235.1,122.7 235.5,123.8 235.0,123.6 234.8,123.1 234.7,122.6 234.1,122.4 234.4,122.0 234.2,121.5 233.7,121.5 233.4,121.9 233.1,121.4 232.5,121.6 232.1,121.4 231.7,121.0 231.3,121.2 230.8,121.0 230.1,121.2 230.0,120.6 230.0,119.8 229.3,120.0 229.3,120.6 228.8,120.8 229.1,121.3 229.1,121.8 229.2,122.3 228.7,122.6 228.8,123.1 229.3,123.2 228.6,123.0 227.8,123.3 227.4,123.8 227.0,124.3 227.7,124.5 227.9,125.2 228.1,125.7 228.6,125.8 228.5,126.3 228.8,126.7 228.6,127.1 228.7,127.6 228.6,128.0 228.6,128.4 228.3,128.1 227.9,127.9 227.5,128.1 227.0,128.1 225.5,128.1 226.4,129.3 225.9,128.8 225.4,128.3 224.6,128.4 224.7,129.2 225.1,129.7 225.1,130.3 225.2,131.0 225.9,131.0 226.4,131.0 227.0,131.1 226.5,131.6 226.2,132.1 226.0,132.7 225.6,133.2 226.0,133.5 226.4,133.6 226.8,133.8 226.6,134.3 227.3,134.8 227.5,134.0 226.9,133.5 227.6,133.1 228.1,133.4 228.2,134.0 228.4,134.6 227.9,135.1 228.4,135.1 228.9,135.3 229.3,135.2 229.8,135.3 230.5,135.1 231.0,134.8 230.5,134.3 230.7,133.6 230.4,134.1 231.0,134.3 231.3,134.6 231.5,134.9 232.3,134.6 232.6,135.4 231.7,135.6 232.0,136.4 232.5,136.7 232.5,137.3 233.1,137.3 233.5,136.9 233.6,137.7 233.8,138.4 234.4,138.3 234.9,137.9 235.6,138.0 235.9,138.6 235.9,139.3 236.2,139.9 235.6,140.0 235.3,139.6 235.3,140.1 235.0,140.5 235.2,141.1 235.0,141.7 235.1,142.4 235.6,142.7 236.1,143.2 236.1,143.8 236.8,143.9 237.2,143.3 237.1,143.7 237.1,144.1 237.2,144.5 237.1,145.0 237.1,145.6 237.3,146.3 237.8,146.2 238.2,146.4 238.2,146.8 238.1,147.3 238.5,147.8 239.1,147.5 239.4,147.8 239.9,147.9 239.4,148.2 239.0,148.6 239.6,149.0 239.5,149.7 239.6,150.3 239.5,150.9 240.2,150.7 240.6,151.2 241.2,150.8 241.9,151.1 241.6,151.8 242.2,152.3 242.7,152.4 243.2,152.3 243.9,152.1 244.0,152.8 244.3,152.4 244.2,151.8 244.8,151.7 245.1,151.2 245.4,151.7 245.8,152.0 246.4,151.7 246.9,152.0 247.3,151.9 247.7,151.9 247.7,152.4 248.1,152.7 248.8,152.8 249.3,153.3 248.6,152.9 248.4,153.7 247.9,153.6 247.5,153.6 247.5,154.2 247.1,154.5 247.5,154.9 247.6,155.4 247.0,155.7 246.9,156.3 246.7,156.8 246.5,157.3 246.4,157.8 246.3,158.4 246.0,158.8 245.6,159.2 246.4,159.4 247.1,159.4 247.7,159.3 247.6,158.8 247.7,159.3 248.2,159.3 248.6,159.5 248.9,159.7 248.4,159.8 248.3,160.3 248.3,160.9 248.8,161.1 249.0,161.6 249.2,162.0 249.6,161.8 250.1,161.8 250.4,161.3 251.0,161.5 251.4,161.2 251.9,161.4 252.1,161.9 252.4,162.2 252.2,161.7 251.9,161.2 252.6,161.3 253.0,160.8 253.4,160.2 253.1,159.5 253.6,159.1 254.3,159.1 253.5,159.2 253.4,160.0 253.8,160.5 254.5,160.6 254.2,160.2 253.7,160.1 253.2,159.9 252.7,160.1 253.0,160.5 253.1,161.0 252.7,161.4 252.6,161.9 252.1,162.0 251.7,162.2 251.3,162.0 250.9,162.0 250.7,162.7 250.1,163.0 250.9,162.9 251.1,163.7 251.3,164.4 251.8,164.8 251.5,165.4 251.1,165.9 250.9,166.6 251.5,166.8 252.2,166.4 252.5,167.1 253.1,166.7 252.6,166.1 253.1,165.8 253.6,165.6 254.6,165.9 254.0,166.8 253.0,166.6 253.0,167.6 253.6,167.4 254.0,167.1 254.6,167.3 255.0,167.6 255.4,167.4 255.8,167.3 256.1,166.9 256.6,167.2 257.0,167.8 257.6,167.3 258.0,166.8 257.5,166.3 257.2,165.7 256.5,165.6 257.1,165.7 257.2,166.3 257.7,166.3 258.2,166.5 257.8,164.7 259.6,164.4 260.0,165.5 260.2,166.8 260.2,167.9 261.1,168.6 260.0,168.4 259.1,168.9 258.6,169.8 258.6,170.9 259.6,171.0 260.6,170.6 261.0,170.9 261.3,171.2 261.7,171.2 262.2,171.2 261.7,171.5 261.5,172.1 261.8,172.6 262.4,172.7 262.3,173.3 262.0,173.8 262.5,173.9 263.1,174.0 263.1,174.8 263.6,175.3 263.8,174.5 264.6,174.3 264.2,175.2 263.2,175.4 263.5,176.6 264.6,176.5 264.8,177.0 264.7,177.6 265.3,177.9 265.1,178.6 265.8,178.8 266.2,178.3 266.7,178.1 267.1,177.6 267.8,178.4 268.3,177.5 268.9,177.2 268.9,176.5 268.3,176.5 267.9,177.0 267.3,177.0 266.8,176.7 266.4,177.1 265.8,177.2 265.3,177.0 264.8,177.1 264.3,176.9 263.9,177.3 263.7,176.9 263.5,176.5 263.8,177.2 263.3,177.7 262.8,177.3 262.2,177.1 262.5,176.7 262.4,176.2 261.9,176.7 261.4,176.1 261.3,175.5 260.9,175.0 260.2,174.5 259.6,174.0 258.8,174.4 258.7,175.4 259.2,174.9 259.6,174.3 259.6,173.4 258.7,173.2 258.3,173.6 257.7,173.5 257.8,174.1 257.8,174.6 257.7,174.0 257.1,173.9 256.4,173.6 256.1,174.3 256.4,174.0 256.6,173.7 255.9,173.5 256.4,172.9 256.1,172.5 255.7,172.3 255.4,172.5 254.9,172.6 254.3,172.6 254.0,172.1 253.4,172.1 253.0,171.8 252.5,171.5 252.0,171.8 251.7,172.3 251.9,172.8 251.5,173.4 250.8,173.6 250.6,172.8 249.8,172.6 250.7,172.4 250.5,171.5 249.7,171.3 249.3,170.6 249.0,171.3 248.5,171.9 248.7,172.4 248.6,172.8 248.1,172.9 247.6,172.6 247.5,172.0 247.1,171.7 247.2,172.1 247.0,172.5 246.6,172.5 246.2,172.7 245.5,173.0 245.3,173.8 245.0,174.1 244.6,174.3 244.8,174.7 244.8,175.1 245.0,175.9 245.2,176.6 245.7,176.9 245.5,177.4 245.9,177.6 246.2,177.8 246.4,177.3 246.8,176.9 247.4,176.2 247.9,176.9 248.1,177.5 248.7,177.5 249.0,177.9 249.2,178.3 249.2,179.1 250.0,179.0 249.8,179.6 250.3,180.0 250.9,180.5 251.6,181.1 251.7,180.2 252.3,179.6 252.8,179.8 253.0,180.2 252.7,180.6 252.7,181.2 253.7,181.8 252.6,182.2 253.2,182.1 253.6,182.6 254.3,182.0 255.2,182.2 254.5,183.2 255.6,183.8 255.5,184.7 256.3,185.0 255.6,185.4 255.5,186.1 256.2,185.1 257.4,184.9 257.1,183.8 256.6,182.8 257.8,182.0 258.5,183.2 258.9,184.1 259.3,185.0 259.8,185.2 260.2,185.4 260.9,185.1 260.6,184.5 261.0,184.9 261.6,185.0 261.2,184.3 261.9,183.9 262.3,184.2 262.7,183.8 263.1,183.7 263.4,183.4 263.6,183.8 263.9,184.1 264.3,184.2 264.7,184.4 264.5,185.0 264.3,185.6 264.0,184.7 263.2,185.2 262.8,184.8 262.3,184.9 262.2,184.4 261.9,184.0 261.3,184.4 261.7,184.9 261.8,185.4 262.3,185.6 262.8,186.2 262.4,186.9 261.7,187.1 261.1,186.8 260.5,187.2 260.7,188.0 260.3,188.5 259.8,188.9 259.1,189.0 258.4,189.0 257.8,188.8 258.2,188.2 257.7,187.7 257.3,188.2 257.1,188.6 257.1,189.0 256.8,188.5 256.2,188.8 255.9,189.4 255.2,189.6 254.8,189.1 254.3,189.4 254.0,189.7 253.6,190.1 254.1,190.3 254.0,190.8 254.1,191.3 254.0,191.7 254.3,192.3 254.0,192.9 253.6,192.4 252.9,192.5 253.0,193.3 252.4,193.7 253.1,193.6 253.8,193.7 253.7,192.9 254.5,192.9 254.7,193.5 255.2,193.7 255.5,194.4 255.4,195.1 255.4,195.8 255.7,196.5 255.7,197.1 255.9,197.6 256.2,198.2 256.8,198.3 256.1,198.7 256.0,198.0 256.0,198.4 255.8,198.8 255.3,199.3 254.8,199.0 255.1,199.6 255.1,200.2 254.7,200.8 255.2,201.5 254.8,202.0 254.2,202.3 253.8,202.8 253.6,203.4 253.2,203.9 253.4,204.4 253.7,204.8 254.2,205.0 253.8,205.2 253.5,205.5 253.2,205.9 253.3,206.4 252.9,206.7 252.8,207.2 252.6,207.8 251.9,207.6 251.6,207.1 251.1,207.1 250.6,207.2 250.2,207.4 249.9,207.8 249.9,208.3 249.9,208.8 249.5,209.1 249.5,210.4 248.3,209.8 247.4,210.1 247.1,209.2 247.1,210.1 247.5,210.8 246.7,211.0 246.0,211.4 246.3,211.9 246.5,212.4 246.7,213.0 247.1,213.4 247.7,213.0 248.4,212.9 248.7,213.6 249.5,213.7 249.2,214.3 249.4,215.1 248.8,215.6 248.0,215.5 247.3,215.6 246.9,216.3 247.0,216.7 247.4,216.9 247.6,217.4 247.2,217.7 246.5,217.5 246.1,216.9 245.4,216.6 245.2,215.8 244.7,215.4 244.1,215.0 243.6,215.5 243.0,215.8 242.1,216.3 242.8,217.1 243.0,217.7 243.6,218.0 243.1,218.4 242.7,218.8 242.1,218.7 241.7,218.3 241.2,218.4 240.9,218.9 240.2,218.8 240.1,219.5 239.9,220.0 239.7,220.5 240.3,220.5 240.5,221.1 241.1,221.5 241.7,221.9 241.3,222.3 241.4,222.8 241.8,223.0 242.1,223.3 242.7,223.7 243.4,223.7 244.0,223.3 244.7,223.7 245.4,224.1 245.2,224.8 245.2,225.4 245.0,225.9 245.5,226.4 245.2,227.1 245.4,227.6 245.7,228.1 245.2,228.4 245.0,228.9 244.5,229.4 244.6,230.0 244.4,229.4 243.9,229.1 243.7,229.6 243.3,230.0 242.7,230.4 243.2,231.0 243.2,231.7 243.1,232.4 242.4,232.2 241.7,232.6 241.8,233.3 242.3,233.9 241.5,233.9 240.9,234.5 241.3,233.9 241.7,233.3 242.5,233.3 243.2,233.4 244.1,232.7 244.6,233.8 244.2,234.7 245.0,235.2 246.5,235.2 247.3,236.6 248.8,236.4 249.4,234.9 248.7,236.0 249.0,237.3 247.9,237.7 247.2,238.8 246.7,238.1 245.8,237.7 245.4,238.5 245.1,239.3 244.8,240.0 244.1,239.9 243.9,240.5 243.5,240.8 243.3,241.5 242.7,241.9 242.1,241.6 241.4,241.5 240.9,242.7 240.4,243.9 241.6,244.6 242.9,244.7 242.0,244.6 241.3,244.0 240.4,243.6 239.9,242.9 239.8,242.3 239.6,241.6 239.4,242.1 238.9,242.0 239.1,241.3 238.4,241.3 237.9,241.6 237.3,241.5 236.8,241.2 236.2,241.3 235.5,241.4 235.1,240.8 234.9,240.0 234.1,240.0 233.8,240.6 234.0,241.3 234.3,240.7 234.4,240.1 234.1,239.6 233.6,239.9 233.6,239.5 233.5,239.1 233.1,238.6 232.7,238.0 232.9,237.4 233.4,236.9 232.7,236.8 232.2,237.3 231.8,237.8 231.8,238.4 231.3,238.5 230.8,238.5 230.7,239.2 230.0,239.1 230.7,239.4 231.2,238.9 231.2,238.2 231.5,237.6 232.1,237.3 232.8,237.2 232.3,236.6 232.4,235.8 233.4,236.4 234.0,237.5 232.7,238.0 232.6,239.3 234.3,238.8 233.8,237.1 234.1,239.2 236.0,238.3 236.6,238.1 237.2,237.9 238.2,237.5 237.4,236.7 238.2,236.6 238.9,236.6 238.7,235.8 239.0,235.1 239.6,235.2 240.1,234.9 240.3,234.3 241.0,234.3 241.4,233.8 241.9,233.5 242.2,232.8 241.7,232.3 241.4,232.0 241.3,231.6 241.7,231.5 242.0,231.1 242.4,230.6 242.2,229.9 242.2,229.2 242.9,229.0 242.5,228.5 241.9,228.4 241.6,227.7 241.0,227.1 241.0,226.5 240.3,226.5 239.7,226.2 239.4,226.9 238.9,226.9 238.6,227.3 238.5,227.8 238.6,228.2 238.5,227.7 238.0,227.7 238.2,227.3 237.8,226.9 238.0,226.2 238.4,225.6 238.2,225.3 238.0,224.9 238.1,224.5 238.5,224.2 237.8,224.1 237.3,223.6 237.9,224.1 237.2,224.5 237.8,224.7 237.5,225.3 237.0,225.5 236.7,225.9 236.1,225.8 235.8,225.3 235.1,225.5 234.3,225.3 233.9,225.0 233.4,225.0 233.5,225.7 232.9,225.8 232.8,226.3 232.9,226.8 232.6,227.1 232.2,227.4 231.7,227.4 231.2,227.1 230.9,227.4 230.6,227.8 230.3,227.1 229.6,227.4 229.5,226.8 229.9,226.3 229.5,226.2 229.2,226.0 228.8,225.7 228.4,225.7 228.1,226.2 228.5,226.6 228.0,226.8 227.6,227.0 226.8,226.8 226.1,226.8 225.7,227.2 225.2,227.1 224.9,227.4 224.5,227.6 224.0,227.6 223.6,227.9 223.2,227.5 222.7,227.9 222.5,228.5 222.0,228.8 221.4,228.7 220.8,228.7 220.3,228.6 219.8,228.6 219.1,228.6 218.9,228.0 218.5,228.2 218.3,228.5 218.0,228.2 217.6,228.1 217.1,228.6 216.3,228.4 216.9,229.0 216.1,229.2 215.8,228.8 215.3,229.1 214.9,228.7 214.5,228.2 214.2,227.9 213.9,227.6 213.5,227.2 213.5,226.7 213.5,226.2 213.2,225.8 212.6,225.6 212.1,225.9 211.7,225.2 211.2,224.7 211.3,225.1 211.3,225.6 210.9,225.8 210.6,226.1 210.0,226.2 209.7,226.6 209.2,226.4 208.7,226.5 208.9,227.0 208.6,227.4 208.1,227.4 207.8,227.8 208.3,228.4 207.6,228.6 207.2,228.9 206.8,229.0 206.8,229.6 206.3,229.9 206.6,230.3 206.7,230.7 206.1,230.7 205.8,230.1 205.5,230.6 205.0,230.8 204.9,231.4 205.4,231.7 205.5,232.3 204.9,232.5 204.3,232.6 204.3,233.2 204.0,233.6 203.5,233.4 203.0,233.4 202.6,233.6 202.9,234.0 202.6,234.4 202.2,233.9 201.7,234.3 201.7,234.8 201.5,235.2 201.0,235.5 200.9,236.1 201.0,236.7 201.5,237.0 201.0,237.2 200.8,237.7 200.3,237.5 199.8,237.8 199.7,238.2 199.8,238.7 199.4,239.0 199.2,239.4 198.9,239.7 198.6,240.1 198.6,240.6 198.1,240.8 198.6,240.7 198.8,241.3 199.5,240.9 199.5,241.7 199.1,241.9 198.7,241.9 198.8,242.7 198.1,242.5 197.8,242.9 197.5,243.2 197.5,243.6 197.2,244.0 197.4,244.5 197.8,244.8 197.3,245.0 197.2,245.5 197.7,245.7 197.7,246.2 198.1,245.9 198.5,246.2 198.0,246.6 197.4,246.6 196.8,246.6 196.4,246.3 196.3,246.8 196.2,247.3 195.6,247.4 195.8,248.0 195.9,248.5 195.6,248.9 196.2,248.9 196.7,249.0 196.8,249.5 197.0,250.0 196.4,250.3 196.2,250.8 196.6,251.4 197.2,251.3 197.6,251.7 198.0,252.2 197.4,252.3 196.8,252.5 196.2,252.7 195.8,253.3 195.2,252.9 194.8,253.5 195.7,253.8 195.2,254.5 194.5,254.8 193.8,254.9 194.2,255.1 194.7,255.1 194.5,255.5 194.7,256.0 194.9,256.6 195.7,256.8 195.2,257.1 194.9,257.6 194.9,258.3 195.6,258.4 195.0,258.8 194.8,258.2 194.4,258.5 194.0,258.6 193.8,259.1 194.1,259.6 194.6,259.9 195.1,259.5 195.1,260.2 195.0,260.9 194.8,261.4 194.5,261.8 193.8,261.9 194.0,262.6 194.7,262.8 194.7,263.5 194.8,264.2 194.2,264.5 192.1,267.9 192.7,271.8 196.2,273.3 198.9,275.8 199.3,279.3 201.1,282.4 199.9,285.7 197.1,288.0 198.1,291.8 195.9,295.2 198.4,298.0 201.9,299.4 204.6,302.3 202.7,305.8 197.7,306.7 199.3,311.5 206.0,304.5 215.7,304.0 222.1,297.7 228.0,290.9 236.4,285.9 246.2,285.3 252.1,277.7 255.4,268.7 264.1,266.1 273.1,264.3 278.0,256.2 286.8,252.3 293.3,245.9 302.0,243.1 308.6,237.1 314.8,230.6 313.3,219.7 318.7,210.0 322.6,199.9 321.0,189.2 324.2,178.9 322.7,168.2 323.5,157.4 319.6,147.3 321.1,136.8 319.0,126.4 321.9,115.7 317.2,105.6 307.6,96.1 315.0,84.8 309.7,74.5 314.8,64.0 309.8,56.6 302.4,51.7 292.3,52.5 286.6,44.2 277.8,41.9 272.2,34.8 265.1,29.8 259.3,23.4 251.1,20.2 244.6,14.4 236.4,11.5 228.4,8.3 221.0,3.4 212.1,2.5 205.7,-3.5 197.6,-6.9 193.9,-5.5 192.4,-1.9 189.0,-4.5 185.2,-2.3 181.3,-1.5 177.3,-1.0 182.5,4.0 175.9,6.9 172.9,8.6 171.0,11.5 168.7,14.3 165.1,14.7 161.4,14.3 158.1,12.6 154.7,14.1 152.1,16.8 150.3,17.6 150.9,19.5 148.8,19.7 149.1,21.8 149.0,23.3 148.5,24.8 146.9,25.4 145.8,26.6 147.7,27.0 148.7,28.6 148.0,30.3 147.8,32.0 150.0,32.5 152.2,33.1 151.0,35.0" fill="#fff" stroke="#7c7c7c" stroke-width="0.9" stroke-linejoin="round"/>
<polygon points="226.7,169.4 227.2,169.7 226.9,170.3 226.9,170.8 226.7,171.2 226.5,171.7 226.1,172.1 226.6,172.5 226.5,173.1 226.3,173.6 226.4,174.1 227.0,174.3 227.1,174.9 227.2,175.4 227.2,175.9 226.7,176.2 226.6,176.7 227.0,177.0 227.4,177.3 227.2,177.8 227.4,178.3 228.0,178.4 228.4,178.8 228.2,179.4 228.4,179.9 228.0,180.2 227.7,180.6 228.0,181.3 227.2,181.5 227.2,182.1 226.6,182.2 227.1,182.6 227.1,183.1 227.2,183.5 227.7,183.7 227.9,184.0 228.3,184.2 228.1,184.6 228.1,185.1 228.4,185.5 228.7,185.8 228.7,186.3 229.0,186.7 229.1,187.2 229.7,187.3 229.7,187.7 229.6,188.1 229.2,188.3 228.9,188.6 229.4,188.3 230.0,188.2 230.0,188.8 230.3,189.3 230.9,189.6 231.3,189.1 231.9,188.8 231.8,188.2 231.7,188.8 232.2,189.0 231.8,189.6 232.4,189.9 233.0,190.3 233.6,190.6 233.1,191.1 232.5,191.5 232.9,192.2 233.2,192.9 233.1,193.4 233.4,193.7 233.2,194.1 232.8,194.2 233.1,194.6 233.7,194.4 234.0,195.0 233.4,195.3 234.1,195.7 234.6,195.2 235.0,195.9 235.8,195.7 236.0,196.3 236.6,196.5 237.1,196.7 237.7,196.7 238.0,197.3 238.5,197.8 238.2,198.5 237.6,198.8 237.8,199.4 238.1,200.0 237.7,200.5 237.1,200.7 237.5,200.3 238.1,200.3 238.5,200.7 239.0,200.9 238.9,201.3 238.6,201.6 238.9,201.8 239.3,201.9 239.3,201.3 240.0,201.4 239.7,201.9 240.3,202.2 240.8,202.3 241.3,202.0 241.8,201.7 241.8,201.1 241.9,200.4 242.6,200.0 243.3,200.0 244.0,199.8 243.9,199.0 244.6,198.8 245.2,198.8 245.8,198.6 245.9,198.1 246.0,197.6 245.9,197.0 246.2,196.5 245.6,196.1 245.9,195.5 245.4,195.2 245.0,194.8 245.2,195.6 244.9,196.3 245.2,196.8 244.7,197.2 244.2,197.6 243.8,197.1 243.5,196.6 243.7,196.1 243.3,196.4 242.7,196.3 242.8,195.7 242.9,195.1 242.4,195.3 241.8,195.4 241.9,194.9 241.5,194.7 241.1,194.9 240.7,195.0 240.4,194.5 240.3,194.0 239.7,194.1 239.3,194.5 238.8,194.1 238.2,193.9 237.8,193.8 237.6,193.3 237.2,193.2 236.9,192.9 236.9,192.4 236.6,192.0 236.5,191.6 236.7,191.2 236.0,190.9 235.4,190.6 234.7,190.2 234.3,189.6 233.9,189.5 233.5,189.4 233.4,188.9 233.8,188.6 233.1,188.9 232.8,188.2 232.5,187.7 232.1,187.2 232.2,186.7 232.6,186.2 232.4,185.6 232.4,185.0 232.4,184.5 232.1,184.2 231.7,184.6 231.3,184.5 231.8,183.9 232.2,183.3 231.6,183.7 231.4,183.1 231.6,182.6 231.1,182.3 230.8,181.7 230.8,181.1 231.0,180.6 231.3,180.2 230.9,179.8 231.1,179.3 230.9,179.9 230.3,179.8 230.4,179.2 231.0,179.2 230.9,178.4 230.2,178.7 230.2,178.1 229.9,177.6 229.3,177.6 229.0,177.1 228.6,177.4 228.5,177.9 228.2,177.3 228.0,176.5 227.5,176.4 227.7,175.8 227.5,175.4 227.6,175.0 228.0,175.5 228.6,175.6 229.5,175.6 229.2,174.7 228.9,174.1 228.8,173.5 229.3,173.2 229.6,172.8 229.1,172.6 228.9,172.1 228.7,171.6 228.7,171.1 228.2,171.3 227.8,171.5 227.1,171.5 226.5,171.7 227.0,171.2 227.2,170.6 227.0,170.0" fill="#fff" stroke="#7c7c7c" stroke-width="0.9" stroke-linejoin="round"/>
<polygon points="247.9,194.8 248.6,195.0 248.9,194.2 249.3,194.5 249.9,194.6 249.6,194.3 249.3,194.0 249.0,193.6 249.1,193.2 249.6,193.0 250.0,193.2 250.3,192.9 250.7,192.7 250.1,193.2 249.4,193.4 249.8,194.1 250.3,194.6 250.7,195.0 250.7,195.5 251.3,195.4 251.5,196.0 250.9,196.2 251.0,196.8 250.6,196.5 250.4,196.1 249.9,196.4 249.3,196.0 248.9,195.6 248.9,195.1 248.4,194.8" fill="#fff" stroke="#7c7c7c" stroke-width="0.9" stroke-linejoin="round"/>
<polygon points="210.9,143.8 210.9,143.3 210.9,142.8 211.3,142.6 211.8,142.8 212.1,142.1 212.1,141.4 212.4,140.9 212.5,140.3 212.8,139.9 212.9,139.5 213.3,139.3 213.7,139.7 214.1,139.9 214.6,139.7 215.0,139.6 215.5,139.6 215.9,139.4 216.3,139.2 216.7,138.8 216.7,138.3 217.1,137.8 216.8,137.3 217.0,136.8 217.6,136.8 217.9,136.4 217.8,135.9 218.3,135.8 218.4,135.3 218.7,134.8 219.0,134.3 219.3,134.0 219.5,133.7 219.3,133.2 218.8,133.2 219.5,133.2 219.3,132.6 219.7,132.2 220.1,132.6 220.7,133.0 220.9,133.8 221.2,134.3 221.7,134.6 221.8,135.3 221.4,135.7 221.4,136.2 221.4,136.6 221.9,136.7 222.3,136.5 222.9,136.4 223.4,136.0 222.9,136.6 222.5,137.2 221.9,137.7 222.5,138.3 222.0,138.7 221.4,138.3 221.8,138.7 221.6,139.1 221.3,139.6 221.8,139.9 221.9,140.4 222.4,140.6 222.3,141.0 221.9,141.3 222.3,141.6 222.8,141.5 222.9,141.1 223.2,140.8 223.1,141.4 223.0,142.0 222.5,142.4 221.9,142.4 221.7,141.9 221.3,141.5 220.7,141.4 220.4,141.0 219.9,141.2 219.6,141.7 219.8,142.1 220.0,142.6 220.1,143.1 220.6,143.1 220.6,143.8 221.2,143.7 220.7,144.1 220.2,143.7 220.1,144.2 219.7,144.4 219.1,144.6 219.1,145.1 218.8,145.3 218.5,145.6 217.9,145.5 217.4,145.9 217.1,146.4 216.9,146.9 216.4,146.7 215.8,146.7 215.5,146.2 215.2,145.7 214.5,145.6 214.4,144.8 213.8,145.1 213.5,145.7 213.7,145.1 213.7,144.4 213.4,144.9 213.0,145.3 212.5,145.0 212.4,144.4 211.9,144.1 211.9,143.6 211.4,143.7" fill="#fff" stroke="#7c7c7c" stroke-width="0.9" stroke-linejoin="round"/>
<polygon points="202.6,174.3 202.9,173.9 203.4,173.7 203.5,173.2 203.5,172.7 204.1,172.7 204.3,172.1 204.2,171.6 204.5,171.2 204.1,170.7 203.6,170.6 203.1,170.4 202.8,170.0 202.6,169.4 202.8,168.8 203.1,168.3 203.7,168.1 204.3,167.9 204.4,167.3 205.0,167.4 205.4,167.8 205.6,168.2 206.1,168.3 206.3,168.7 206.5,169.1 205.8,169.0 206.0,168.3 205.2,168.8 205.2,167.8 204.7,167.3 204.5,166.5 205.3,166.8 205.9,166.2 206.4,166.3 206.7,166.7 207.2,166.8 207.7,166.8 208.0,166.5 208.5,166.4 209.0,166.6 209.5,166.4 209.2,166.9 208.6,166.9 208.3,167.5 208.6,168.0 208.9,168.6 209.5,168.7 209.2,169.2 209.2,169.7 209.1,170.4 208.6,170.6 208.5,171.2 208.0,171.4 208.3,171.9 208.8,171.7 208.7,172.2 208.4,172.6 208.0,173.0 207.9,173.6 208.0,174.2 207.4,174.5 207.1,175.0 206.5,174.9 205.8,174.9 205.3,175.2 205.9,175.3 205.8,175.9 205.3,176.0 205.1,176.4 204.7,176.3 204.2,176.5 203.7,176.1 203.4,176.8 203.0,177.3 202.4,176.9 202.3,177.4 202.0,177.8 201.9,177.0 201.5,176.3 202.0,175.8 201.7,175.1 202.3,174.9" fill="#fff" stroke="#7c7c7c" stroke-width="0.9" stroke-linejoin="round"/>
<polygon points="216.3,98.1 215.6,98.6 215.0,98.1 214.7,98.8 214.0,98.9 213.8,98.3 213.7,97.7 213.2,97.6 212.7,97.8 212.6,97.3 212.7,96.9 212.9,96.4 212.9,95.9 212.5,96.4 212.0,96.1 211.4,95.6 211.9,95.1 211.7,95.4 211.5,95.8 211.2,96.3 210.7,96.2 210.5,95.4 211.3,95.0 210.5,95.4 210.0,94.7 210.7,94.3 211.4,94.2 211.0,93.6 210.5,93.0 210.2,92.7 209.7,92.6 209.6,92.0 209.0,92.2 209.5,92.2 209.7,92.6 210.2,93.0 210.6,92.5 210.5,91.9 211.0,91.7 211.6,92.1 211.8,91.4 211.9,91.8 212.3,92.1 212.6,91.5 213.1,91.9 213.0,92.6 213.4,93.3 214.0,93.0 214.7,93.0 215.1,92.2 215.7,92.7 215.3,92.3 215.4,91.8 215.0,92.3 215.4,92.9 215.8,93.6 216.5,93.3 217.2,93.1 217.5,93.7 217.6,94.3 217.6,94.9 218.0,95.2 218.5,95.3 218.5,95.8 218.9,96.2 219.3,96.8 218.6,97.1 218.3,97.8 217.7,97.5 217.0,97.8" fill="#fff" stroke="#7c7c7c" stroke-width="0.9" stroke-linejoin="round"/>
<polygon points="206.3,89.9 205.8,90.1 205.4,89.7 204.9,90.0 204.4,89.8 204.0,89.3 204.4,88.8 204.3,88.3 204.0,87.9 204.0,87.4 204.0,86.9 203.9,86.4 204.4,86.0 205.0,86.1 205.7,86.0 206.2,86.5 207.0,86.4 207.4,87.0 207.8,87.6 208.3,88.2 208.3,88.9 207.9,89.1 207.5,89.3 207.0,89.1 206.9,88.6 206.5,88.8 205.9,88.9 206.0,89.4" fill="#fff" stroke="#7c7c7c" stroke-width="0.9" stroke-linejoin="round"/>
<polygon points="219.1,91.2 218.9,90.7 219.2,90.2 218.7,89.9 218.5,89.4 217.8,89.1 217.6,89.9 217.4,90.4 217.4,90.9 217.5,90.4 217.5,89.8 217.1,89.5 216.7,89.2 216.1,88.6 216.7,88.1 217.2,87.8 217.3,87.3 217.6,86.8 218.1,87.0 218.5,87.2 218.7,87.6 218.8,86.9 219.1,86.2 219.8,86.3 220.5,86.4 220.5,87.2 220.3,87.9 219.8,88.0 219.7,88.4 220.0,88.8 220.0,89.2 220.1,89.6 220.1,90.0 220.6,89.7 220.9,90.2 220.3,90.2 219.7,90.2 219.8,90.6 219.9,90.9 219.6,91.3" fill="#fff" stroke="#7c7c7c" stroke-width="0.9" stroke-linejoin="round"/>
<polygon points="168.9,61.2 168.5,60.7 167.9,60.5 167.8,59.8 168.4,59.4 167.8,59.4 167.4,59.1 167.0,59.5 166.6,59.9 167.0,59.6 167.4,59.2 168.1,59.1 168.1,58.4 168.7,58.9 169.3,58.4 170.0,58.5 170.4,57.9 170.9,58.3 171.0,58.9 171.6,58.7 172.3,58.9 171.7,59.3 171.3,59.9 171.5,60.6 171.2,61.2 170.7,61.5 170.6,61.9 170.3,61.5 169.8,61.3 169.7,60.7 170.0,60.0 169.5,60.6 170.0,61.2 169.4,60.7" fill="#fff" stroke="#7c7c7c" stroke-width="0.9" stroke-linejoin="round"/>
<polygon points="179.3,194.1 179.8,193.8 180.2,193.5 180.6,193.1 181.0,193.2 181.5,193.0 181.7,192.6 181.9,192.1 182.5,192.3 182.7,191.9 183.1,191.8 183.7,192.0 184.3,192.1 184.2,192.8 184.5,193.3 184.7,192.9 185.2,192.8 185.7,192.9 185.8,193.4 185.7,194.0 185.5,194.6 185.5,195.2 185.7,195.8 186.2,196.2 186.4,196.8 187.0,196.9 187.6,197.2 187.6,197.7 187.9,198.0 188.4,198.5 188.9,198.0 189.4,197.9 189.8,197.5 190.0,196.8 189.3,196.6 189.2,197.0 189.3,197.4 188.9,197.8 188.4,197.6 188.8,198.2 189.4,198.5 188.8,199.0 189.1,199.6 188.6,199.8 188.0,200.0 187.8,200.7 187.3,201.2 187.0,202.0 187.3,202.7 187.6,203.3 187.1,203.7 187.7,204.1 187.4,204.8 187.0,205.3 187.4,205.7 187.1,206.1 186.6,206.2 187.3,206.5 188.0,206.8 187.5,206.6 186.9,206.3 186.7,205.6 186.0,205.5 185.5,205.9 185.0,205.5 184.4,205.5 184.1,205.0 183.5,204.6 183.8,204.0 183.8,203.4 184.3,203.0 183.6,203.1 182.9,202.8 183.2,202.5 183.6,202.2 183.2,201.8 183.1,201.4 182.6,201.0 182.2,200.6 182.8,200.4 183.1,199.9 182.6,199.9 182.5,200.4 182.1,200.3 181.7,200.3 181.2,200.7 180.8,200.3 180.9,199.8 180.6,199.5 180.4,198.8 180.3,198.2 180.8,197.8 181.4,197.9 181.8,197.5 181.8,196.8 181.4,196.5 181.1,196.0 180.6,195.7 180.0,195.9 180.3,195.4 180.1,194.8 179.4,194.8" fill="#fff" stroke="#7c7c7c" stroke-width="0.9" stroke-linejoin="round"/>
<polygon points="184.4,190.4 183.9,189.8 184.2,189.1 184.7,188.5 185.4,188.6 186.0,188.1 186.4,187.5 187.1,187.9 187.7,188.2 188.3,188.2 188.8,188.0 189.2,187.7 189.7,187.4 190.2,187.3 190.7,187.6 191.2,188.0 191.4,188.5 191.4,189.3 192.0,189.8 192.4,190.2 192.6,190.8 192.2,190.9 191.7,190.9 191.5,191.4 191.9,191.7 191.6,192.4 191.2,192.9 190.4,192.8 190.0,192.3 189.6,192.5 189.4,192.8 189.1,193.1 189.1,193.6 188.3,193.5 187.6,193.2 187.0,192.9 186.3,192.9 185.9,192.5 185.4,192.0 185.6,191.5 186.1,191.5 185.7,191.7 185.3,191.5 185.6,191.2 185.7,190.8 185.1,190.3" fill="#fff" stroke="#7c7c7c" stroke-width="0.9" stroke-linejoin="round"/>
<polygon points="189.5,197.0 189.7,196.4 189.8,195.8 190.4,195.3 191.0,195.9 191.7,196.0 191.7,196.7 192.4,196.5 192.6,197.2 193.0,197.5 193.2,197.9 193.3,198.4 193.1,198.8 192.8,199.3 192.6,199.8 192.9,200.3 193.5,200.4 192.9,200.4 192.7,200.9 192.7,201.4 192.4,201.8 192.0,202.1 191.6,202.1 191.2,201.8 190.7,201.8 191.4,201.5 191.8,200.8 191.4,200.1 190.6,200.0 190.9,199.5 191.5,199.2 191.3,198.7 191.2,198.1 191.0,197.7 190.7,197.3 190.2,197.5 190.0,198.0 189.7,197.5" fill="#fff" stroke="#7c7c7c" stroke-width="0.9" stroke-linejoin="round"/>
<polygon points="123.7,252.2 124.5,252.5 124.3,253.4 124.4,252.5 125.3,252.4 125.2,252.0 125.6,251.7 126.0,251.6 126.2,251.2 126.6,251.0 126.9,250.7 127.3,250.9 127.7,250.8 127.5,250.4 127.5,249.9 127.9,249.7 128.1,249.3 128.6,249.6 129.1,249.5 129.5,249.8 130.0,249.5 129.8,250.1 129.5,250.6 130.2,250.7 130.5,251.3 130.7,251.7 131.1,251.8 131.1,252.3 131.0,252.7 131.4,253.3 132.2,253.5 132.6,253.6 133.0,253.4 133.1,252.9 133.5,252.6 133.9,252.9 134.1,253.3 134.5,253.2 134.9,253.4 135.4,253.2 135.7,253.7 135.8,254.1 136.1,254.5 136.5,254.5 136.8,254.8 137.2,254.8 137.6,254.9 138.0,254.5 138.0,254.0 138.3,253.6 138.2,253.1 138.7,253.4 139.2,253.2 139.6,253.1 140.1,253.0 140.5,253.3 140.7,253.7 141.1,253.6 141.6,253.5 142.2,253.1 142.7,252.5 142.4,253.1 142.7,253.8 142.6,254.5 142.5,255.2 143.2,255.1 143.1,255.8 143.7,255.5 144.0,256.1 144.5,256.4 144.3,257.0 144.9,256.9 145.2,257.4 145.4,258.1 146.0,258.5 145.7,259.2 144.9,259.3 144.6,259.7 144.2,260.0 143.6,259.7 143.3,260.3 142.8,260.6 142.1,260.6 142.4,261.2 142.2,261.8 142.2,262.2 141.9,262.6 141.3,262.8 141.5,263.4 141.4,264.2 141.0,264.9 140.2,264.6 139.5,265.2 138.6,265.4 138.0,264.6 137.5,265.2 136.9,265.7 137.1,266.9 136.1,267.5 135.1,267.2 134.4,266.5 133.7,266.2 133.0,266.6 132.1,267.1 131.8,266.2 131.6,265.5 131.1,265.0 130.7,264.5 130.1,264.1 129.4,264.0 128.9,263.3 128.4,264.2 127.5,263.6 127.3,262.9 127.1,262.2 126.3,262.2 125.8,261.8 125.3,261.1 124.8,260.7 124.0,260.8 123.3,261.0 123.7,260.0 122.7,259.7 122.6,259.0 122.8,258.4 121.9,258.5 121.6,257.7 121.3,257.0 121.0,256.4 121.7,256.4 122.5,256.2 123.4,255.7 123.0,254.7 123.4,254.1 123.2,253.4 123.6,252.8" fill="#fff" stroke="#7c7c7c" stroke-width="0.9" stroke-linejoin="round"/>
<polygon points="98.1,126.6 98.2,127.1 98.0,127.6 97.4,127.5 97.0,127.2 96.3,127.4 96.2,128.1 95.9,127.4 95.7,126.7 95.0,126.3 94.3,126.2 94.2,125.5 94.7,125.0 95.4,125.2 95.7,124.5 96.3,124.6 96.5,125.2 97.1,125.0 97.6,124.8 97.9,125.2 97.9,125.7 97.8,126.1" fill="#fff" stroke="#7c7c7c" stroke-width="0.9" stroke-linejoin="round"/>
<polygon points="114.7,133.4 115.0,133.1 115.5,133.2 115.7,132.8 115.7,132.4 115.4,131.7 114.7,131.3 114.3,131.4 113.8,131.3 113.3,131.6 112.8,131.3 112.6,131.8 112.6,132.2 112.9,132.7 112.8,133.2 113.0,133.8 113.6,134.0 114.2,133.8" fill="#fff" stroke="#7c7c7c" stroke-width="0.9" stroke-linejoin="round"/>
<polygon points="121.3,129.4 121.0,128.7 120.9,127.9 121.3,127.3 121.4,126.5 120.7,126.5 120.1,127.0 119.6,126.5 118.9,126.5 119.2,127.2 118.8,127.8 118.6,128.4 118.9,129.1 119.4,129.5 120.0,129.9 120.5,129.4" fill="#fff" stroke="#7c7c7c" stroke-width="0.9" stroke-linejoin="round"/>
<polygon points="117.7,128.1 117.3,128.1 116.9,128.1 116.4,127.8 116.6,127.3 116.5,126.9 116.4,126.5 116.8,126.4 117.1,126.0 116.9,125.2 116.5,124.6 116.9,125.1 117.6,125.1 117.0,124.3 117.9,123.9 117.4,123.6 116.8,123.2 116.5,123.8 115.8,124.1 115.8,124.7 115.8,125.2 116.3,125.7 115.9,126.3 115.6,126.8 115.2,127.2 114.9,127.7 115.2,128.3 115.8,128.7 116.5,128.8 117.0,128.3" fill="#fff" stroke="#7c7c7c" stroke-width="0.9" stroke-linejoin="round"/>
<polygon points="125.1,140.9 124.4,140.8 124.6,140.1 124.5,139.6 124.9,139.3 124.5,139.6 124.1,139.5 123.8,139.8 123.3,139.8 123.9,140.0 124.3,140.3 124.2,140.9 123.6,141.1 123.9,140.6 124.2,140.1 124.5,140.7" fill="#fff" stroke="#7c7c7c" stroke-width="0.9" stroke-linejoin="round"/>
<polygon points="114.3,117.5 114.4,116.7 114.3,116.0 113.9,115.6 114.1,115.1 114.5,114.8 114.9,114.6 114.6,114.0 113.9,113.9 113.7,114.6 113.1,114.9 112.7,115.3 112.6,115.9 112.0,116.5 112.4,117.1 112.5,117.9 113.2,118.2 113.8,118.0" fill="#fff" stroke="#7c7c7c" stroke-width="0.9" stroke-linejoin="round"/>
<polygon points="105.0,131.6 105.1,131.1 105.1,130.5 104.9,130.1 104.5,129.7 103.9,129.7 103.3,129.3 103.6,129.7 103.8,130.1 103.3,130.3 102.9,130.5 102.9,131.1 103.0,131.7 103.5,131.2 103.9,130.7 104.1,131.3 104.7,131.5 105.1,131.0 105.1,130.4 104.6,131.0" fill="#fff" stroke="#7c7c7c" stroke-width="0.9" stroke-linejoin="round"/>
<polygon points="107.3,160.1 107.5,159.6 108.1,159.4 107.7,159.0 107.2,158.6 106.7,158.1 106.3,157.5 105.9,157.8 105.9,158.3 105.4,158.4 105.1,158.8 105.0,159.3 105.1,159.8 105.5,160.2 105.9,160.4 105.8,159.8 106.4,159.6 106.9,159.8" fill="#fff" stroke="#7c7c7c" stroke-width="0.9" stroke-linejoin="round"/>
<polygon points="71.2,172.0 70.4,171.7 69.9,171.1 69.6,170.8 69.2,170.5 70.0,170.3 69.6,169.6 69.3,170.2 68.8,170.2 68.5,169.9 68.4,169.5 68.3,170.1 67.7,170.1 67.6,170.7 68.2,170.8 68.1,171.2 68.3,171.6 68.7,172.0 69.2,172.1 69.3,172.7 69.0,173.2 69.4,172.9 69.8,173.2 70.0,173.8 70.5,173.5 70.4,173.0 71.0,172.9 70.9,172.4" fill="#fff" stroke="#7c7c7c" stroke-width="0.9" stroke-linejoin="round"/>
<polygon points="75.0,95.5 74.9,95.1 74.6,94.6 75.0,94.4 75.5,94.2 75.4,93.5 75.6,92.8 75.8,92.4 76.3,92.2 76.7,91.9 76.6,91.4 77.0,91.9 77.5,91.3 78.0,91.4 78.2,91.9 77.9,91.1 77.8,90.3 78.6,90.1 79.4,90.2 79.0,89.7 79.0,89.1 78.7,88.6 79.0,88.1 79.0,87.6 78.7,87.1 78.8,86.6 78.4,86.2 78.7,85.7 78.8,85.2 78.5,84.7 78.6,84.2 77.9,84.1 77.4,83.6 76.9,83.6 76.4,83.7 76.1,84.1 76.4,84.6 75.8,84.0 75.2,83.7 74.7,83.7 74.4,84.0 74.0,84.3 74.1,84.8 74.6,84.9 75.1,85.0 74.8,85.5 75.1,86.0 74.8,86.8 75.3,87.6 74.4,87.5 73.8,86.9 73.4,86.9 73.0,86.9 73.0,87.4 72.6,87.6 72.8,88.4 73.3,88.9 72.6,89.2 72.4,89.8 71.8,89.7 71.1,89.8 71.2,90.5 70.9,91.1 70.3,91.4 69.6,91.4 69.4,92.0 69.8,92.4 70.0,92.9 69.7,93.3 70.1,93.7 70.3,94.1 70.7,94.3 71.2,94.5 71.4,95.1 71.9,95.6 72.2,96.0 72.7,96.3 72.8,95.8 73.0,95.3 73.4,95.7 73.8,96.2 73.8,96.7 73.8,97.3 74.9,97.0 76.0,97.5 75.9,96.3" fill="#fff" stroke="#7c7c7c" stroke-width="0.9" stroke-linejoin="round"/>
<polygon points="242.0,210.6 242.4,210.2 242.4,209.6 243.0,209.7 243.5,209.8 243.9,209.4 244.4,209.5 244.6,209.1 244.9,208.7 244.8,209.3 244.9,209.8 245.5,209.4 246.0,209.9 245.7,210.4 245.1,210.6 245.8,210.9 245.6,211.6 245.7,210.8 245.0,210.8 244.5,210.9 244.2,211.4 243.7,211.9 243.4,212.6 242.7,212.5 242.1,212.1 242.3,211.3" fill="#fff" stroke="#7c7c7c" stroke-width="0.9" stroke-linejoin="round"/>
<polygon points="193.6,215.4 194.2,215.2 194.3,215.9 193.8,216.1" fill="#fff" stroke="#7c7c7c" stroke-width="0.9" stroke-linejoin="round"/>
<polygon points="196.6,203.6 196.9,202.9 196.7,203.6 197.1,204.1" fill="#fff" stroke="#7c7c7c" stroke-width="0.9" stroke-linejoin="round"/>
<polygon points="157.7,234.4 158.3,234.2 157.8,234.1 157.5,234.5 157.1,235.2 157.9,235.3 157.3,235.0 156.8,235.4 156.3,235.4 156.7,235.3 157.1,235.0 157.7,235.0" fill="#fff" stroke="#7c7c7c" stroke-width="0.9" stroke-linejoin="round"/>
<polygon points="202.4,95.1 202.1,94.8 201.7,94.5 202.4,94.1 202.2,94.6" fill="#fff" stroke="#7c7c7c" stroke-width="0.9" stroke-linejoin="round"/>
<polygon points="221.5,93.4 220.9,93.8 220.5,93.3 219.9,93.0 219.8,92.4 220.5,92.2 221.2,91.8 221.9,92.0 222.5,92.4 221.8,92.7" fill="#fff" stroke="#7c7c7c" stroke-width="0.9" stroke-linejoin="round"/>
<polygon points="136.0,115.0 164.0,114.0 170.0,122.0 172.0,148.0 186.0,154.0 190.0,164.0 184.0,172.0 166.0,174.0 158.0,168.0 150.0,156.0 138.0,146.0 134.0,130.0" fill="url(#pdots)"/>
<polygon points="188.0,69.0 200.0,68.0 204.0,76.0 200.0,84.0 192.0,84.0 187.0,77.0" fill="url(#pdots)"/>
<polygon points="123.0,71.0 133.0,70.0 137.0,73.0 132.0,76.0 124.0,75.0" fill="url(#pdots)"/>
<polygon points="176.0,101.0 186.0,99.0 192.0,102.0 190.0,108.0 182.0,110.0 176.0,106.0" fill="url(#pdots)"/>
<polygon points="215.0,115.0 224.0,113.0 230.0,118.0 230.0,130.0 224.0,135.0 216.0,132.0 214.0,123.0" fill="url(#pdots)"/>
<polygon points="190.0,186.0 196.0,186.0 198.0,195.0 192.0,197.0" fill="url(#pdots)"/>
<polygon points="142.0,219.0 149.0,217.0 148.0,225.0 143.0,228.0" fill="url(#pdots)"/>
<line x1="170.4" y1="147.3" x2="170.40" y2="264.50" stroke="#777" stroke-width="0.55" stroke-dasharray="1.6,1.4"/>
<line x1="170.4" y1="147.3" x2="271.90" y2="205.90" stroke="#777" stroke-width="0.55" stroke-dasharray="1.6,1.4"/>
<line x1="170.4" y1="147.3" x2="271.90" y2="88.70" stroke="#777" stroke-width="0.55" stroke-dasharray="1.6,1.4"/>
<line x1="170.4" y1="147.3" x2="170.40" y2="30.10" stroke="#777" stroke-width="0.55" stroke-dasharray="1.6,1.4"/>
<line x1="170.4" y1="147.3" x2="68.90" y2="205.90" stroke="#777" stroke-width="0.55" stroke-dasharray="1.6,1.4"/>
<line x1="170.4" y1="147.3" x2="68.90" y2="88.70" stroke="#777" stroke-width="0.55" stroke-dasharray="1.6,1.4"/>
<circle cx="170.4" cy="147.3" r="69.60" fill="none" stroke="#777" stroke-width="0.55" stroke-dasharray="1.6,1.4"/>
<circle cx="170.4" cy="147.3" r="23.08" fill="none" stroke="#777" stroke-width="0.55" stroke-dasharray="1.6,1.4"/>
</g>
<circle cx="170.4" cy="147.3" r="117.2" fill="none" stroke="#333" stroke-width="0.9"/>
<path d="M170.4,147.3 L170.40,123.50 A23.8,23.8 0 1 0 191.01,159.20 Z" fill="none" stroke="#d8352b" stroke-width="1.4" stroke-linejoin="miter"/>
<text x="0" y="0" transform="translate(170.6,22.3) rotate(-90)" text-anchor="middle" dy="2.2" font-size="6.3" font-family="Liberation Serif, serif" fill="#222">180°</text>
<text x="0" y="0" transform="translate(170.4,271.5) rotate(-90)" text-anchor="middle" dy="2.2" font-size="6.3" font-family="Liberation Serif, serif" fill="#222">0°</text>
<text x="0" y="0" transform="translate(59,81.5) rotate(30)" text-anchor="middle" dy="2.2" font-size="6.3" font-family="Liberation Serif, serif" fill="#222">120°W</text>
<text x="0" y="0" transform="translate(59.4,211.2) rotate(-30)" text-anchor="middle" dy="2.2" font-size="6.3" font-family="Liberation Serif, serif" fill="#222">60°W</text>
<text x="0" y="0" transform="translate(282.3,83.6) rotate(-30)" text-anchor="middle" dy="2.2" font-size="6.3" font-family="Liberation Serif, serif" fill="#222">120°E</text>
<text x="0" y="0" transform="translate(280.6,210.6) rotate(30)" text-anchor="middle" dy="2.2" font-size="6.3" font-family="Liberation Serif, serif" fill="#222">60°E</text>
<text x="198" y="87.5" font-size="5.6" font-family="Liberation Serif, serif" fill="#222">75°N</text>
<text x="175" y="129" font-size="5.6" font-family="Liberation Serif, serif" fill="#222">85°N</text>
<text x="53.9" y="11.6" font-size="11.65" font-family="Liberation Serif, serif" fill="#222">(a)SON PI.corr.Aug SIC</text>
<polygon points="104.20,282.3 104.20,289.75 97.8,286.02500000000003" fill="#1a2d6c"/>
<rect x="104.20" y="282.3" width="9.60" height="7.45" fill="#203c82"/>
<rect x="113.65" y="282.3" width="9.60" height="7.45" fill="#3a68b6"/>
<rect x="123.10" y="282.3" width="9.60" height="7.45" fill="#5593cf"/>
<rect x="132.55" y="282.3" width="9.60" height="7.45" fill="#88c3e6"/>
<rect x="142.00" y="282.3" width="9.60" height="7.45" fill="#b0dcf0"/>
<rect x="151.45" y="282.3" width="9.60" height="7.45" fill="#d8f0f8"/>
<rect x="160.90" y="282.3" width="9.60" height="7.45" fill="#ffffff"/>
<rect x="170.35" y="282.3" width="9.60" height="7.45" fill="#ffffff"/>
<rect x="179.80" y="282.3" width="9.60" height="7.45" fill="#f6f4be"/>
<rect x="189.25" y="282.3" width="9.60" height="7.45" fill="#f3cd62"/>
<rect x="198.70" y="282.3" width="9.60" height="7.45" fill="#eea03a"/>
<rect x="208.15" y="282.3" width="9.60" height="7.45" fill="#e8652c"/>
<rect x="217.60" y="282.3" width="9.60" height="7.45" fill="#dd3029"/>
<rect x="227.05" y="282.3" width="9.60" height="7.45" fill="#b62127"/>
<polygon points="236.50,282.3 236.50,289.75 243.4,286.02500000000003" fill="#a01c24"/>
<polygon points="97.8,286.02500000000003 104.20,282.3 236.50,282.3 243.4,286.02500000000003 236.50,289.75 104.20,289.75" fill="none" stroke="#222" stroke-width="0.7"/>
<line x1="113.65" y1="289.75" x2="113.65" y2="291.95" stroke="#333" stroke-width="0.6"/>
<text transform="translate(114.25,302.9) scale(1,1.04)" text-anchor="middle" font-size="12" font-family="Liberation Serif, serif" fill="#222">-0.6</text>
<line x1="132.55" y1="289.75" x2="132.55" y2="291.95" stroke="#333" stroke-width="0.6"/>
<text transform="translate(133.15,302.9) scale(1,1.04)" text-anchor="middle" font-size="12" font-family="Liberation Serif, serif" fill="#222">-0.4</text>
<line x1="151.45" y1="289.75" x2="151.45" y2="291.95" stroke="#333" stroke-width="0.6"/>
<text transform="translate(152.05,302.9) scale(1,1.04)" text-anchor="middle" font-size="12" font-family="Liberation Serif, serif" fill="#222">-0.2</text>
<line x1="170.35" y1="289.75" x2="170.35" y2="291.95" stroke="#333" stroke-width="0.6"/>
<text transform="translate(170.95,302.9) scale(1,1.04)" text-anchor="middle" font-size="12" font-family="Liberation Serif, serif" fill="#222">-0.0</text>
<line x1="189.25" y1="289.75" x2="189.25" y2="291.95" stroke="#333" stroke-width="0.6"/>
<text transform="translate(189.85,302.9) scale(1,1.04)" text-anchor="middle" font-size="12" font-family="Liberation Serif, serif" fill="#222">0.2</text>
<line x1="208.15" y1="289.75" x2="208.15" y2="291.95" stroke="#333" stroke-width="0.6"/>
<text transform="translate(208.75,302.9) scale(1,1.04)" text-anchor="middle" font-size="12" font-family="Liberation Serif, serif" fill="#222">0.4</text>
<line x1="227.05" y1="289.75" x2="227.05" y2="291.95" stroke="#333" stroke-width="0.6"/>
<text transform="translate(227.65,302.9) scale(1,1.04)" text-anchor="middle" font-size="12" font-family="Liberation Serif, serif" fill="#222">0.6</text>
<g>
<line x1="369.4" y1="144.4" x2="683.2" y2="144.4" stroke="#b4b4b4" stroke-width="1"/>
<line x1="369.4" y1="82.4" x2="683.2" y2="82.4" stroke="#c8da72" stroke-width="1.1" stroke-dasharray="5,1.25,1.5,1.3" stroke-dashoffset="2.72"/>
<line x1="369.4" y1="206.4" x2="683.2" y2="206.4" stroke="#c8da72" stroke-width="1.1" stroke-dasharray="5,1.25,1.5,1.3" stroke-dashoffset="2.72"/>
<polyline points="405.9,158.9 413.2,158.9 420.5,173.5 427.8,150.3 435.1,163.1 442.4,156.6 449.7,136.3 457.0,130.4 464.3,148.3 471.6,170.6 478.9,194.0 486.2,184.6 493.5,190.3 500.8,200.7 508.1,198.4 515.4,178.3 522.7,171.6 530.0,186.6 537.3,200.2 544.6,190.8 551.9,183.7 559.2,185.8 566.5,190.8 573.8,195.5 581.1,215.5 588.4,244.6 595.7,244.6 603.0,249.6 610.3,254.8 617.6,207.9 624.9,223.0 632.2,221.3 639.5,213.8 646.8,211.3" fill="none" stroke="#2f8f80" stroke-width="1.05" stroke-linejoin="round"/>
<circle cx="581.1" cy="215.5" r="1.7" fill="none" stroke="#2f8f80" stroke-width="0.75"/>
<circle cx="588.4" cy="244.6" r="1.7" fill="none" stroke="#2f8f80" stroke-width="0.75"/>
<circle cx="595.7" cy="244.6" r="1.7" fill="none" stroke="#2f8f80" stroke-width="0.75"/>
<circle cx="603.0" cy="249.6" r="1.7" fill="none" stroke="#2f8f80" stroke-width="0.75"/>
<circle cx="610.3" cy="254.8" r="1.7" fill="none" stroke="#2f8f80" stroke-width="0.75"/>
<circle cx="617.6" cy="207.9" r="1.7" fill="none" stroke="#2f8f80" stroke-width="0.75"/>
<circle cx="624.9" cy="223.0" r="1.7" fill="none" stroke="#2f8f80" stroke-width="0.75"/>
<circle cx="632.2" cy="221.3" r="1.7" fill="none" stroke="#2f8f80" stroke-width="0.75"/>
<circle cx="639.5" cy="213.8" r="1.7" fill="none" stroke="#2f8f80" stroke-width="0.75"/>
<circle cx="646.8" cy="211.3" r="1.7" fill="none" stroke="#2f8f80" stroke-width="0.75"/>
<polyline points="405.9,140.9 413.2,124.9 420.5,109.3 427.8,98.6 435.1,124.5 442.4,124.5 449.7,103.0 457.0,85.5 464.3,94.8 471.6,100.4 478.9,89.6 486.2,93.8 493.5,107.9 500.8,83.5 508.1,87.5 515.4,98.3 522.7,111.7 530.0,146.6 537.3,168.4 544.6,165.9 551.9,171.6 559.2,151.0 566.5,142.8 573.8,149.1 581.1,180.7 588.4,212.1 595.7,221.8 603.0,244.1 610.3,261.1 617.6,262.7 624.9,257.8 632.2,246.6 639.5,243.6 646.8,234.9" fill="none" stroke="#f0302c" stroke-width="1.05" stroke-linejoin="round"/>
<circle cx="588.4" cy="212.1" r="1.7" fill="none" stroke="#f0302c" stroke-width="0.75"/>
<circle cx="595.7" cy="221.8" r="1.7" fill="none" stroke="#f0302c" stroke-width="0.75"/>
<circle cx="603.0" cy="244.1" r="1.7" fill="none" stroke="#f0302c" stroke-width="0.75"/>
<circle cx="610.3" cy="261.1" r="1.7" fill="none" stroke="#f0302c" stroke-width="0.75"/>
<circle cx="617.6" cy="262.7" r="1.7" fill="none" stroke="#f0302c" stroke-width="0.75"/>
<circle cx="624.9" cy="257.8" r="1.7" fill="none" stroke="#f0302c" stroke-width="0.75"/>
<circle cx="632.2" cy="246.6" r="1.7" fill="none" stroke="#f0302c" stroke-width="0.75"/>
<circle cx="639.5" cy="243.6" r="1.7" fill="none" stroke="#f0302c" stroke-width="0.75"/>
<circle cx="646.8" cy="234.9" r="1.7" fill="none" stroke="#f0302c" stroke-width="0.75"/>
<polyline points="405.9,65.1 413.2,76.0 420.5,65.1 427.8,59.8 435.1,88.1 442.4,90.6 449.7,79.9 457.0,79.0 464.3,66.1 471.6,64.4 478.9,71.0 486.2,97.5 493.5,96.7 500.8,80.1 508.1,76.8 515.4,56.0 522.7,59.4 530.0,88.6 537.3,105.1 544.6,170.1 551.9,187.4 559.2,183.3 566.5,170.6 573.8,174.3 581.1,234.9 588.4,249.9 595.7,255.6 603.0,256.1 610.3,256.1 617.6,251.2 624.9,249.6 632.2,248.5 639.5,253.4 646.8,241.2" fill="none" stroke="#2b2bf5" stroke-width="1.05" stroke-linejoin="round"/>
<circle cx="405.9" cy="65.1" r="1.7" fill="none" stroke="#2b2bf5" stroke-width="0.75"/>
<circle cx="413.2" cy="76.0" r="1.7" fill="none" stroke="#2b2bf5" stroke-width="0.75"/>
<circle cx="420.5" cy="65.1" r="1.7" fill="none" stroke="#2b2bf5" stroke-width="0.75"/>
<circle cx="427.8" cy="59.8" r="1.7" fill="none" stroke="#2b2bf5" stroke-width="0.75"/>
<circle cx="449.7" cy="79.9" r="1.7" fill="none" stroke="#2b2bf5" stroke-width="0.75"/>
<circle cx="457.0" cy="79.0" r="1.7" fill="none" stroke="#2b2bf5" stroke-width="0.75"/>
<circle cx="464.3" cy="66.1" r="1.7" fill="none" stroke="#2b2bf5" stroke-width="0.75"/>
<circle cx="471.6" cy="64.4" r="1.7" fill="none" stroke="#2b2bf5" stroke-width="0.75"/>
<circle cx="478.9" cy="71.0" r="1.7" fill="none" stroke="#2b2bf5" stroke-width="0.75"/>
<circle cx="500.8" cy="80.1" r="1.7" fill="none" stroke="#2b2bf5" stroke-width="0.75"/>
<circle cx="508.1" cy="76.8" r="1.7" fill="none" stroke="#2b2bf5" stroke-width="0.75"/>
<circle cx="515.4" cy="56.0" r="1.7" fill="none" stroke="#2b2bf5" stroke-width="0.75"/>
<circle cx="522.7" cy="59.4" r="1.7" fill="none" stroke="#2b2bf5" stroke-width="0.75"/>
<circle cx="581.1" cy="234.9" r="1.7" fill="none" stroke="#2b2bf5" stroke-width="0.75"/>
<circle cx="588.4" cy="249.9" r="1.7" fill="none" stroke="#2b2bf5" stroke-width="0.75"/>
<circle cx="595.7" cy="255.6" r="1.7" fill="none" stroke="#2b2bf5" stroke-width="0.75"/>
<circle cx="603.0" cy="256.1" r="1.7" fill="none" stroke="#2b2bf5" stroke-width="0.75"/>
<circle cx="610.3" cy="256.1" r="1.7" fill="none" stroke="#2b2bf5" stroke-width="0.75"/>
<circle cx="617.6" cy="251.2" r="1.7" fill="none" stroke="#2b2bf5" stroke-width="0.75"/>
<circle cx="624.9" cy="249.6" r="1.7" fill="none" stroke="#2b2bf5" stroke-width="0.75"/>
<circle cx="632.2" cy="248.5" r="1.7" fill="none" stroke="#2b2bf5" stroke-width="0.75"/>
<circle cx="639.5" cy="253.4" r="1.7" fill="none" stroke="#2b2bf5" stroke-width="0.75"/>
<circle cx="646.8" cy="241.2" r="1.7" fill="none" stroke="#2b2bf5" stroke-width="0.75"/>
<polyline points="405.9,75.2 413.2,66.1 420.5,61.9 427.8,57.2 435.1,86.1 442.4,91.1 449.7,63.6 457.0,59.1 464.3,61.9 471.6,67.6 478.9,80.1 486.2,83.4 493.5,84.3 500.8,66.8 508.1,72.6 515.4,67.6 522.7,78.9 530.0,122.5 537.3,139.2 544.6,151.6 551.9,155.1 559.2,142.4 566.5,145.1 573.8,152.4 581.1,190.3 588.4,229.9 595.7,233.2 603.0,253.1 610.3,254.4 617.6,237.8 624.9,245.1 632.2,241.9 639.5,245.1 646.8,239.1" fill="none" stroke="#2a962a" stroke-width="1.05" stroke-linejoin="round"/>
<circle cx="405.9" cy="75.2" r="1.7" fill="none" stroke="#2a962a" stroke-width="0.75"/>
<circle cx="413.2" cy="66.1" r="1.7" fill="none" stroke="#2a962a" stroke-width="0.75"/>
<circle cx="420.5" cy="61.9" r="1.7" fill="none" stroke="#2a962a" stroke-width="0.75"/>
<circle cx="427.8" cy="57.2" r="1.7" fill="none" stroke="#2a962a" stroke-width="0.75"/>
<circle cx="449.7" cy="63.6" r="1.7" fill="none" stroke="#2a962a" stroke-width="0.75"/>
<circle cx="457.0" cy="59.1" r="1.7" fill="none" stroke="#2a962a" stroke-width="0.75"/>
<circle cx="464.3" cy="61.9" r="1.7" fill="none" stroke="#2a962a" stroke-width="0.75"/>
<circle cx="471.6" cy="67.6" r="1.7" fill="none" stroke="#2a962a" stroke-width="0.75"/>
<circle cx="478.9" cy="80.1" r="1.7" fill="none" stroke="#2a962a" stroke-width="0.75"/>
<circle cx="500.8" cy="66.8" r="1.7" fill="none" stroke="#2a962a" stroke-width="0.75"/>
<circle cx="508.1" cy="72.6" r="1.7" fill="none" stroke="#2a962a" stroke-width="0.75"/>
<circle cx="515.4" cy="67.6" r="1.7" fill="none" stroke="#2a962a" stroke-width="0.75"/>
<circle cx="522.7" cy="78.9" r="1.7" fill="none" stroke="#2a962a" stroke-width="0.75"/>
<circle cx="588.4" cy="229.9" r="1.7" fill="none" stroke="#2a962a" stroke-width="0.75"/>
<circle cx="595.7" cy="233.2" r="1.7" fill="none" stroke="#2a962a" stroke-width="0.75"/>
<circle cx="603.0" cy="253.1" r="1.7" fill="none" stroke="#2a962a" stroke-width="0.75"/>
<circle cx="610.3" cy="254.4" r="1.7" fill="none" stroke="#2a962a" stroke-width="0.75"/>
<circle cx="617.6" cy="237.8" r="1.7" fill="none" stroke="#2a962a" stroke-width="0.75"/>
<circle cx="624.9" cy="245.1" r="1.7" fill="none" stroke="#2a962a" stroke-width="0.75"/>
<circle cx="632.2" cy="241.9" r="1.7" fill="none" stroke="#2a962a" stroke-width="0.75"/>
<circle cx="639.5" cy="245.1" r="1.7" fill="none" stroke="#2a962a" stroke-width="0.75"/>
<circle cx="646.8" cy="239.1" r="1.7" fill="none" stroke="#2a962a" stroke-width="0.75"/>
<polyline points="405.9,85.6 413.2,77.9 420.5,70.5 427.8,64.1 435.1,81.7 442.4,86.5 449.7,51.5 457.0,55.3 464.3,72.6 471.6,62.7 478.9,72.3 486.2,85.8 493.5,84.1 500.8,60.7 508.1,65.3 515.4,50.7 522.7,56.0 530.0,80.2 537.3,102.6 544.6,139.2 551.9,152.9 559.2,137.5 566.5,131.7 573.8,139.9 581.1,182.4 588.4,224.2 595.7,231.5 603.0,244.6 610.3,248.5 617.6,233.2 624.9,237.4 632.2,235.7 639.5,240.8 646.8,239.1" fill="none" stroke="#1c1c1c" stroke-width="1.05" stroke-linejoin="round"/>
<circle cx="413.2" cy="77.9" r="1.7" fill="none" stroke="#1c1c1c" stroke-width="0.75"/>
<circle cx="420.5" cy="70.5" r="1.7" fill="none" stroke="#1c1c1c" stroke-width="0.75"/>
<circle cx="427.8" cy="64.1" r="1.7" fill="none" stroke="#1c1c1c" stroke-width="0.75"/>
<circle cx="435.1" cy="81.7" r="1.7" fill="none" stroke="#1c1c1c" stroke-width="0.75"/>
<circle cx="449.7" cy="51.5" r="1.7" fill="none" stroke="#1c1c1c" stroke-width="0.75"/>
<circle cx="457.0" cy="55.3" r="1.7" fill="none" stroke="#1c1c1c" stroke-width="0.75"/>
<circle cx="464.3" cy="72.6" r="1.7" fill="none" stroke="#1c1c1c" stroke-width="0.75"/>
<circle cx="471.6" cy="62.7" r="1.7" fill="none" stroke="#1c1c1c" stroke-width="0.75"/>
<circle cx="478.9" cy="72.3" r="1.7" fill="none" stroke="#1c1c1c" stroke-width="0.75"/>
<circle cx="500.8" cy="60.7" r="1.7" fill="none" stroke="#1c1c1c" stroke-width="0.75"/>
<circle cx="508.1" cy="65.3" r="1.7" fill="none" stroke="#1c1c1c" stroke-width="0.75"/>
<circle cx="515.4" cy="50.7" r="1.7" fill="none" stroke="#1c1c1c" stroke-width="0.75"/>
<circle cx="522.7" cy="56.0" r="1.7" fill="none" stroke="#1c1c1c" stroke-width="0.75"/>
<circle cx="530.0" cy="80.2" r="1.7" fill="none" stroke="#1c1c1c" stroke-width="0.75"/>
<circle cx="588.4" cy="224.2" r="1.7" fill="none" stroke="#1c1c1c" stroke-width="0.75"/>
<circle cx="595.7" cy="231.5" r="1.7" fill="none" stroke="#1c1c1c" stroke-width="0.75"/>
<circle cx="603.0" cy="244.6" r="1.7" fill="none" stroke="#1c1c1c" stroke-width="0.75"/>
<circle cx="610.3" cy="248.5" r="1.7" fill="none" stroke="#1c1c1c" stroke-width="0.75"/>
<circle cx="617.6" cy="233.2" r="1.7" fill="none" stroke="#1c1c1c" stroke-width="0.75"/>
<circle cx="624.9" cy="237.4" r="1.7" fill="none" stroke="#1c1c1c" stroke-width="0.75"/>
<circle cx="632.2" cy="235.7" r="1.7" fill="none" stroke="#1c1c1c" stroke-width="0.75"/>
<circle cx="639.5" cy="240.8" r="1.7" fill="none" stroke="#1c1c1c" stroke-width="0.75"/>
<circle cx="646.8" cy="239.1" r="1.7" fill="none" stroke="#1c1c1c" stroke-width="0.75"/>
<path d="M366.8,13.4 H683.3 V275.4 H369.4" fill="none" stroke="#555" stroke-width="1"/>
<line x1="369.6" y1="13.9" x2="369.6" y2="275.0" stroke="#b8b8b8" stroke-width="1.2"/>
<line x1="366.5" y1="13.4" x2="369.4" y2="13.4" stroke="#555" stroke-width="0.8"/>
<text transform="translate(364.6,16.8) scale(1,1.14)" text-anchor="end" font-size="8.8" font-family="Liberation Serif, serif" fill="#222">1.00</text>
<line x1="366.5" y1="46.1" x2="369.4" y2="46.1" stroke="#555" stroke-width="0.8"/>
<text transform="translate(364.6,49.5) scale(1,1.14)" text-anchor="end" font-size="8.8" font-family="Liberation Serif, serif" fill="#222">0.75</text>
<line x1="366.5" y1="78.9" x2="369.4" y2="78.9" stroke="#555" stroke-width="0.8"/>
<text transform="translate(364.6,82.3) scale(1,1.14)" text-anchor="end" font-size="8.8" font-family="Liberation Serif, serif" fill="#222">0.50</text>
<line x1="366.5" y1="111.7" x2="369.4" y2="111.7" stroke="#555" stroke-width="0.8"/>
<text transform="translate(364.6,115.1) scale(1,1.14)" text-anchor="end" font-size="8.8" font-family="Liberation Serif, serif" fill="#222">0.25</text>
<line x1="366.5" y1="144.4" x2="369.4" y2="144.4" stroke="#555" stroke-width="0.8"/>
<text transform="translate(364.6,147.8) scale(1,1.14)" text-anchor="end" font-size="8.8" font-family="Liberation Serif, serif" fill="#222">0.00</text>
<line x1="366.5" y1="177.2" x2="369.4" y2="177.2" stroke="#555" stroke-width="0.8"/>
<text transform="translate(364.6,180.6) scale(1,1.14)" text-anchor="end" font-size="8.8" font-family="Liberation Serif, serif" fill="#222">-0.25</text>
<line x1="366.5" y1="209.9" x2="369.4" y2="209.9" stroke="#555" stroke-width="0.8"/>
<text transform="translate(364.6,213.3) scale(1,1.14)" text-anchor="end" font-size="8.8" font-family="Liberation Serif, serif" fill="#222">-0.50</text>
<line x1="366.5" y1="242.7" x2="369.4" y2="242.7" stroke="#555" stroke-width="0.8"/>
<text transform="translate(364.6,246.1) scale(1,1.14)" text-anchor="end" font-size="8.8" font-family="Liberation Serif, serif" fill="#222">-0.75</text>
<line x1="366.5" y1="275.4" x2="369.4" y2="275.4" stroke="#555" stroke-width="0.8"/>
<text transform="translate(364.6,278.8) scale(1,1.14)" text-anchor="end" font-size="8.8" font-family="Liberation Serif, serif" fill="#222">-1.00</text>
<line x1="369.4" y1="275.4" x2="369.4" y2="278.2" stroke="#555" stroke-width="0.8"/>
<text transform="translate(369.4,285.8) scale(1,1.12)" text-anchor="middle" font-size="8.6" font-family="Liberation Serif, serif" fill="#222">1980</text>
<line x1="405.9" y1="275.4" x2="405.9" y2="278.2" stroke="#555" stroke-width="0.8"/>
<text transform="translate(405.9,285.8) scale(1,1.12)" text-anchor="middle" font-size="8.6" font-family="Liberation Serif, serif" fill="#222">1985</text>
<line x1="442.4" y1="275.4" x2="442.4" y2="278.2" stroke="#555" stroke-width="0.8"/>
<text transform="translate(442.4,285.8) scale(1,1.12)" text-anchor="middle" font-size="8.6" font-family="Liberation Serif, serif" fill="#222">1990</text>
<line x1="478.9" y1="275.4" x2="478.9" y2="278.2" stroke="#555" stroke-width="0.8"/>
<text transform="translate(478.9,285.8) scale(1,1.12)" text-anchor="middle" font-size="8.6" font-family="Liberation Serif, serif" fill="#222">1995</text>
<line x1="515.4" y1="275.4" x2="515.4" y2="278.2" stroke="#555" stroke-width="0.8"/>
<text transform="translate(515.4,285.8) scale(1,1.12)" text-anchor="middle" font-size="8.6" font-family="Liberation Serif, serif" fill="#222">2000</text>
<line x1="551.9" y1="275.4" x2="551.9" y2="278.2" stroke="#555" stroke-width="0.8"/>
<text transform="translate(551.9,285.8) scale(1,1.12)" text-anchor="middle" font-size="8.6" font-family="Liberation Serif, serif" fill="#222">2005</text>
<line x1="588.4" y1="275.4" x2="588.4" y2="278.2" stroke="#555" stroke-width="0.8"/>
<text transform="translate(588.4,285.8) scale(1,1.12)" text-anchor="middle" font-size="8.6" font-family="Liberation Serif, serif" fill="#222">2010</text>
<line x1="624.9" y1="275.4" x2="624.9" y2="278.2" stroke="#555" stroke-width="0.8"/>
<text transform="translate(624.9,285.8) scale(1,1.12)" text-anchor="middle" font-size="8.6" font-family="Liberation Serif, serif" fill="#222">2015</text>
<line x1="661.4" y1="275.4" x2="661.4" y2="278.2" stroke="#555" stroke-width="0.8"/>
<text transform="translate(661.4,285.8) scale(1,1.12)" text-anchor="middle" font-size="8.6" font-family="Liberation Serif, serif" fill="#222">2020</text>
<text x="368.8" y="10.6" font-size="10.13" font-family="Liberation Serif, serif" fill="#222">(b)Aug SICI.corr.MDI &amp; SON PI(window=11)</text>
<line x1="646.1" y1="21.0" x2="658.3" y2="21.0" stroke="#7a7aff" stroke-width="1"/>
<text x="662.2" y="23.0" font-size="5.6" font-family="Liberation Serif, serif" fill="#222">CRU</text>
<line x1="646.1" y1="29.3" x2="658.3" y2="29.3" stroke="#ff3a3a" stroke-width="1"/>
<text x="662.2" y="31.3" font-size="5.6" font-family="Liberation Serif, serif" fill="#222">CPC</text>
<line x1="646.1" y1="37.6" x2="658.3" y2="37.6" stroke="#333" stroke-width="1"/>
<text x="662.2" y="39.6" font-size="5.6" font-family="Liberation Serif, serif" fill="#222">JRA55</text>
<line x1="646.1" y1="45.9" x2="658.3" y2="45.9" stroke="#5aab5a" stroke-width="1"/>
<text x="662.2" y="47.9" font-size="5.6" font-family="Liberation Serif, serif" fill="#222">ERA5</text>
<line x1="646.1" y1="54.2" x2="658.3" y2="54.2" stroke="#2f8f80" stroke-width="1"/>
<text x="662.2" y="56.2" font-size="5.6" font-family="Liberation Serif, serif" fill="#222">MDI</text>
</g>
<defs><clipPath id="mcframe"><rect x="0" y="0" width="283.30" height="141.00"/></clipPath>
<clipPath id="mcland"><path d="M-22.66,-11.28 L-23.75,-1.75 L-21.65,7.61 L-22.69,17.03 L-22.66,26.51 L-21.64,26.40 L-20.68,26.76 L-19.58,27.51 L-18.70,26.51 L-17.92,27.23 L-18.33,28.21 L-17.40,28.46 L-17.00,29.33 L-16.41,29.69 L-16.35,30.38 L-15.98,30.96 L-15.30,31.02 L-14.98,31.61 L-15.10,32.27 L-15.64,32.66 L-15.86,33.28 L-15.56,34.00 L-15.13,34.66 L-14.32,34.60 L-13.60,34.97 L-12.86,35.54 L-12.07,36.06 L-11.13,35.57 L-10.20,36.10 L-9.79,36.60 L-9.15,36.73 L-8.56,36.42 L-7.93,36.66 L-7.58,37.12 L-7.64,37.69 L-7.31,38.14 L-6.80,38.35 L-6.28,38.97 L-6.08,39.75 L-5.42,40.52 L-4.53,40.04 L-4.24,41.16 L-3.12,41.44 L-2.93,40.22 L-1.70,40.04 L-1.00,39.82 L-0.32,39.52 L0.42,39.59 L1.13,39.76 L1.84,40.06 L2.55,40.33 L1.89,40.06 L1.58,40.70 L1.77,41.20 L1.70,41.74 L1.42,42.41 L0.82,42.83 L0.11,42.77 L-0.57,42.58 L-1.14,42.63 L-1.72,42.56 L-2.21,42.94 L-2.83,42.86 L-3.43,42.91 L-4.01,43.07 L-4.61,42.96 L-5.10,42.58 L-5.52,43.15 L-5.95,43.71 L-5.49,44.10 L-5.42,44.70 L-5.20,45.34 L-4.53,45.40 L-3.55,45.47 L-2.56,45.43 L-1.95,46.33 L-2.27,47.38 L-1.33,47.13 L-0.70,47.87 L-0.23,48.55 L0.00,49.35 L0.87,48.96 L1.66,49.50 L2.41,50.09 L2.27,51.04 L3.04,51.70 L4.03,51.52 L4.88,51.86 L5.67,52.34 L6.31,51.63 L7.21,51.32 L8.14,51.38 L9.07,51.32 L10.13,50.95 L11.23,51.14 L11.59,50.11 L11.90,49.07 L12.40,48.37 L11.85,47.72 L12.14,47.12 L12.47,46.53 L12.96,46.03 L13.63,45.86 L13.14,45.29 L13.32,44.56 L13.95,44.01 L14.73,43.71 L14.62,44.38 L14.86,45.01 L15.13,45.61 L15.30,46.25 L15.19,46.81 L15.28,47.38 L15.70,47.93 L15.30,48.50 L15.58,49.35 L15.86,50.20 L16.50,50.92 L16.85,51.82 L16.47,52.69 L16.15,53.58 L15.75,54.21 L15.66,54.95 L15.54,55.67 L15.58,56.40 L15.63,57.12 L15.48,57.83 L15.29,58.63 L15.86,59.22 L15.88,59.93 L15.86,60.64 L16.65,61.21 L16.15,62.04 L16.60,62.79 L16.19,63.57 L16.61,64.20 L17.00,64.86 L17.34,65.55 L17.79,66.17 L18.13,66.99 L17.56,67.68 L18.40,68.27 L18.35,69.30 L18.39,70.21 L18.70,71.06 L19.00,71.91 L19.47,72.67 L19.23,73.54 L19.26,74.45 L20.03,75.53 L21.27,76.01 L20.81,77.19 L20.40,78.40 L20.76,79.10 L20.59,79.87 L20.55,80.73 L21.25,81.22 L21.31,81.88 L21.85,82.26 L21.37,82.86 L21.81,83.47 L22.07,84.10 L22.56,84.58 L22.86,85.17 L23.23,85.73 L22.77,86.74 L22.54,87.84 L23.54,88.36 L24.65,88.55 L25.71,89.37 L25.16,90.59 L25.65,91.52 L26.06,92.50 L26.33,93.19 L26.42,93.93 L26.53,94.67 L26.91,95.32 L26.80,96.30 L27.48,97.01 L27.30,97.90 L27.42,98.81 L28.21,99.24 L28.90,99.83 L28.93,100.89 L28.62,101.92 L29.81,101.73 L30.60,102.65 L31.08,103.20 L31.71,103.58 L32.12,104.19 L32.30,104.90 L32.15,105.66 L31.83,106.37 L32.29,107.10 L33.15,107.16 L33.13,108.01 L33.79,108.54 L34.12,109.23 L34.28,109.98 L34.47,111.14 L35.64,111.24 L35.21,112.12 L35.41,113.08 L35.91,113.80 L36.47,114.46 L36.69,115.36 L36.26,116.18 L36.52,117.05 L36.14,117.87 L36.52,118.71 L37.40,119.00 L38.32,119.47 L38.01,120.46 L38.39,121.39 L39.38,121.26 L39.42,122.04 L39.89,122.67 L40.65,122.70 L41.36,122.95 L42.21,123.00 L42.78,123.63 L43.50,123.57 L43.68,122.86 L44.24,122.68 L44.76,122.39 L44.33,121.56 L44.80,120.75 L45.35,120.09 L46.18,119.85 L45.77,119.22 L46.01,118.51 L46.56,117.98 L47.31,118.16 L48.33,118.53 L48.86,117.58 L49.65,117.33 L50.43,117.03 L50.92,117.21 L51.38,117.48 L51.87,117.24 L52.13,116.75 L52.07,116.18 L51.76,115.70 L51.18,115.69 L50.71,115.34 L50.44,114.58 L50.84,113.88 L50.86,112.89 L51.84,112.80 L52.62,112.91 L53.27,112.46 L53.45,111.75 L53.83,111.11 L54.37,111.17 L54.82,110.86 L55.32,110.97 L55.81,111.11 L55.46,110.34 L56.00,109.70 L55.69,109.02 L55.81,108.29 L56.74,107.46 L56.39,106.26 L55.67,105.43 L55.53,104.34 L55.83,103.61 L55.84,102.83 L55.55,101.73 L56.66,101.52 L56.25,100.58 L56.57,99.61 L57.48,99.12 L57.79,98.14 L57.56,97.17 L58.48,96.81 L58.76,96.03 L58.36,95.32 L58.07,94.65 L58.11,93.92 L57.89,93.21 L58.08,92.50 L58.29,91.31 L57.31,90.59 L57.17,89.55 L57.51,88.55 L58.32,87.75 L58.20,86.61 L57.82,85.64 L57.79,84.60 L58.15,83.76 L58.20,82.85 L58.95,82.21 L58.93,81.22 L59.76,81.43 L60.44,80.89 L61.06,80.43 L61.76,80.09 L61.20,79.16 L62.13,78.60 L63.10,78.74 L63.46,77.83 L64.09,77.66 L64.73,77.77 L65.46,77.67 L65.73,76.99 L66.19,76.04 L67.13,75.57 L68.13,75.41 L69.13,75.58 L69.21,74.99 L69.22,74.40 L69.46,73.86 L69.69,73.32 L70.96,72.51 L70.30,71.17 L71.48,70.43 L72.52,71.35 L73.46,71.01 L74.44,71.08 L75.03,70.29 L75.36,69.37 L76.38,68.89 L77.11,68.03 L77.96,67.32 L78.76,66.55 L79.83,65.96 L80.74,65.15 L81.93,64.50 L82.16,63.17 L82.21,61.76 L82.85,60.51 L84.15,59.99 L85.56,60.07 L86.57,59.46 L87.61,58.91 L88.80,58.54 L89.52,57.53 L90.06,56.60 L91.12,56.67 L92.14,57.30 L92.92,56.40 L93.65,56.06 L94.43,55.94 L94.47,55.12 L94.91,54.43 L94.64,53.62 L94.60,52.77 L95.11,51.99 L96.04,51.89 L95.94,51.12 L96.40,50.50 L96.27,49.79 L96.32,49.07 L97.25,49.18 L98.13,48.88 L98.90,48.30 L99.16,47.38 L99.93,46.79 L100.85,46.48 L101.76,46.83 L102.55,47.38 L102.95,47.03 L103.16,46.56 L103.06,45.90 L103.69,45.68 L104.33,45.86 L104.94,46.12 L104.87,46.86 L105.39,47.38 L106.19,47.78 L106.81,47.12 L107.50,46.91 L108.22,46.81 L108.93,46.34 L109.68,46.74 L110.30,46.31 L111.05,46.25 L111.79,47.12 L112.92,46.95 L114.26,47.02 L114.45,45.68 L115.03,45.12 L115.67,44.64 L115.80,43.69 L116.72,43.43 L117.03,42.75 L117.23,42.04 L117.98,41.82 L118.42,41.17 L118.83,41.67 L119.48,41.74 L120.08,41.84 L120.69,41.74 L120.93,42.94 L122.10,42.58 L122.81,43.01 L123.52,43.43 L121.88,44.19 L123.01,45.60 L124.10,46.17 L124.37,47.38 L124.45,48.51 L125.53,48.88 L125.18,49.89 L125.79,50.76 L125.54,51.29 L125.71,51.86 L126.27,52.00 L126.64,52.45 L126.98,52.96 L127.27,53.49 L127.90,53.76 L128.05,54.43 L128.43,54.84 L128.83,55.22 L129.25,55.59 L129.75,55.84 L129.76,56.86 L130.26,57.75 L131.38,57.74 L132.02,58.66 L132.93,59.00 L133.48,59.80 L134.68,60.26 L134.28,61.48 L134.85,62.11 L135.45,62.69 L136.08,63.37 L135.98,64.30 L135.63,65.60 L136.42,66.71 L137.30,67.61 L137.68,68.81 L137.71,70.14 L138.32,71.33 L138.78,72.57 L138.82,73.88 L138.52,74.87 L138.21,75.85 L138.04,76.86 L137.68,77.83 L137.67,78.56 L137.40,79.24 L138.09,78.95 L138.71,79.35 L139.25,79.81 L139.95,79.81 L140.76,79.96 L141.26,80.63 L142.09,80.93 L142.78,80.37 L143.87,80.10 L144.04,81.21 L144.42,80.53 L145.05,80.09 L145.53,79.81 L145.73,79.29 L146.20,79.60 L146.75,79.52 L147.50,78.30 L148.82,78.87 L149.00,77.79 L149.02,76.70 L149.88,76.57 L150.71,76.32 L151.35,75.73 L151.85,75.01 L152.46,74.70 L153.15,74.62 L153.11,73.90 L153.55,73.32 L153.91,73.80 L154.33,74.23 L154.70,74.73 L155.25,75.01 L155.53,75.52 L156.09,75.67 L156.26,76.18 L156.38,76.70 L157.03,77.73 L156.84,78.94 L156.54,80.09 L156.95,81.22 L158.07,81.81 L158.04,83.07 L158.12,84.20 L157.51,85.16 L158.89,85.70 L159.74,86.90 L159.50,88.29 L159.21,89.68 L159.47,90.53 L159.84,91.35 L159.35,92.42 L160.35,93.06 L160.35,93.85 L160.75,94.53 L160.84,95.36 L161.48,95.88 L161.88,96.66 L161.97,97.54 L162.43,98.38 L162.05,99.26 L162.37,100.39 L162.31,101.55 L162.86,102.60 L162.90,103.78 L162.32,105.48 L163.97,106.20 L162.47,106.71 L162.33,108.29 L161.38,108.98 L161.13,110.13 L161.48,111.17 L161.76,112.24 L162.19,113.32 L161.48,114.24 L161.33,115.25 L160.91,116.18 L161.06,117.35 L160.60,118.44 L160.85,119.61 L160.35,120.70 L160.06,121.39 L160.05,122.15 L159.80,123.06 L160.63,123.52 L161.55,123.59 L162.33,124.08 L161.44,124.93 L162.21,125.90 L163.12,125.77 L164.03,125.77 L164.25,126.48 L164.56,127.16 L165.26,127.43 L166.01,127.46 L166.50,128.34 L166.46,129.35 L167.17,130.22 L168.28,130.00 L168.64,130.81 L169.33,131.35 L169.90,131.98 L170.55,132.54 L170.89,133.60 L171.71,134.34 L171.89,135.42 L171.68,136.49 L171.65,137.21 L171.51,137.93 L171.33,138.75 L171.96,139.31 L171.90,140.45 L172.74,141.24 L172.39,142.22 L172.25,143.26 L173.05,143.98 L172.78,145.02 L172.31,146.33 L173.66,146.64 L173.64,147.86 L174.17,148.96 L174.12,150.26 L175.08,151.15 L175.67,152.37 L175.27,153.67 L176.09,154.70 L177.35,155.10 L180.57,155.91 L183.86,155.49 L187.14,155.67 L190.38,155.10 L190.88,153.88 L190.08,152.82 L189.00,151.90 L189.53,150.59 L190.50,149.96 L190.42,148.81 L189.74,148.08 L189.24,147.20 L189.13,146.35 L189.30,145.50 L189.45,144.67 L189.53,143.82 L189.24,142.77 L188.51,141.98 L188.60,140.92 L188.39,139.87 L187.40,139.44 L186.54,138.79 L186.18,137.72 L185.28,137.05 L186.42,135.71 L184.82,134.97 L183.85,134.37 L182.73,134.51 L182.03,133.94 L181.47,133.23 L181.20,132.22 L180.18,131.98 L179.47,131.36 L178.55,131.49 L177.77,131.06 L177.35,130.28 L176.07,129.95 L175.18,130.92 L174.14,130.16 L174.23,128.87 L173.76,128.55 L173.20,128.49 L173.46,127.81 L172.81,127.46 L172.39,126.94 L172.54,126.28 L172.17,125.79 L171.96,125.21 L171.61,124.31 L171.83,123.37 L171.83,122.28 L170.83,121.82 L170.93,120.52 L171.67,119.45 L170.68,118.66 L169.70,117.88 L169.00,117.71 L168.29,117.84 L167.91,117.17 L167.15,117.03 L167.02,116.50 L166.59,116.17 L166.05,116.06 L165.73,115.62 L165.38,114.38 L166.55,113.85 L166.36,112.80 L165.45,112.24 L164.90,111.65 L164.31,111.11 L165.04,110.71 L165.45,109.98 L166.62,109.23 L168.02,109.15 L167.58,107.87 L167.15,106.60 L167.70,105.53 L167.01,104.55 L167.35,103.38 L168.56,103.21 L168.27,102.10 L168.17,100.96 L168.35,99.59 L169.70,99.26 L170.40,98.73 L170.28,97.85 L170.04,97.13 L169.70,96.44 L169.71,95.80 L170.19,95.37 L169.80,94.75 L170.26,94.19 L170.84,94.16 L171.41,94.08 L171.72,93.59 L171.96,93.06 L172.54,93.18 L173.10,93.38 L173.76,93.56 L174.23,93.06 L174.72,93.70 L175.36,94.19 L175.68,94.98 L175.31,95.75 L174.93,96.48 L175.08,97.29 L175.90,97.70 L176.59,97.09 L177.35,97.30 L177.91,97.85 L178.38,98.28 L179.01,98.29 L179.65,98.61 L180.18,98.14 L180.93,97.59 L181.77,98.00 L182.18,98.72 L182.16,99.55 L182.86,99.57 L183.21,100.17 L183.59,100.67 L184.15,100.96 L183.79,101.86 L184.61,102.38 L185.48,102.41 L185.84,103.21 L186.41,103.64 L186.98,104.05 L186.14,104.76 L186.98,105.47 L187.23,106.12 L187.13,106.81 L187.49,107.40 L188.11,107.72 L188.25,108.44 L188.74,109.00 L189.46,109.06 L190.09,109.42 L191.09,109.45 L192.08,109.42 L192.56,109.66 L193.08,109.49 L193.55,109.68 L194.06,109.70 L194.67,110.29 L195.48,110.54 L195.73,111.06 L195.95,111.59 L196.46,111.86 L196.89,112.24 L196.72,113.05 L197.33,113.61 L197.35,114.34 L197.46,115.06 L196.88,116.11 L195.78,116.62 L196.68,117.38 L197.18,118.44 L196.66,118.89 L196.28,119.47 L196.47,120.14 L196.89,120.70 L197.49,120.34 L198.07,120.71 L198.65,120.44 L198.88,119.85 L199.66,119.34 L200.53,119.70 L200.22,118.69 L201.14,118.16 L201.94,117.95 L202.76,117.97 L203.20,117.26 L203.41,116.47 L204.06,115.92 L204.11,115.07 L204.89,114.67 L205.68,115.06 L206.52,115.05 L207.32,115.30 L207.73,114.49 L207.38,113.65 L207.33,112.97 L207.32,112.30 L208.07,112.29 L208.51,111.67 L209.40,111.33 L210.21,110.83 L210.80,110.39 L211.07,109.71 L211.77,109.24 L212.48,109.70 L213.08,109.35 L213.77,109.45 L214.43,109.20 L214.74,108.57 L215.01,107.86 L215.70,108.17 L216.21,107.95 L216.44,107.44 L217.03,107.11 L217.65,106.86 L218.02,106.24 L218.71,106.03 L219.76,105.26 L218.99,104.21 L219.97,104.23 L220.69,104.90 L221.12,104.31 L221.80,104.03 L221.86,103.32 L222.11,102.65 L222.09,101.93 L222.27,101.24 L222.36,100.51 L222.11,99.83 L221.85,98.85 L221.26,98.03 L221.57,96.63 L222.96,97.01 L223.92,96.37 L223.94,95.22 L223.70,94.11 L222.67,93.62 L222.78,92.85 L222.30,92.23 L222.36,91.50 L222.11,90.80 L220.96,90.25 L221.03,88.97 L221.51,87.95 L221.26,86.86 L220.96,85.98 L221.01,85.06 L220.20,84.47 L220.12,83.47 L219.58,82.99 L219.01,82.54 L218.91,81.79 L218.42,81.22 L217.80,80.65 L217.79,79.80 L217.00,79.49 L216.72,78.68 L216.11,78.09 L215.29,77.89 L215.01,77.04 L214.17,76.70 L213.18,76.64 L212.31,76.14 L211.91,75.25 L211.34,74.45 L210.49,74.16 L209.64,73.89 L209.86,72.87 L209.08,72.19 L208.88,71.24 L208.44,70.38 L207.23,70.53 L206.81,69.37 L206.01,68.84 L205.74,67.91 L205.51,66.90 L204.54,66.55 L204.22,65.59 L203.22,65.42 L203.53,64.47 L202.84,63.73 L202.58,63.21 L202.41,62.64 L202.26,62.03 L202.56,61.48 L202.83,60.66 L202.58,59.85 L203.10,59.22 L203.69,58.66 L204.50,58.41 L205.34,58.34 L204.97,57.55 L205.11,56.68 L205.75,56.36 L206.27,55.86 L206.45,55.12 L207.09,54.71 L207.32,54.04 L207.76,53.48 L208.56,53.03 L208.23,52.17 L208.91,52.20 L209.60,52.27 L210.24,51.83 L210.21,51.04 L210.74,50.65 L211.18,50.16 L211.85,50.15 L212.48,49.91 L213.01,49.12 L213.42,48.24 L214.51,49.03 L215.31,47.94 L216.03,47.75 L216.66,47.34 L217.40,47.45 L218.14,47.38 L218.85,47.49 L219.56,47.48 L220.25,47.28 L220.97,47.38 L221.68,47.76 L222.40,47.39 L223.15,47.27 L223.81,47.66 L224.72,47.95 L225.51,48.50 L226.16,49.11 L225.84,49.94 L226.02,50.66 L226.36,51.32 L226.28,51.91 L226.44,52.48 L226.54,53.13 L226.07,53.58 L226.65,53.80 L227.27,53.87 L227.52,54.43 L227.77,54.99 L228.19,54.48 L228.81,54.70 L228.75,53.97 L229.47,53.86 L229.35,53.21 L229.03,52.63 L228.97,51.98 L228.91,51.32 L229.30,50.95 L229.36,50.40 L229.47,49.81 L230.04,49.63 L230.80,49.74 L231.33,49.18 L231.84,48.72 L232.31,48.22 L233.18,48.41 L234.06,48.24 L235.13,48.66 L235.71,47.66 L236.37,46.87 L237.05,46.10 L238.08,46.09 L239.11,46.25 L239.83,45.67 L240.71,45.40 L241.70,44.97 L242.50,45.68 L243.01,44.94 L243.57,44.23 L244.56,43.82 L245.34,44.56 L245.08,43.70 L245.57,42.97 L246.04,42.05 L247.04,42.30 L247.85,42.69 L248.74,42.86 L249.33,43.08 L249.94,42.89 L250.48,43.13 L251.00,43.43 L252.10,43.00 L252.34,41.85 L253.36,41.53 L254.40,41.74 L255.00,40.89 L255.85,40.29 L256.92,40.28 L257.80,40.89 L259.04,40.75 L260.01,41.53 L261.46,41.46 L261.77,40.04 L261.49,38.60 L262.96,38.63 L264.02,38.67 L264.60,37.79 L265.76,37.76 L266.40,36.81 L267.07,36.01 L268.00,35.53 L268.72,34.83 L269.34,34.05 L270.55,33.90 L270.83,32.71 L271.08,32.10 L271.31,31.49 L271.71,30.70 L272.53,31.02 L273.37,30.46 L274.38,30.47 L275.48,30.34 L275.93,29.33 L276.23,28.39 L277.12,27.96 L278.05,27.53 L278.20,26.51 L279.14,26.30 L280.09,26.45 L280.83,25.79 L281.03,24.82 L280.97,23.92 L281.31,23.09 L280.78,22.34 L280.75,21.43 L280.67,20.66 L280.81,19.90 L281.15,18.90 L282.17,19.18 L282.90,18.42 L283.17,17.40 L283.03,15.99 L284.43,15.79 L285.05,14.74 L285.73,13.74 L286.03,12.41 L287.27,11.84 L288.07,11.07 L288.60,10.08 L289.80,9.69 L290.10,8.46 L290.31,6.80 L290.49,5.13 L291.56,3.81 L292.93,2.82 L292.79,1.87 L292.42,0.98 L293.35,0.66 L294.07,0.00 L294.97,-1.30 L294.76,-2.87 L294.97,-4.36 L295.77,-5.64 L296.63,-6.98 L296.03,-8.46 L295.26,-9.81 L295.77,-11.28 L216.16,-10.60 L136.55,-10.18 L56.96,-12.71 Z"/><path d="M56.09,114.21 L56.74,114.31 L57.04,113.72 L57.57,113.75 L58.08,113.93 L59.24,113.55 L60.20,114.31 L60.18,115.39 L60.06,116.47 L60.04,117.31 L60.57,117.96 L61.12,118.53 L61.76,119.00 L62.09,119.66 L62.43,120.32 L63.29,120.24 L63.74,120.98 L63.98,121.66 L64.48,122.17 L64.54,122.88 L64.88,123.52 L64.68,124.54 L65.47,125.20 L65.56,126.27 L66.58,126.62 L65.87,127.37 L65.69,128.38 L66.90,128.53 L67.14,129.72 L66.90,130.77 L65.85,131.01 L66.37,131.88 L66.01,132.82 L65.12,132.96 L64.30,133.31 L63.98,134.19 L63.18,134.68 L62.32,134.20 L61.47,134.69 L60.72,135.09 L60.06,135.64 L59.25,135.50 L58.43,135.62 L58.01,134.87 L57.23,134.51 L57.49,133.49 L57.44,132.44 L56.27,132.06 L56.09,130.85 L56.32,129.06 L54.52,128.98 L55.83,128.35 L55.81,126.90 L56.18,125.93 L55.42,125.23 L55.19,124.35 L55.53,123.52 L54.94,122.78 L55.54,122.05 L55.37,121.19 L56.09,120.70 L55.03,119.80 L55.03,118.40 L56.31,117.95 L56.94,116.75 L56.95,116.03 L56.46,115.50 L56.69,114.74 L56.09,114.21 Z"/><path d="M228.34,55.95 L228.95,55.92 L229.49,56.20 L230.02,55.93 L230.61,55.84 L229.97,56.80 L230.25,57.91 L231.33,57.92 L232.31,58.37 L231.71,59.18 L230.72,59.37 L230.22,60.21 L230.32,61.19 L229.87,61.97 L230.36,62.73 L229.86,63.33 L229.19,63.73 L228.58,64.31 L228.17,65.05 L227.61,65.85 L226.64,65.71 L225.88,65.27 L225.06,65.59 L223.93,65.41 L223.81,66.55 L223.32,66.11 L222.66,66.01 L222.10,65.71 L221.54,65.42 L220.54,64.90 L220.93,63.84 L220.08,63.73 L219.27,63.45 L217.90,63.39 L217.81,62.02 L218.72,61.41 L218.99,60.35 L220.41,61.51 L221.80,60.32 L222.88,59.03 L222.11,57.53 L222.82,57.87 L223.59,58.04 L224.16,57.46 L224.37,56.68 L224.71,56.05 L225.33,55.68 L225.95,55.99 L226.64,56.12 L227.48,55.92 Z"/><path d="M288.97,27.64 L289.99,27.52 L290.94,27.90 L291.88,27.44 L292.37,26.51 L293.21,26.32 L293.98,26.72 L293.65,27.75 L294.63,28.20 L294.08,29.11 L293.52,30.02 L293.64,31.08 L293.50,32.15 L293.09,33.87 L293.36,35.61 L292.37,37.04 L291.23,38.35 L290.79,40.39 L288.95,41.37 L289.13,43.31 L288.40,45.12 L287.83,45.51 L287.27,45.12 L286.49,44.39 L285.61,43.78 L286.01,42.54 L285.00,41.74 L284.62,41.20 L284.13,40.76 L284.13,40.09 L283.87,39.48 L282.26,39.27 L282.44,37.66 L283.20,36.78 L284.15,36.10 L284.85,35.23 L285.56,34.38 L286.43,33.26 L285.57,32.15 L286.42,31.12 L285.74,29.96 L286.80,29.70 L287.83,29.33 L288.01,28.75 L287.91,28.16 L288.43,27.88 Z"/><path d="M286.70,64.30 L287.66,64.66 L288.68,64.79 L289.78,64.96 L290.67,64.30 L291.96,65.02 L293.40,65.34 L294.84,66.49 L296.33,65.42 L297.18,67.27 L297.44,69.29 L298.00,71.30 L297.47,73.32 L296.50,74.60 L296.06,76.14 L294.48,77.12 L294.63,78.96 L294.07,81.08 L293.50,83.19 L292.16,85.10 L292.37,87.42 L290.82,87.79 L290.63,89.36 L290.42,90.88 L288.97,91.37 L289.18,90.36 L288.37,89.72 L287.40,89.55 L286.70,90.24 L286.42,89.65 L286.40,88.99 L286.40,88.35 L286.42,87.70 L285.63,87.43 L285.01,86.88 L284.66,86.09 L283.87,85.73 L283.27,85.03 L283.10,84.12 L283.32,83.22 L283.02,82.34 L283.98,81.48 L283.63,80.24 L282.34,79.77 L282.45,78.40 L282.58,77.50 L283.02,76.70 L283.49,76.93 L284.02,76.95 L284.51,77.10 L285.00,77.27 L285.25,76.21 L285.91,75.35 L285.80,74.27 L285.28,73.32 L285.60,72.48 L285.99,71.68 L285.19,70.95 L285.57,69.94 L285.11,69.09 L285.12,68.12 L285.63,67.34 L286.13,66.55 L286.58,65.91 L287.32,65.65 L286.61,65.15 Z"/><path d="M285.00,93.06 L288.40,93.06 L291.80,95.32 L290.10,99.83 L288.40,99.26 L286.70,95.88 Z"/><path d="M267.15,121.82 L268.11,121.77 L268.86,121.19 L269.39,120.43 L269.70,119.57 L270.74,119.27 L271.32,118.36 L271.84,117.49 L272.53,116.75 L273.44,116.27 L274.26,115.64 L274.76,114.75 L275.37,113.93 L275.53,112.94 L276.40,112.43 L276.98,111.74 L277.63,111.11 L278.31,110.53 L279.16,110.26 L279.68,109.49 L279.62,108.57 L279.22,107.68 L279.00,106.73 L279.72,106.08 L280.47,105.47 L279.90,105.19 L279.13,105.49 L278.56,106.10 L278.20,106.90 L278.48,107.72 L278.11,108.44 L277.65,109.12 L277.11,109.73 L276.50,110.26 L275.87,110.98 L275.34,111.78 L274.36,112.12 L273.95,113.08 L274.00,114.27 L273.19,115.15 L272.34,116.03 L271.12,115.90 L269.52,116.90 L270.85,118.23 L269.73,118.55 L268.57,118.72 L268.30,119.35 L268.09,119.99 L268.07,120.91 L267.15,120.98 Z"/><path d="M249.30,152.28 L250.63,150.41 L251.04,148.16 L251.15,145.88 L252.14,143.82 L252.25,142.59 L252.50,141.37 L253.74,141.44 L254.97,141.28 L255.40,140.64 L256.08,140.27 L256.81,139.97 L257.24,139.31 L258.14,139.27 L259.03,139.35 L259.21,138.47 L259.50,137.62 L259.91,136.79 L259.61,135.93 L260.46,135.81 L261.20,135.36 L261.59,134.31 L262.71,134.25 L263.10,133.40 L263.47,132.54 L263.38,131.67 L263.99,131.05 L264.62,130.58 L265.17,130.00 L265.28,130.50 L265.58,130.92 L266.06,130.58 L266.59,130.85 L267.40,131.27 L268.00,131.98 L268.57,132.47 L269.32,132.38 L269.38,133.27 L270.27,133.39 L269.86,134.01 L269.70,134.73 L270.50,134.90 L270.83,135.64 L271.35,136.08 L271.80,136.58 L272.48,136.49 L273.10,136.21 L273.36,136.67 L273.79,136.97 L273.89,137.49 L274.23,137.90 L275.08,137.26 L276.15,137.22 L276.80,138.02 L277.07,139.03 L277.91,139.24 L278.72,138.90 L278.00,140.08 L279.33,140.44 L278.67,140.97 L278.19,141.67 L277.90,142.46 L277.63,143.26 L276.75,143.29 L276.03,143.79 L274.96,143.89 L274.80,144.95 L274.57,147.00 L274.56,149.07 L275.01,152.08 L271.97,152.28 L266.26,152.15 L260.64,151.14 L255.03,152.31 Z"/><path d="M142.78,137.62 L143.09,138.32 L143.81,138.57 L144.84,138.32 L144.48,137.33 L144.81,138.20 L145.74,138.21 L146.66,138.18 L147.03,139.03 L148.10,139.62 L148.22,140.83 L148.86,139.71 L150.15,139.87 L150.93,139.28 L151.88,139.04 L153.01,138.99 L153.55,139.98 L153.99,140.68 L154.70,140.27 L155.28,140.14 L155.81,139.87 L155.31,141.00 L156.47,141.40 L157.27,141.65 L158.08,141.85 L159.27,142.28 L160.52,142.45 L160.46,143.70 L160.35,144.95 L161.22,146.21 L162.49,147.06 L163.09,148.50 L164.31,149.46 L164.62,150.48 L165.30,151.30 L166.33,151.58 L167.15,152.28 L161.71,152.11 L156.66,150.07 L151.38,150.95 L146.18,152.28 L146.21,149.73 L144.48,147.86 L144.52,145.41 L143.35,143.26 L143.15,142.09 L143.88,141.17 L143.79,139.96 L142.78,139.31 L142.56,138.46 Z"/><path d="M130.03,91.93 L130.25,92.65 L130.88,93.06 L130.38,93.67 L130.05,94.40 L130.25,95.17 L130.60,95.88 L130.73,96.64 L130.32,97.29 L130.16,97.99 L130.03,98.70 L130.39,99.29 L130.38,99.99 L130.19,100.72 L129.47,100.96 L129.12,101.63 L128.72,102.27 L128.51,103.06 L128.90,103.78 L128.05,104.06 L128.38,103.33 L128.46,102.53 L128.54,101.73 L128.33,100.96 L128.93,100.32 L128.61,99.50 L129.08,98.90 L129.18,98.14 L129.29,97.29 L129.29,96.44 L129.34,95.59 L129.47,94.75 L130.01,94.08 L129.61,93.31 L129.71,92.59 Z"/><path d="M127.49,107.72 L128.05,108.29 L127.77,109.98 L126.92,109.42 Z"/><path d="M129.18,117.03 L129.47,117.59 L128.90,117.88 Z"/><path d="M133.15,124.08 L133.72,124.64 L133.15,124.93 Z"/><path d="M134.28,128.31 L135.70,129.72 L135.13,131.13 L134.00,130.00 Z"/></clipPath>
<pattern id="mcdots" patternUnits="userSpaceOnUse" x="0.54" y="6.4" width="7.8" height="7.8"><circle cx="0" cy="0" r="0.7" fill="#000"/><circle cx="3.9" cy="0" r="0.7" fill="#000"/><circle cx="7.8" cy="0" r="0.7" fill="#000"/><circle cx="0" cy="7.8" r="0.7" fill="#000"/><circle cx="3.9" cy="7.8" r="0.7" fill="#000"/><circle cx="7.8" cy="7.8" r="0.7" fill="#000"/><circle cx="1.95" cy="3.9" r="0.7" fill="#000"/><circle cx="5.85" cy="3.9" r="0.7" fill="#000"/></pattern>
</defs>
<g transform="translate(28.0,326.7)">
<g clip-path="url(#mcframe)">
<g clip-path="url(#mcland)">
<rect x="-5" y="-5" width="293.3" height="151.0" fill="#e2f4ef"/>
<path d="M0.8,0.2L72.3,0.2L69.7,14.8L70.8,25.2L70.0,30.2L68.8,34.3L67.2,36.2L61.2,39.8L55.8,44.1L45.2,49.4L42.8,50.3L38.2,50.9L34.8,50.3L31.5,47.8L29.2,43.0L27.2,41.2L12.8,34.8L7.2,31.2L0.2,29.6L0.2,0.2ZM57.7,1.8L56.6,2.8L56.1,4.2L56.2,6.2L57.0,7.8L58.2,8.3L61.2,8.5L63.2,8.2L64.2,7.5L64.9,4.8L64.0,2.2L61.8,1.4ZM249.2,2.2L266.8,2.2L269.1,2.8L269.9,3.8L270.2,5.2L270.2,11.9L269.8,14.1L268.8,14.9L266.8,15.3L249.2,15.3L246.9,14.8L245.8,12.8L245.8,4.8L246.8,2.9ZM211.2,13.2L224.2,13.3L225.8,13.6L226.8,14.4L227.3,16.8L227.3,33.2L226.9,35.2L226.2,36.1L224.2,36.6L214.2,35.3L210.2,34.2L208.9,33.2L208.2,30.9L207.9,15.2L208.8,13.7ZM91.8,29.2L103.8,29.4L105.4,30.8L105.6,33.2L104.8,34.6L103.2,35.2L90.2,35.1L88.6,33.8L88.4,31.2L89.5,29.8ZM155.2,49.2L159.2,49.3L161.1,50.2L161.7,53.8L160.8,56.1L159.2,56.7L155.2,56.8L153.2,56.4L152.4,55.8L151.8,53.8L152.1,50.8L153.2,49.6ZM19.2,79.2L23.8,79.1L38.8,80.4L53.8,87.6L56.2,89.4L57.3,91.8L58.3,97.8L58.9,110.2L59.8,111.2L63.8,112.1L65.4,113.2L70.3,122.8L70.4,125.2L69.1,133.8L67.6,136.8L65.8,137.6L61.2,137.7L58.2,137.5L56.8,136.7L55.3,134.2L53.2,125.8L51.8,123.7L34.8,123.4L33.2,123.1L31.8,122.0L22.2,103.2L17.2,87.2L16.5,84.2L16.6,82.2L17.7,80.2Z" fill="#f2f2de" fill-rule="evenodd"/>
<path d="M43.2,100.7L46.2,101.2L51.8,104.2L53.3,106.2L55.9,112.2L58.8,113.3L62.8,113.9L64.8,115.6L67.8,121.3L68.6,124.2L67.3,133.2L66.1,135.2L64.2,135.8L60.2,135.8L58.8,135.5L57.7,134.8L56.7,132.2L53.2,117.7L52.2,117.9L49.4,120.3L44.8,121.1L40.8,120.8L38.4,118.8L35.3,112.8L36.0,105.2L36.7,103.8L37.8,102.8Z" fill="#eddcaa" fill-rule="evenodd"/>
<path d="M43.8,109.6L45.2,109.4L46.8,109.8L49.0,112.8L49.0,114.2L48.2,116.2L47.2,117.5L45.8,118.3L42.7,118.2L41.3,116.2L41.0,111.8L41.8,110.6ZM61.8,120.1L63.2,120.0L64.8,120.9L66.3,124.8L65.8,129.4L64.8,131.4L63.2,132.3L61.2,132.0L59.7,130.9L58.8,129.2L58.3,127.2L58.1,124.2L58.7,122.2L59.8,121.1Z" fill="#d9b86d" fill-rule="evenodd"/>
<path d="M79.8,9.6L82.2,9.4L84.4,10.2L85.0,12.2L84.2,14.2L83.2,14.8L81.8,14.9L79.8,14.3L78.3,13.2L77.7,12.2L77.8,11.0ZM150.8,13.2L157.2,13.0L158.3,13.2L158.9,14.2L158.2,15.6L157.1,16.8L150.8,19.7L148.2,20.1L146.3,19.2L145.0,17.8L145.2,16.8L147.7,14.8ZM121.8,20.7L126.8,20.4L133.2,21.2L136.6,23.2L137.8,25.2L136.9,26.8L132.9,29.8L124.8,33.4L121.2,38.0L119.3,38.9L117.3,37.8L114.9,34.2L115.5,24.2L115.9,22.8L116.8,22.0ZM6.8,44.7L8.8,44.8L10.8,46.0L11.2,47.8L10.2,49.3L8.8,49.9L6.8,49.9L4.5,48.8L4.0,47.2L4.1,46.2L5.1,45.2ZM18.8,51.7L20.2,51.5L20.8,51.8L21.1,52.8L20.2,53.5L19.2,53.5L18.4,52.8ZM187.8,53.7L190.2,53.3L204.2,53.4L206.2,53.8L207.9,55.2L212.8,66.2L217.2,73.9L220.9,78.2L222.4,82.2L222.9,85.2L223.3,100.8L222.9,103.2L221.8,104.6L219.8,105.2L214.8,105.3L212.8,105.1L211.2,104.2L210.3,102.2L208.2,89.9L206.6,82.8L205.6,80.2L203.2,78.2L188.8,70.3L186.5,68.2L185.9,65.8L185.9,56.8L186.5,54.8ZM221.2,56.2L230.2,56.0L232.5,56.8L233.2,57.8L233.5,59.8L233.4,64.8L232.8,66.5L231.5,67.2L229.2,67.5L222.2,67.5L220.0,66.8L219.1,64.8L219.1,58.8L219.8,57.0ZM49.2,56.5L49.8,56.3L50.7,56.8L51.4,58.2L52.6,63.8L52.4,64.8L51.8,65.2L50.8,64.7L50.1,63.2L48.9,58.2ZM52.2,71.2L62.8,71.1L65.2,72.4L66.1,74.2L65.4,75.2L63.1,76.8L59.8,77.6L48.8,77.4L47.1,76.8L45.5,75.2L45.2,74.2L45.9,73.2ZM257.8,128.1L283.8,127.8L283.8,141.8L256.4,141.8L255.8,138.2L255.9,130.8L256.3,129.2Z" fill="#bde8dc" fill-rule="evenodd"/>
<path d="M193.8,56.2L195.8,56.1L201.2,56.9L204.8,58.0L208.2,62.1L216.2,75.2L219.8,79.1L221.2,84.2L221.2,86.2L220.3,89.2L221.4,92.2L221.6,94.8L221.5,101.2L220.2,103.2L215.2,103.6L212.6,102.8L211.9,100.8L211.0,93.2L211.9,87.8L210.0,81.8L205.8,76.8L191.2,65.8L190.5,62.8L190.6,58.2L191.4,57.2ZM263.8,132.2L268.8,131.8L273.8,131.8L275.8,132.2L276.8,134.2L276.4,138.8L275.2,139.7L273.8,140.0L264.2,139.7L263.1,138.8L262.7,137.2L262.8,133.8Z" fill="#86d0bb" fill-rule="evenodd"/>
<path d="M199.2,60.2L200.8,60.1L202.8,60.8L206.1,62.8L207.8,64.4L211.8,70.2L214.7,75.8L218.8,79.8L219.9,83.8L219.8,85.3L219.3,86.4L217.2,86.7L215.4,85.8L212.5,79.2L208.2,76.3L200.1,67.8L197.2,62.2L197.8,60.8Z" fill="#52a58f" fill-rule="evenodd"/>
<path d="M202.8,64.0L204.8,64.7L206.2,66.2L210.2,72.0L210.8,73.2L210.8,74.3L209.2,73.6L203.8,67.7L202.4,65.2Z" fill="#2f7e6a" fill-rule="evenodd"/>
<polygon points="34.0,0.3 39.0,0.3 39.0,3.3 34.0,3.3" fill="url(#mcdots)"/>
<polygon points="47.8,17.3 52.3,17.3 52.3,21.7 47.8,21.7" fill="url(#mcdots)"/>
<polygon points="64.3,48.6 79.2,48.6 79.2,52.3 64.3,52.3" fill="url(#mcdots)"/>
<polygon points="46.3,55.3 55.3,55.3 55.3,68.1 46.3,68.1" fill="url(#mcdots)"/>
<polygon points="44.8,74.3 68.8,74.3 68.8,79.3 44.8,79.3" fill="url(#mcdots)"/>
<polygon points="38.9,106.9 52.3,106.9 52.3,118.9 38.9,118.9" fill="url(#mcdots)"/>
<polygon points="58.3,121.3 65.8,121.3 65.8,132.3 58.3,132.3" fill="url(#mcdots)"/>
<polygon points="117.0,1.8 136.9,1.8 136.9,9.3 117.0,9.3" fill="url(#mcdots)"/>
<polygon points="166.8,1.8 176.7,1.8 176.7,9.3 166.8,9.3" fill="url(#mcdots)"/>
<polygon points="114.5,21.7 139.4,21.7 139.4,44.1 114.5,44.1" fill="url(#mcdots)"/>
<polygon points="159.3,13.0 194.2,13.0 194.2,25.3 184.0,34.3 159.3,34.3" fill="url(#mcdots)"/>
<polygon points="156.8,34.2 174.2,34.2 174.2,41.6 156.8,41.6" fill="url(#mcdots)"/>
<polygon points="176.7,44.1 194.2,44.1 194.2,56.6 176.7,56.6" fill="url(#mcdots)"/>
<polygon points="171.7,66.5 191.7,56.6 204.1,56.6 216.6,73.3 216.6,86.4 171.7,86.4" fill="url(#mcdots)"/>
<polygon points="191.7,97.6 199.1,97.6 199.1,102.6 191.7,102.6" fill="url(#mcdots)"/>
<polygon points="211.6,96.3 221.5,96.3 221.5,103.9 211.6,103.9" fill="url(#mcdots)"/>
<polygon points="262.0,131.3 277.0,131.3 280.0,140.3 260.0,140.3" fill="url(#mcdots)"/>
</g>
<path d="M-22.66,-11.28 L-23.75,-1.75 L-21.65,7.61 L-22.69,17.03 L-22.66,26.51 L-21.64,26.40 L-20.68,26.76 L-19.58,27.51 L-18.70,26.51 L-17.92,27.23 L-18.33,28.21 L-17.40,28.46 L-17.00,29.33 L-16.41,29.69 L-16.35,30.38 L-15.98,30.96 L-15.30,31.02 L-14.98,31.61 L-15.10,32.27 L-15.64,32.66 L-15.86,33.28 L-15.56,34.00 L-15.13,34.66 L-14.32,34.60 L-13.60,34.97 L-12.86,35.54 L-12.07,36.06 L-11.13,35.57 L-10.20,36.10 L-9.79,36.60 L-9.15,36.73 L-8.56,36.42 L-7.93,36.66 L-7.58,37.12 L-7.64,37.69 L-7.31,38.14 L-6.80,38.35 L-6.28,38.97 L-6.08,39.75 L-5.42,40.52 L-4.53,40.04 L-4.24,41.16 L-3.12,41.44 L-2.93,40.22 L-1.70,40.04 L-1.00,39.82 L-0.32,39.52 L0.42,39.59 L1.13,39.76 L1.84,40.06 L2.55,40.33 L1.89,40.06 L1.58,40.70 L1.77,41.20 L1.70,41.74 L1.42,42.41 L0.82,42.83 L0.11,42.77 L-0.57,42.58 L-1.14,42.63 L-1.72,42.56 L-2.21,42.94 L-2.83,42.86 L-3.43,42.91 L-4.01,43.07 L-4.61,42.96 L-5.10,42.58 L-5.52,43.15 L-5.95,43.71 L-5.49,44.10 L-5.42,44.70 L-5.20,45.34 L-4.53,45.40 L-3.55,45.47 L-2.56,45.43 L-1.95,46.33 L-2.27,47.38 L-1.33,47.13 L-0.70,47.87 L-0.23,48.55 L0.00,49.35 L0.87,48.96 L1.66,49.50 L2.41,50.09 L2.27,51.04 L3.04,51.70 L4.03,51.52 L4.88,51.86 L5.67,52.34 L6.31,51.63 L7.21,51.32 L8.14,51.38 L9.07,51.32 L10.13,50.95 L11.23,51.14 L11.59,50.11 L11.90,49.07 L12.40,48.37 L11.85,47.72 L12.14,47.12 L12.47,46.53 L12.96,46.03 L13.63,45.86 L13.14,45.29 L13.32,44.56 L13.95,44.01 L14.73,43.71 L14.62,44.38 L14.86,45.01 L15.13,45.61 L15.30,46.25 L15.19,46.81 L15.28,47.38 L15.70,47.93 L15.30,48.50 L15.58,49.35 L15.86,50.20 L16.50,50.92 L16.85,51.82 L16.47,52.69 L16.15,53.58 L15.75,54.21 L15.66,54.95 L15.54,55.67 L15.58,56.40 L15.63,57.12 L15.48,57.83 L15.29,58.63 L15.86,59.22 L15.88,59.93 L15.86,60.64 L16.65,61.21 L16.15,62.04 L16.60,62.79 L16.19,63.57 L16.61,64.20 L17.00,64.86 L17.34,65.55 L17.79,66.17 L18.13,66.99 L17.56,67.68 L18.40,68.27 L18.35,69.30 L18.39,70.21 L18.70,71.06 L19.00,71.91 L19.47,72.67 L19.23,73.54 L19.26,74.45 L20.03,75.53 L21.27,76.01 L20.81,77.19 L20.40,78.40 L20.76,79.10 L20.59,79.87 L20.55,80.73 L21.25,81.22 L21.31,81.88 L21.85,82.26 L21.37,82.86 L21.81,83.47 L22.07,84.10 L22.56,84.58 L22.86,85.17 L23.23,85.73 L22.77,86.74 L22.54,87.84 L23.54,88.36 L24.65,88.55 L25.71,89.37 L25.16,90.59 L25.65,91.52 L26.06,92.50 L26.33,93.19 L26.42,93.93 L26.53,94.67 L26.91,95.32 L26.80,96.30 L27.48,97.01 L27.30,97.90 L27.42,98.81 L28.21,99.24 L28.90,99.83 L28.93,100.89 L28.62,101.92 L29.81,101.73 L30.60,102.65 L31.08,103.20 L31.71,103.58 L32.12,104.19 L32.30,104.90 L32.15,105.66 L31.83,106.37 L32.29,107.10 L33.15,107.16 L33.13,108.01 L33.79,108.54 L34.12,109.23 L34.28,109.98 L34.47,111.14 L35.64,111.24 L35.21,112.12 L35.41,113.08 L35.91,113.80 L36.47,114.46 L36.69,115.36 L36.26,116.18 L36.52,117.05 L36.14,117.87 L36.52,118.71 L37.40,119.00 L38.32,119.47 L38.01,120.46 L38.39,121.39 L39.38,121.26 L39.42,122.04 L39.89,122.67 L40.65,122.70 L41.36,122.95 L42.21,123.00 L42.78,123.63 L43.50,123.57 L43.68,122.86 L44.24,122.68 L44.76,122.39 L44.33,121.56 L44.80,120.75 L45.35,120.09 L46.18,119.85 L45.77,119.22 L46.01,118.51 L46.56,117.98 L47.31,118.16 L48.33,118.53 L48.86,117.58 L49.65,117.33 L50.43,117.03 L50.92,117.21 L51.38,117.48 L51.87,117.24 L52.13,116.75 L52.07,116.18 L51.76,115.70 L51.18,115.69 L50.71,115.34 L50.44,114.58 L50.84,113.88 L50.86,112.89 L51.84,112.80 L52.62,112.91 L53.27,112.46 L53.45,111.75 L53.83,111.11 L54.37,111.17 L54.82,110.86 L55.32,110.97 L55.81,111.11 L55.46,110.34 L56.00,109.70 L55.69,109.02 L55.81,108.29 L56.74,107.46 L56.39,106.26 L55.67,105.43 L55.53,104.34 L55.83,103.61 L55.84,102.83 L55.55,101.73 L56.66,101.52 L56.25,100.58 L56.57,99.61 L57.48,99.12 L57.79,98.14 L57.56,97.17 L58.48,96.81 L58.76,96.03 L58.36,95.32 L58.07,94.65 L58.11,93.92 L57.89,93.21 L58.08,92.50 L58.29,91.31 L57.31,90.59 L57.17,89.55 L57.51,88.55 L58.32,87.75 L58.20,86.61 L57.82,85.64 L57.79,84.60 L58.15,83.76 L58.20,82.85 L58.95,82.21 L58.93,81.22 L59.76,81.43 L60.44,80.89 L61.06,80.43 L61.76,80.09 L61.20,79.16 L62.13,78.60 L63.10,78.74 L63.46,77.83 L64.09,77.66 L64.73,77.77 L65.46,77.67 L65.73,76.99 L66.19,76.04 L67.13,75.57 L68.13,75.41 L69.13,75.58 L69.21,74.99 L69.22,74.40 L69.46,73.86 L69.69,73.32 L70.96,72.51 L70.30,71.17 L71.48,70.43 L72.52,71.35 L73.46,71.01 L74.44,71.08 L75.03,70.29 L75.36,69.37 L76.38,68.89 L77.11,68.03 L77.96,67.32 L78.76,66.55 L79.83,65.96 L80.74,65.15 L81.93,64.50 L82.16,63.17 L82.21,61.76 L82.85,60.51 L84.15,59.99 L85.56,60.07 L86.57,59.46 L87.61,58.91 L88.80,58.54 L89.52,57.53 L90.06,56.60 L91.12,56.67 L92.14,57.30 L92.92,56.40 L93.65,56.06 L94.43,55.94 L94.47,55.12 L94.91,54.43 L94.64,53.62 L94.60,52.77 L95.11,51.99 L96.04,51.89 L95.94,51.12 L96.40,50.50 L96.27,49.79 L96.32,49.07 L97.25,49.18 L98.13,48.88 L98.90,48.30 L99.16,47.38 L99.93,46.79 L100.85,46.48 L101.76,46.83 L102.55,47.38 L102.95,47.03 L103.16,46.56 L103.06,45.90 L103.69,45.68 L104.33,45.86 L104.94,46.12 L104.87,46.86 L105.39,47.38 L106.19,47.78 L106.81,47.12 L107.50,46.91 L108.22,46.81 L108.93,46.34 L109.68,46.74 L110.30,46.31 L111.05,46.25 L111.79,47.12 L112.92,46.95 L114.26,47.02 L114.45,45.68 L115.03,45.12 L115.67,44.64 L115.80,43.69 L116.72,43.43 L117.03,42.75 L117.23,42.04 L117.98,41.82 L118.42,41.17 L118.83,41.67 L119.48,41.74 L120.08,41.84 L120.69,41.74 L120.93,42.94 L122.10,42.58 L122.81,43.01 L123.52,43.43 L121.88,44.19 L123.01,45.60 L124.10,46.17 L124.37,47.38 L124.45,48.51 L125.53,48.88 L125.18,49.89 L125.79,50.76 L125.54,51.29 L125.71,51.86 L126.27,52.00 L126.64,52.45 L126.98,52.96 L127.27,53.49 L127.90,53.76 L128.05,54.43 L128.43,54.84 L128.83,55.22 L129.25,55.59 L129.75,55.84 L129.76,56.86 L130.26,57.75 L131.38,57.74 L132.02,58.66 L132.93,59.00 L133.48,59.80 L134.68,60.26 L134.28,61.48 L134.85,62.11 L135.45,62.69 L136.08,63.37 L135.98,64.30 L135.63,65.60 L136.42,66.71 L137.30,67.61 L137.68,68.81 L137.71,70.14 L138.32,71.33 L138.78,72.57 L138.82,73.88 L138.52,74.87 L138.21,75.85 L138.04,76.86 L137.68,77.83 L137.67,78.56 L137.40,79.24 L138.09,78.95 L138.71,79.35 L139.25,79.81 L139.95,79.81 L140.76,79.96 L141.26,80.63 L142.09,80.93 L142.78,80.37 L143.87,80.10 L144.04,81.21 L144.42,80.53 L145.05,80.09 L145.53,79.81 L145.73,79.29 L146.20,79.60 L146.75,79.52 L147.50,78.30 L148.82,78.87 L149.00,77.79 L149.02,76.70 L149.88,76.57 L150.71,76.32 L151.35,75.73 L151.85,75.01 L152.46,74.70 L153.15,74.62 L153.11,73.90 L153.55,73.32 L153.91,73.80 L154.33,74.23 L154.70,74.73 L155.25,75.01 L155.53,75.52 L156.09,75.67 L156.26,76.18 L156.38,76.70 L157.03,77.73 L156.84,78.94 L156.54,80.09 L156.95,81.22 L158.07,81.81 L158.04,83.07 L158.12,84.20 L157.51,85.16 L158.89,85.70 L159.74,86.90 L159.50,88.29 L159.21,89.68 L159.47,90.53 L159.84,91.35 L159.35,92.42 L160.35,93.06 L160.35,93.85 L160.75,94.53 L160.84,95.36 L161.48,95.88 L161.88,96.66 L161.97,97.54 L162.43,98.38 L162.05,99.26 L162.37,100.39 L162.31,101.55 L162.86,102.60 L162.90,103.78 L162.32,105.48 L163.97,106.20 L162.47,106.71 L162.33,108.29 L161.38,108.98 L161.13,110.13 L161.48,111.17 L161.76,112.24 L162.19,113.32 L161.48,114.24 L161.33,115.25 L160.91,116.18 L161.06,117.35 L160.60,118.44 L160.85,119.61 L160.35,120.70 L160.06,121.39 L160.05,122.15 L159.80,123.06 L160.63,123.52 L161.55,123.59 L162.33,124.08 L161.44,124.93 L162.21,125.90 L163.12,125.77 L164.03,125.77 L164.25,126.48 L164.56,127.16 L165.26,127.43 L166.01,127.46 L166.50,128.34 L166.46,129.35 L167.17,130.22 L168.28,130.00 L168.64,130.81 L169.33,131.35 L169.90,131.98 L170.55,132.54 L170.89,133.60 L171.71,134.34 L171.89,135.42 L171.68,136.49 L171.65,137.21 L171.51,137.93 L171.33,138.75 L171.96,139.31 L171.90,140.45 L172.74,141.24 L172.39,142.22 L172.25,143.26 L173.05,143.98 L172.78,145.02 L172.31,146.33 L173.66,146.64 L173.64,147.86 L174.17,148.96 L174.12,150.26 L175.08,151.15 L175.67,152.37 L175.27,153.67 L176.09,154.70 L177.35,155.10 L180.57,155.91 L183.86,155.49 L187.14,155.67 L190.38,155.10 L190.88,153.88 L190.08,152.82 L189.00,151.90 L189.53,150.59 L190.50,149.96 L190.42,148.81 L189.74,148.08 L189.24,147.20 L189.13,146.35 L189.30,145.50 L189.45,144.67 L189.53,143.82 L189.24,142.77 L188.51,141.98 L188.60,140.92 L188.39,139.87 L187.40,139.44 L186.54,138.79 L186.18,137.72 L185.28,137.05 L186.42,135.71 L184.82,134.97 L183.85,134.37 L182.73,134.51 L182.03,133.94 L181.47,133.23 L181.20,132.22 L180.18,131.98 L179.47,131.36 L178.55,131.49 L177.77,131.06 L177.35,130.28 L176.07,129.95 L175.18,130.92 L174.14,130.16 L174.23,128.87 L173.76,128.55 L173.20,128.49 L173.46,127.81 L172.81,127.46 L172.39,126.94 L172.54,126.28 L172.17,125.79 L171.96,125.21 L171.61,124.31 L171.83,123.37 L171.83,122.28 L170.83,121.82 L170.93,120.52 L171.67,119.45 L170.68,118.66 L169.70,117.88 L169.00,117.71 L168.29,117.84 L167.91,117.17 L167.15,117.03 L167.02,116.50 L166.59,116.17 L166.05,116.06 L165.73,115.62 L165.38,114.38 L166.55,113.85 L166.36,112.80 L165.45,112.24 L164.90,111.65 L164.31,111.11 L165.04,110.71 L165.45,109.98 L166.62,109.23 L168.02,109.15 L167.58,107.87 L167.15,106.60 L167.70,105.53 L167.01,104.55 L167.35,103.38 L168.56,103.21 L168.27,102.10 L168.17,100.96 L168.35,99.59 L169.70,99.26 L170.40,98.73 L170.28,97.85 L170.04,97.13 L169.70,96.44 L169.71,95.80 L170.19,95.37 L169.80,94.75 L170.26,94.19 L170.84,94.16 L171.41,94.08 L171.72,93.59 L171.96,93.06 L172.54,93.18 L173.10,93.38 L173.76,93.56 L174.23,93.06 L174.72,93.70 L175.36,94.19 L175.68,94.98 L175.31,95.75 L174.93,96.48 L175.08,97.29 L175.90,97.70 L176.59,97.09 L177.35,97.30 L177.91,97.85 L178.38,98.28 L179.01,98.29 L179.65,98.61 L180.18,98.14 L180.93,97.59 L181.77,98.00 L182.18,98.72 L182.16,99.55 L182.86,99.57 L183.21,100.17 L183.59,100.67 L184.15,100.96 L183.79,101.86 L184.61,102.38 L185.48,102.41 L185.84,103.21 L186.41,103.64 L186.98,104.05 L186.14,104.76 L186.98,105.47 L187.23,106.12 L187.13,106.81 L187.49,107.40 L188.11,107.72 L188.25,108.44 L188.74,109.00 L189.46,109.06 L190.09,109.42 L191.09,109.45 L192.08,109.42 L192.56,109.66 L193.08,109.49 L193.55,109.68 L194.06,109.70 L194.67,110.29 L195.48,110.54 L195.73,111.06 L195.95,111.59 L196.46,111.86 L196.89,112.24 L196.72,113.05 L197.33,113.61 L197.35,114.34 L197.46,115.06 L196.88,116.11 L195.78,116.62 L196.68,117.38 L197.18,118.44 L196.66,118.89 L196.28,119.47 L196.47,120.14 L196.89,120.70 L197.49,120.34 L198.07,120.71 L198.65,120.44 L198.88,119.85 L199.66,119.34 L200.53,119.70 L200.22,118.69 L201.14,118.16 L201.94,117.95 L202.76,117.97 L203.20,117.26 L203.41,116.47 L204.06,115.92 L204.11,115.07 L204.89,114.67 L205.68,115.06 L206.52,115.05 L207.32,115.30 L207.73,114.49 L207.38,113.65 L207.33,112.97 L207.32,112.30 L208.07,112.29 L208.51,111.67 L209.40,111.33 L210.21,110.83 L210.80,110.39 L211.07,109.71 L211.77,109.24 L212.48,109.70 L213.08,109.35 L213.77,109.45 L214.43,109.20 L214.74,108.57 L215.01,107.86 L215.70,108.17 L216.21,107.95 L216.44,107.44 L217.03,107.11 L217.65,106.86 L218.02,106.24 L218.71,106.03 L219.76,105.26 L218.99,104.21 L219.97,104.23 L220.69,104.90 L221.12,104.31 L221.80,104.03 L221.86,103.32 L222.11,102.65 L222.09,101.93 L222.27,101.24 L222.36,100.51 L222.11,99.83 L221.85,98.85 L221.26,98.03 L221.57,96.63 L222.96,97.01 L223.92,96.37 L223.94,95.22 L223.70,94.11 L222.67,93.62 L222.78,92.85 L222.30,92.23 L222.36,91.50 L222.11,90.80 L220.96,90.25 L221.03,88.97 L221.51,87.95 L221.26,86.86 L220.96,85.98 L221.01,85.06 L220.20,84.47 L220.12,83.47 L219.58,82.99 L219.01,82.54 L218.91,81.79 L218.42,81.22 L217.80,80.65 L217.79,79.80 L217.00,79.49 L216.72,78.68 L216.11,78.09 L215.29,77.89 L215.01,77.04 L214.17,76.70 L213.18,76.64 L212.31,76.14 L211.91,75.25 L211.34,74.45 L210.49,74.16 L209.64,73.89 L209.86,72.87 L209.08,72.19 L208.88,71.24 L208.44,70.38 L207.23,70.53 L206.81,69.37 L206.01,68.84 L205.74,67.91 L205.51,66.90 L204.54,66.55 L204.22,65.59 L203.22,65.42 L203.53,64.47 L202.84,63.73 L202.58,63.21 L202.41,62.64 L202.26,62.03 L202.56,61.48 L202.83,60.66 L202.58,59.85 L203.10,59.22 L203.69,58.66 L204.50,58.41 L205.34,58.34 L204.97,57.55 L205.11,56.68 L205.75,56.36 L206.27,55.86 L206.45,55.12 L207.09,54.71 L207.32,54.04 L207.76,53.48 L208.56,53.03 L208.23,52.17 L208.91,52.20 L209.60,52.27 L210.24,51.83 L210.21,51.04 L210.74,50.65 L211.18,50.16 L211.85,50.15 L212.48,49.91 L213.01,49.12 L213.42,48.24 L214.51,49.03 L215.31,47.94 L216.03,47.75 L216.66,47.34 L217.40,47.45 L218.14,47.38 L218.85,47.49 L219.56,47.48 L220.25,47.28 L220.97,47.38 L221.68,47.76 L222.40,47.39 L223.15,47.27 L223.81,47.66 L224.72,47.95 L225.51,48.50 L226.16,49.11 L225.84,49.94 L226.02,50.66 L226.36,51.32 L226.28,51.91 L226.44,52.48 L226.54,53.13 L226.07,53.58 L226.65,53.80 L227.27,53.87 L227.52,54.43 L227.77,54.99 L228.19,54.48 L228.81,54.70 L228.75,53.97 L229.47,53.86 L229.35,53.21 L229.03,52.63 L228.97,51.98 L228.91,51.32 L229.30,50.95 L229.36,50.40 L229.47,49.81 L230.04,49.63 L230.80,49.74 L231.33,49.18 L231.84,48.72 L232.31,48.22 L233.18,48.41 L234.06,48.24 L235.13,48.66 L235.71,47.66 L236.37,46.87 L237.05,46.10 L238.08,46.09 L239.11,46.25 L239.83,45.67 L240.71,45.40 L241.70,44.97 L242.50,45.68 L243.01,44.94 L243.57,44.23 L244.56,43.82 L245.34,44.56 L245.08,43.70 L245.57,42.97 L246.04,42.05 L247.04,42.30 L247.85,42.69 L248.74,42.86 L249.33,43.08 L249.94,42.89 L250.48,43.13 L251.00,43.43 L252.10,43.00 L252.34,41.85 L253.36,41.53 L254.40,41.74 L255.00,40.89 L255.85,40.29 L256.92,40.28 L257.80,40.89 L259.04,40.75 L260.01,41.53 L261.46,41.46 L261.77,40.04 L261.49,38.60 L262.96,38.63 L264.02,38.67 L264.60,37.79 L265.76,37.76 L266.40,36.81 L267.07,36.01 L268.00,35.53 L268.72,34.83 L269.34,34.05 L270.55,33.90 L270.83,32.71 L271.08,32.10 L271.31,31.49 L271.71,30.70 L272.53,31.02 L273.37,30.46 L274.38,30.47 L275.48,30.34 L275.93,29.33 L276.23,28.39 L277.12,27.96 L278.05,27.53 L278.20,26.51 L279.14,26.30 L280.09,26.45 L280.83,25.79 L281.03,24.82 L280.97,23.92 L281.31,23.09 L280.78,22.34 L280.75,21.43 L280.67,20.66 L280.81,19.90 L281.15,18.90 L282.17,19.18 L282.90,18.42 L283.17,17.40 L283.03,15.99 L284.43,15.79 L285.05,14.74 L285.73,13.74 L286.03,12.41 L287.27,11.84 L288.07,11.07 L288.60,10.08 L289.80,9.69 L290.10,8.46 L290.31,6.80 L290.49,5.13 L291.56,3.81 L292.93,2.82 L292.79,1.87 L292.42,0.98 L293.35,0.66 L294.07,0.00 L294.97,-1.30 L294.76,-2.87 L294.97,-4.36 L295.77,-5.64 L296.63,-6.98 L296.03,-8.46 L295.26,-9.81 L295.77,-11.28 L216.16,-10.60 L136.55,-10.18 L56.96,-12.71 Z" fill="none" stroke="#000" stroke-width="0.8" stroke-linejoin="round"/>
<path d="M56.09,114.21 L56.74,114.31 L57.04,113.72 L57.57,113.75 L58.08,113.93 L59.24,113.55 L60.20,114.31 L60.18,115.39 L60.06,116.47 L60.04,117.31 L60.57,117.96 L61.12,118.53 L61.76,119.00 L62.09,119.66 L62.43,120.32 L63.29,120.24 L63.74,120.98 L63.98,121.66 L64.48,122.17 L64.54,122.88 L64.88,123.52 L64.68,124.54 L65.47,125.20 L65.56,126.27 L66.58,126.62 L65.87,127.37 L65.69,128.38 L66.90,128.53 L67.14,129.72 L66.90,130.77 L65.85,131.01 L66.37,131.88 L66.01,132.82 L65.12,132.96 L64.30,133.31 L63.98,134.19 L63.18,134.68 L62.32,134.20 L61.47,134.69 L60.72,135.09 L60.06,135.64 L59.25,135.50 L58.43,135.62 L58.01,134.87 L57.23,134.51 L57.49,133.49 L57.44,132.44 L56.27,132.06 L56.09,130.85 L56.32,129.06 L54.52,128.98 L55.83,128.35 L55.81,126.90 L56.18,125.93 L55.42,125.23 L55.19,124.35 L55.53,123.52 L54.94,122.78 L55.54,122.05 L55.37,121.19 L56.09,120.70 L55.03,119.80 L55.03,118.40 L56.31,117.95 L56.94,116.75 L56.95,116.03 L56.46,115.50 L56.69,114.74 L56.09,114.21 Z" fill="none" stroke="#000" stroke-width="0.8" stroke-linejoin="round"/>
<path d="M228.34,55.95 L228.95,55.92 L229.49,56.20 L230.02,55.93 L230.61,55.84 L229.97,56.80 L230.25,57.91 L231.33,57.92 L232.31,58.37 L231.71,59.18 L230.72,59.37 L230.22,60.21 L230.32,61.19 L229.87,61.97 L230.36,62.73 L229.86,63.33 L229.19,63.73 L228.58,64.31 L228.17,65.05 L227.61,65.85 L226.64,65.71 L225.88,65.27 L225.06,65.59 L223.93,65.41 L223.81,66.55 L223.32,66.11 L222.66,66.01 L222.10,65.71 L221.54,65.42 L220.54,64.90 L220.93,63.84 L220.08,63.73 L219.27,63.45 L217.90,63.39 L217.81,62.02 L218.72,61.41 L218.99,60.35 L220.41,61.51 L221.80,60.32 L222.88,59.03 L222.11,57.53 L222.82,57.87 L223.59,58.04 L224.16,57.46 L224.37,56.68 L224.71,56.05 L225.33,55.68 L225.95,55.99 L226.64,56.12 L227.48,55.92 Z" fill="none" stroke="#000" stroke-width="0.8" stroke-linejoin="round"/>
<path d="M288.97,27.64 L289.99,27.52 L290.94,27.90 L291.88,27.44 L292.37,26.51 L293.21,26.32 L293.98,26.72 L293.65,27.75 L294.63,28.20 L294.08,29.11 L293.52,30.02 L293.64,31.08 L293.50,32.15 L293.09,33.87 L293.36,35.61 L292.37,37.04 L291.23,38.35 L290.79,40.39 L288.95,41.37 L289.13,43.31 L288.40,45.12 L287.83,45.51 L287.27,45.12 L286.49,44.39 L285.61,43.78 L286.01,42.54 L285.00,41.74 L284.62,41.20 L284.13,40.76 L284.13,40.09 L283.87,39.48 L282.26,39.27 L282.44,37.66 L283.20,36.78 L284.15,36.10 L284.85,35.23 L285.56,34.38 L286.43,33.26 L285.57,32.15 L286.42,31.12 L285.74,29.96 L286.80,29.70 L287.83,29.33 L288.01,28.75 L287.91,28.16 L288.43,27.88 Z" fill="none" stroke="#000" stroke-width="0.8" stroke-linejoin="round"/>
<path d="M286.70,64.30 L287.66,64.66 L288.68,64.79 L289.78,64.96 L290.67,64.30 L291.96,65.02 L293.40,65.34 L294.84,66.49 L296.33,65.42 L297.18,67.27 L297.44,69.29 L298.00,71.30 L297.47,73.32 L296.50,74.60 L296.06,76.14 L294.48,77.12 L294.63,78.96 L294.07,81.08 L293.50,83.19 L292.16,85.10 L292.37,87.42 L290.82,87.79 L290.63,89.36 L290.42,90.88 L288.97,91.37 L289.18,90.36 L288.37,89.72 L287.40,89.55 L286.70,90.24 L286.42,89.65 L286.40,88.99 L286.40,88.35 L286.42,87.70 L285.63,87.43 L285.01,86.88 L284.66,86.09 L283.87,85.73 L283.27,85.03 L283.10,84.12 L283.32,83.22 L283.02,82.34 L283.98,81.48 L283.63,80.24 L282.34,79.77 L282.45,78.40 L282.58,77.50 L283.02,76.70 L283.49,76.93 L284.02,76.95 L284.51,77.10 L285.00,77.27 L285.25,76.21 L285.91,75.35 L285.80,74.27 L285.28,73.32 L285.60,72.48 L285.99,71.68 L285.19,70.95 L285.57,69.94 L285.11,69.09 L285.12,68.12 L285.63,67.34 L286.13,66.55 L286.58,65.91 L287.32,65.65 L286.61,65.15 Z" fill="none" stroke="#000" stroke-width="0.8" stroke-linejoin="round"/>
<path d="M285.00,93.06 L288.40,93.06 L291.80,95.32 L290.10,99.83 L288.40,99.26 L286.70,95.88 Z" fill="none" stroke="#000" stroke-width="0.8" stroke-linejoin="round"/>
<path d="M267.15,121.82 L268.11,121.77 L268.86,121.19 L269.39,120.43 L269.70,119.57 L270.74,119.27 L271.32,118.36 L271.84,117.49 L272.53,116.75 L273.44,116.27 L274.26,115.64 L274.76,114.75 L275.37,113.93 L275.53,112.94 L276.40,112.43 L276.98,111.74 L277.63,111.11 L278.31,110.53 L279.16,110.26 L279.68,109.49 L279.62,108.57 L279.22,107.68 L279.00,106.73 L279.72,106.08 L280.47,105.47 L279.90,105.19 L279.13,105.49 L278.56,106.10 L278.20,106.90 L278.48,107.72 L278.11,108.44 L277.65,109.12 L277.11,109.73 L276.50,110.26 L275.87,110.98 L275.34,111.78 L274.36,112.12 L273.95,113.08 L274.00,114.27 L273.19,115.15 L272.34,116.03 L271.12,115.90 L269.52,116.90 L270.85,118.23 L269.73,118.55 L268.57,118.72 L268.30,119.35 L268.09,119.99 L268.07,120.91 L267.15,120.98 Z" fill="none" stroke="#000" stroke-width="0.8" stroke-linejoin="round"/>
<path d="M249.30,152.28 L250.63,150.41 L251.04,148.16 L251.15,145.88 L252.14,143.82 L252.25,142.59 L252.50,141.37 L253.74,141.44 L254.97,141.28 L255.40,140.64 L256.08,140.27 L256.81,139.97 L257.24,139.31 L258.14,139.27 L259.03,139.35 L259.21,138.47 L259.50,137.62 L259.91,136.79 L259.61,135.93 L260.46,135.81 L261.20,135.36 L261.59,134.31 L262.71,134.25 L263.10,133.40 L263.47,132.54 L263.38,131.67 L263.99,131.05 L264.62,130.58 L265.17,130.00 L265.28,130.50 L265.58,130.92 L266.06,130.58 L266.59,130.85 L267.40,131.27 L268.00,131.98 L268.57,132.47 L269.32,132.38 L269.38,133.27 L270.27,133.39 L269.86,134.01 L269.70,134.73 L270.50,134.90 L270.83,135.64 L271.35,136.08 L271.80,136.58 L272.48,136.49 L273.10,136.21 L273.36,136.67 L273.79,136.97 L273.89,137.49 L274.23,137.90 L275.08,137.26 L276.15,137.22 L276.80,138.02 L277.07,139.03 L277.91,139.24 L278.72,138.90 L278.00,140.08 L279.33,140.44 L278.67,140.97 L278.19,141.67 L277.90,142.46 L277.63,143.26 L276.75,143.29 L276.03,143.79 L274.96,143.89 L274.80,144.95 L274.57,147.00 L274.56,149.07 L275.01,152.08 L271.97,152.28 L266.26,152.15 L260.64,151.14 L255.03,152.31 Z" fill="none" stroke="#000" stroke-width="0.8" stroke-linejoin="round"/>
<path d="M142.78,137.62 L143.09,138.32 L143.81,138.57 L144.84,138.32 L144.48,137.33 L144.81,138.20 L145.74,138.21 L146.66,138.18 L147.03,139.03 L148.10,139.62 L148.22,140.83 L148.86,139.71 L150.15,139.87 L150.93,139.28 L151.88,139.04 L153.01,138.99 L153.55,139.98 L153.99,140.68 L154.70,140.27 L155.28,140.14 L155.81,139.87 L155.31,141.00 L156.47,141.40 L157.27,141.65 L158.08,141.85 L159.27,142.28 L160.52,142.45 L160.46,143.70 L160.35,144.95 L161.22,146.21 L162.49,147.06 L163.09,148.50 L164.31,149.46 L164.62,150.48 L165.30,151.30 L166.33,151.58 L167.15,152.28 L161.71,152.11 L156.66,150.07 L151.38,150.95 L146.18,152.28 L146.21,149.73 L144.48,147.86 L144.52,145.41 L143.35,143.26 L143.15,142.09 L143.88,141.17 L143.79,139.96 L142.78,139.31 L142.56,138.46 Z" fill="none" stroke="#000" stroke-width="0.8" stroke-linejoin="round"/>
<path d="M130.03,91.93 L130.25,92.65 L130.88,93.06 L130.38,93.67 L130.05,94.40 L130.25,95.17 L130.60,95.88 L130.73,96.64 L130.32,97.29 L130.16,97.99 L130.03,98.70 L130.39,99.29 L130.38,99.99 L130.19,100.72 L129.47,100.96 L129.12,101.63 L128.72,102.27 L128.51,103.06 L128.90,103.78 L128.05,104.06 L128.38,103.33 L128.46,102.53 L128.54,101.73 L128.33,100.96 L128.93,100.32 L128.61,99.50 L129.08,98.90 L129.18,98.14 L129.29,97.29 L129.29,96.44 L129.34,95.59 L129.47,94.75 L130.01,94.08 L129.61,93.31 L129.71,92.59 Z" fill="none" stroke="#000" stroke-width="0.8" stroke-linejoin="round"/>
<path d="M127.49,107.72 L128.05,108.29 L127.77,109.98 L126.92,109.42 Z" fill="none" stroke="#000" stroke-width="0.8" stroke-linejoin="round"/>
<path d="M129.18,117.03 L129.47,117.59 L128.90,117.88 Z" fill="none" stroke="#000" stroke-width="0.8" stroke-linejoin="round"/>
<path d="M133.15,124.08 L133.72,124.64 L133.15,124.93 Z" fill="none" stroke="#000" stroke-width="0.8" stroke-linejoin="round"/>
<path d="M134.28,128.31 L135.70,129.72 L135.13,131.13 L134.00,130.00 Z" fill="none" stroke="#000" stroke-width="0.8" stroke-linejoin="round"/>
<circle cx="16.4" cy="105.5" r="0.6" fill="#222"/>
<circle cx="17.6" cy="122.4" r="0.6" fill="#222"/>
<circle cx="15.3" cy="106.6" r="0.6" fill="#222"/>
<circle cx="12.5" cy="106.0" r="0.6" fill="#222"/>
</g>
<rect x="113.32" y="11.28" width="113.32" height="101.52" fill="none" stroke="#5fd6c4" stroke-width="1.3"/>
<rect x="0" y="0" width="283.30" height="141.00" fill="none" stroke="#333" stroke-width="0.9"/>
<line x1="-2.5" y1="0.00" x2="0" y2="0.00" stroke="#333" stroke-width="0.8"/>
<text transform="translate(-4.4,4.00) scale(0.97,1.08)" text-anchor="end" font-size="10.8" font-family="Liberation Serif, serif" fill="#222">30°N</text>
<line x1="-2.5" y1="28.20" x2="0" y2="28.20" stroke="#333" stroke-width="0.8"/>
<text transform="translate(-4.4,32.20) scale(0.97,1.08)" text-anchor="end" font-size="10.8" font-family="Liberation Serif, serif" fill="#222">25°N</text>
<line x1="-2.5" y1="56.40" x2="0" y2="56.40" stroke="#333" stroke-width="0.8"/>
<text transform="translate(-4.4,60.40) scale(0.97,1.08)" text-anchor="end" font-size="10.8" font-family="Liberation Serif, serif" fill="#222">20°N</text>
<line x1="-2.5" y1="84.60" x2="0" y2="84.60" stroke="#333" stroke-width="0.8"/>
<text transform="translate(-4.4,88.60) scale(0.97,1.08)" text-anchor="end" font-size="10.8" font-family="Liberation Serif, serif" fill="#222">15°N</text>
<line x1="-2.5" y1="112.80" x2="0" y2="112.80" stroke="#333" stroke-width="0.8"/>
<text transform="translate(-4.4,116.80) scale(0.97,1.08)" text-anchor="end" font-size="10.8" font-family="Liberation Serif, serif" fill="#222">10°N</text>
<line x1="-2.5" y1="141.00" x2="0" y2="141.00" stroke="#333" stroke-width="0.8"/>
<text transform="translate(-4.4,145.00) scale(0.97,1.08)" text-anchor="end" font-size="10.8" font-family="Liberation Serif, serif" fill="#222">5°N</text>
<line x1="0.00" y1="141.00" x2="0.00" y2="143.50" stroke="#333" stroke-width="0.8"/>
<text x="0.80" y="153.60" text-anchor="middle" font-size="10.4" font-family="Liberation Serif, serif" fill="#222">70°E</text>
<line x1="56.66" y1="141.00" x2="56.66" y2="143.50" stroke="#333" stroke-width="0.8"/>
<text x="57.46" y="153.60" text-anchor="middle" font-size="10.4" font-family="Liberation Serif, serif" fill="#222">80°E</text>
<line x1="113.32" y1="141.00" x2="113.32" y2="143.50" stroke="#333" stroke-width="0.8"/>
<text x="114.12" y="153.60" text-anchor="middle" font-size="10.4" font-family="Liberation Serif, serif" fill="#222">90°E</text>
<line x1="169.98" y1="141.00" x2="169.98" y2="143.50" stroke="#333" stroke-width="0.8"/>
<text x="170.78" y="153.60" text-anchor="middle" font-size="10.4" font-family="Liberation Serif, serif" fill="#222">100°E</text>
<line x1="226.64" y1="141.00" x2="226.64" y2="143.50" stroke="#333" stroke-width="0.8"/>
<text x="227.44" y="153.60" text-anchor="middle" font-size="10.4" font-family="Liberation Serif, serif" fill="#222">110°E</text>
<line x1="283.30" y1="141.00" x2="283.30" y2="143.50" stroke="#333" stroke-width="0.8"/>
<text x="284.10" y="153.60" text-anchor="middle" font-size="10.4" font-family="Liberation Serif, serif" fill="#222">120°E</text>
<text x="0" y="-3.8" font-size="11.65" font-family="Liberation Serif, serif" fill="#222">(c)SICI(-1).reg.Pre</text>
<rect x="291.00" y="16.70" width="5.7" height="9.30" fill="#1c5a48"/>
<rect x="291.00" y="25.70" width="5.7" height="9.30" fill="#2d7a66"/>
<rect x="291.00" y="34.70" width="5.7" height="9.30" fill="#4f9f89"/>
<rect x="291.00" y="43.70" width="5.7" height="9.30" fill="#84cdb6"/>
<rect x="291.00" y="52.70" width="5.7" height="9.30" fill="#b7e4d8"/>
<rect x="291.00" y="61.70" width="5.7" height="9.30" fill="#e2f4ef"/>
<rect x="291.00" y="70.70" width="5.7" height="9.30" fill="#f2f2de"/>
<rect x="291.00" y="79.70" width="5.7" height="9.30" fill="#ecdba9"/>
<rect x="291.00" y="88.70" width="5.7" height="9.30" fill="#d9b86c"/>
<rect x="291.00" y="97.70" width="5.7" height="9.30" fill="#c18c3c"/>
<rect x="291.00" y="106.70" width="5.7" height="9.30" fill="#a26a22"/>
<rect x="291.00" y="115.70" width="5.7" height="9.30" fill="#7a4b17"/>
<rect x="291.00" y="16.70" width="5.7" height="108.00" fill="none" stroke="#333" stroke-width="0.6"/>
<line x1="296.70" y1="16.70" x2="298.70" y2="16.70" stroke="#333" stroke-width="0.6"/>
<text transform="translate(301.00,20.90) scale(1,1.05)" font-size="10.4" font-family="Liberation Serif, serif" fill="#222">3</text>
<line x1="296.70" y1="34.70" x2="298.70" y2="34.70" stroke="#333" stroke-width="0.6"/>
<text transform="translate(301.00,38.90) scale(1,1.05)" font-size="10.4" font-family="Liberation Serif, serif" fill="#222">2</text>
<line x1="296.70" y1="52.70" x2="298.70" y2="52.70" stroke="#333" stroke-width="0.6"/>
<text transform="translate(301.00,56.90) scale(1,1.05)" font-size="10.4" font-family="Liberation Serif, serif" fill="#222">1</text>
<line x1="296.70" y1="70.70" x2="298.70" y2="70.70" stroke="#333" stroke-width="0.6"/>
<text transform="translate(301.00,74.90) scale(1,1.05)" font-size="10.4" font-family="Liberation Serif, serif" fill="#222">0</text>
<line x1="296.70" y1="88.70" x2="298.70" y2="88.70" stroke="#333" stroke-width="0.6"/>
<text transform="translate(301.00,92.90) scale(1,1.05)" font-size="10.4" font-family="Liberation Serif, serif" fill="#222">-1</text>
<line x1="296.70" y1="106.70" x2="298.70" y2="106.70" stroke="#333" stroke-width="0.6"/>
<text transform="translate(301.00,110.90) scale(1,1.05)" font-size="10.4" font-family="Liberation Serif, serif" fill="#222">-2</text>
<line x1="296.70" y1="124.70" x2="298.70" y2="124.70" stroke="#333" stroke-width="0.6"/>
<text transform="translate(301.00,128.90) scale(1,1.05)" font-size="10.4" font-family="Liberation Serif, serif" fill="#222">-3</text>
</g>
<defs><clipPath id="mdframe"><rect x="0" y="0" width="283.30" height="141.00"/></clipPath>
<clipPath id="mdland"><path d="M-22.66,-11.28 L-23.75,-1.75 L-21.65,7.61 L-22.69,17.03 L-22.66,26.51 L-21.64,26.40 L-20.68,26.76 L-19.58,27.51 L-18.70,26.51 L-17.92,27.23 L-18.33,28.21 L-17.40,28.46 L-17.00,29.33 L-16.41,29.69 L-16.35,30.38 L-15.98,30.96 L-15.30,31.02 L-14.98,31.61 L-15.10,32.27 L-15.64,32.66 L-15.86,33.28 L-15.56,34.00 L-15.13,34.66 L-14.32,34.60 L-13.60,34.97 L-12.86,35.54 L-12.07,36.06 L-11.13,35.57 L-10.20,36.10 L-9.79,36.60 L-9.15,36.73 L-8.56,36.42 L-7.93,36.66 L-7.58,37.12 L-7.64,37.69 L-7.31,38.14 L-6.80,38.35 L-6.28,38.97 L-6.08,39.75 L-5.42,40.52 L-4.53,40.04 L-4.24,41.16 L-3.12,41.44 L-2.93,40.22 L-1.70,40.04 L-1.00,39.82 L-0.32,39.52 L0.42,39.59 L1.13,39.76 L1.84,40.06 L2.55,40.33 L1.89,40.06 L1.58,40.70 L1.77,41.20 L1.70,41.74 L1.42,42.41 L0.82,42.83 L0.11,42.77 L-0.57,42.58 L-1.14,42.63 L-1.72,42.56 L-2.21,42.94 L-2.83,42.86 L-3.43,42.91 L-4.01,43.07 L-4.61,42.96 L-5.10,42.58 L-5.52,43.15 L-5.95,43.71 L-5.49,44.10 L-5.42,44.70 L-5.20,45.34 L-4.53,45.40 L-3.55,45.47 L-2.56,45.43 L-1.95,46.33 L-2.27,47.38 L-1.33,47.13 L-0.70,47.87 L-0.23,48.55 L0.00,49.35 L0.87,48.96 L1.66,49.50 L2.41,50.09 L2.27,51.04 L3.04,51.70 L4.03,51.52 L4.88,51.86 L5.67,52.34 L6.31,51.63 L7.21,51.32 L8.14,51.38 L9.07,51.32 L10.13,50.95 L11.23,51.14 L11.59,50.11 L11.90,49.07 L12.40,48.37 L11.85,47.72 L12.14,47.12 L12.47,46.53 L12.96,46.03 L13.63,45.86 L13.14,45.29 L13.32,44.56 L13.95,44.01 L14.73,43.71 L14.62,44.38 L14.86,45.01 L15.13,45.61 L15.30,46.25 L15.19,46.81 L15.28,47.38 L15.70,47.93 L15.30,48.50 L15.58,49.35 L15.86,50.20 L16.50,50.92 L16.85,51.82 L16.47,52.69 L16.15,53.58 L15.75,54.21 L15.66,54.95 L15.54,55.67 L15.58,56.40 L15.63,57.12 L15.48,57.83 L15.29,58.63 L15.86,59.22 L15.88,59.93 L15.86,60.64 L16.65,61.21 L16.15,62.04 L16.60,62.79 L16.19,63.57 L16.61,64.20 L17.00,64.86 L17.34,65.55 L17.79,66.17 L18.13,66.99 L17.56,67.68 L18.40,68.27 L18.35,69.30 L18.39,70.21 L18.70,71.06 L19.00,71.91 L19.47,72.67 L19.23,73.54 L19.26,74.45 L20.03,75.53 L21.27,76.01 L20.81,77.19 L20.40,78.40 L20.76,79.10 L20.59,79.87 L20.55,80.73 L21.25,81.22 L21.31,81.88 L21.85,82.26 L21.37,82.86 L21.81,83.47 L22.07,84.10 L22.56,84.58 L22.86,85.17 L23.23,85.73 L22.77,86.74 L22.54,87.84 L23.54,88.36 L24.65,88.55 L25.71,89.37 L25.16,90.59 L25.65,91.52 L26.06,92.50 L26.33,93.19 L26.42,93.93 L26.53,94.67 L26.91,95.32 L26.80,96.30 L27.48,97.01 L27.30,97.90 L27.42,98.81 L28.21,99.24 L28.90,99.83 L28.93,100.89 L28.62,101.92 L29.81,101.73 L30.60,102.65 L31.08,103.20 L31.71,103.58 L32.12,104.19 L32.30,104.90 L32.15,105.66 L31.83,106.37 L32.29,107.10 L33.15,107.16 L33.13,108.01 L33.79,108.54 L34.12,109.23 L34.28,109.98 L34.47,111.14 L35.64,111.24 L35.21,112.12 L35.41,113.08 L35.91,113.80 L36.47,114.46 L36.69,115.36 L36.26,116.18 L36.52,117.05 L36.14,117.87 L36.52,118.71 L37.40,119.00 L38.32,119.47 L38.01,120.46 L38.39,121.39 L39.38,121.26 L39.42,122.04 L39.89,122.67 L40.65,122.70 L41.36,122.95 L42.21,123.00 L42.78,123.63 L43.50,123.57 L43.68,122.86 L44.24,122.68 L44.76,122.39 L44.33,121.56 L44.80,120.75 L45.35,120.09 L46.18,119.85 L45.77,119.22 L46.01,118.51 L46.56,117.98 L47.31,118.16 L48.33,118.53 L48.86,117.58 L49.65,117.33 L50.43,117.03 L50.92,117.21 L51.38,117.48 L51.87,117.24 L52.13,116.75 L52.07,116.18 L51.76,115.70 L51.18,115.69 L50.71,115.34 L50.44,114.58 L50.84,113.88 L50.86,112.89 L51.84,112.80 L52.62,112.91 L53.27,112.46 L53.45,111.75 L53.83,111.11 L54.37,111.17 L54.82,110.86 L55.32,110.97 L55.81,111.11 L55.46,110.34 L56.00,109.70 L55.69,109.02 L55.81,108.29 L56.74,107.46 L56.39,106.26 L55.67,105.43 L55.53,104.34 L55.83,103.61 L55.84,102.83 L55.55,101.73 L56.66,101.52 L56.25,100.58 L56.57,99.61 L57.48,99.12 L57.79,98.14 L57.56,97.17 L58.48,96.81 L58.76,96.03 L58.36,95.32 L58.07,94.65 L58.11,93.92 L57.89,93.21 L58.08,92.50 L58.29,91.31 L57.31,90.59 L57.17,89.55 L57.51,88.55 L58.32,87.75 L58.20,86.61 L57.82,85.64 L57.79,84.60 L58.15,83.76 L58.20,82.85 L58.95,82.21 L58.93,81.22 L59.76,81.43 L60.44,80.89 L61.06,80.43 L61.76,80.09 L61.20,79.16 L62.13,78.60 L63.10,78.74 L63.46,77.83 L64.09,77.66 L64.73,77.77 L65.46,77.67 L65.73,76.99 L66.19,76.04 L67.13,75.57 L68.13,75.41 L69.13,75.58 L69.21,74.99 L69.22,74.40 L69.46,73.86 L69.69,73.32 L70.96,72.51 L70.30,71.17 L71.48,70.43 L72.52,71.35 L73.46,71.01 L74.44,71.08 L75.03,70.29 L75.36,69.37 L76.38,68.89 L77.11,68.03 L77.96,67.32 L78.76,66.55 L79.83,65.96 L80.74,65.15 L81.93,64.50 L82.16,63.17 L82.21,61.76 L82.85,60.51 L84.15,59.99 L85.56,60.07 L86.57,59.46 L87.61,58.91 L88.80,58.54 L89.52,57.53 L90.06,56.60 L91.12,56.67 L92.14,57.30 L92.92,56.40 L93.65,56.06 L94.43,55.94 L94.47,55.12 L94.91,54.43 L94.64,53.62 L94.60,52.77 L95.11,51.99 L96.04,51.89 L95.94,51.12 L96.40,50.50 L96.27,49.79 L96.32,49.07 L97.25,49.18 L98.13,48.88 L98.90,48.30 L99.16,47.38 L99.93,46.79 L100.85,46.48 L101.76,46.83 L102.55,47.38 L102.95,47.03 L103.16,46.56 L103.06,45.90 L103.69,45.68 L104.33,45.86 L104.94,46.12 L104.87,46.86 L105.39,47.38 L106.19,47.78 L106.81,47.12 L107.50,46.91 L108.22,46.81 L108.93,46.34 L109.68,46.74 L110.30,46.31 L111.05,46.25 L111.79,47.12 L112.92,46.95 L114.26,47.02 L114.45,45.68 L115.03,45.12 L115.67,44.64 L115.80,43.69 L116.72,43.43 L117.03,42.75 L117.23,42.04 L117.98,41.82 L118.42,41.17 L118.83,41.67 L119.48,41.74 L120.08,41.84 L120.69,41.74 L120.93,42.94 L122.10,42.58 L122.81,43.01 L123.52,43.43 L121.88,44.19 L123.01,45.60 L124.10,46.17 L124.37,47.38 L124.45,48.51 L125.53,48.88 L125.18,49.89 L125.79,50.76 L125.54,51.29 L125.71,51.86 L126.27,52.00 L126.64,52.45 L126.98,52.96 L127.27,53.49 L127.90,53.76 L128.05,54.43 L128.43,54.84 L128.83,55.22 L129.25,55.59 L129.75,55.84 L129.76,56.86 L130.26,57.75 L131.38,57.74 L132.02,58.66 L132.93,59.00 L133.48,59.80 L134.68,60.26 L134.28,61.48 L134.85,62.11 L135.45,62.69 L136.08,63.37 L135.98,64.30 L135.63,65.60 L136.42,66.71 L137.30,67.61 L137.68,68.81 L137.71,70.14 L138.32,71.33 L138.78,72.57 L138.82,73.88 L138.52,74.87 L138.21,75.85 L138.04,76.86 L137.68,77.83 L137.67,78.56 L137.40,79.24 L138.09,78.95 L138.71,79.35 L139.25,79.81 L139.95,79.81 L140.76,79.96 L141.26,80.63 L142.09,80.93 L142.78,80.37 L143.87,80.10 L144.04,81.21 L144.42,80.53 L145.05,80.09 L145.53,79.81 L145.73,79.29 L146.20,79.60 L146.75,79.52 L147.50,78.30 L148.82,78.87 L149.00,77.79 L149.02,76.70 L149.88,76.57 L150.71,76.32 L151.35,75.73 L151.85,75.01 L152.46,74.70 L153.15,74.62 L153.11,73.90 L153.55,73.32 L153.91,73.80 L154.33,74.23 L154.70,74.73 L155.25,75.01 L155.53,75.52 L156.09,75.67 L156.26,76.18 L156.38,76.70 L157.03,77.73 L156.84,78.94 L156.54,80.09 L156.95,81.22 L158.07,81.81 L158.04,83.07 L158.12,84.20 L157.51,85.16 L158.89,85.70 L159.74,86.90 L159.50,88.29 L159.21,89.68 L159.47,90.53 L159.84,91.35 L159.35,92.42 L160.35,93.06 L160.35,93.85 L160.75,94.53 L160.84,95.36 L161.48,95.88 L161.88,96.66 L161.97,97.54 L162.43,98.38 L162.05,99.26 L162.37,100.39 L162.31,101.55 L162.86,102.60 L162.90,103.78 L162.32,105.48 L163.97,106.20 L162.47,106.71 L162.33,108.29 L161.38,108.98 L161.13,110.13 L161.48,111.17 L161.76,112.24 L162.19,113.32 L161.48,114.24 L161.33,115.25 L160.91,116.18 L161.06,117.35 L160.60,118.44 L160.85,119.61 L160.35,120.70 L160.06,121.39 L160.05,122.15 L159.80,123.06 L160.63,123.52 L161.55,123.59 L162.33,124.08 L161.44,124.93 L162.21,125.90 L163.12,125.77 L164.03,125.77 L164.25,126.48 L164.56,127.16 L165.26,127.43 L166.01,127.46 L166.50,128.34 L166.46,129.35 L167.17,130.22 L168.28,130.00 L168.64,130.81 L169.33,131.35 L169.90,131.98 L170.55,132.54 L170.89,133.60 L171.71,134.34 L171.89,135.42 L171.68,136.49 L171.65,137.21 L171.51,137.93 L171.33,138.75 L171.96,139.31 L171.90,140.45 L172.74,141.24 L172.39,142.22 L172.25,143.26 L173.05,143.98 L172.78,145.02 L172.31,146.33 L173.66,146.64 L173.64,147.86 L174.17,148.96 L174.12,150.26 L175.08,151.15 L175.67,152.37 L175.27,153.67 L176.09,154.70 L177.35,155.10 L180.57,155.91 L183.86,155.49 L187.14,155.67 L190.38,155.10 L190.88,153.88 L190.08,152.82 L189.00,151.90 L189.53,150.59 L190.50,149.96 L190.42,148.81 L189.74,148.08 L189.24,147.20 L189.13,146.35 L189.30,145.50 L189.45,144.67 L189.53,143.82 L189.24,142.77 L188.51,141.98 L188.60,140.92 L188.39,139.87 L187.40,139.44 L186.54,138.79 L186.18,137.72 L185.28,137.05 L186.42,135.71 L184.82,134.97 L183.85,134.37 L182.73,134.51 L182.03,133.94 L181.47,133.23 L181.20,132.22 L180.18,131.98 L179.47,131.36 L178.55,131.49 L177.77,131.06 L177.35,130.28 L176.07,129.95 L175.18,130.92 L174.14,130.16 L174.23,128.87 L173.76,128.55 L173.20,128.49 L173.46,127.81 L172.81,127.46 L172.39,126.94 L172.54,126.28 L172.17,125.79 L171.96,125.21 L171.61,124.31 L171.83,123.37 L171.83,122.28 L170.83,121.82 L170.93,120.52 L171.67,119.45 L170.68,118.66 L169.70,117.88 L169.00,117.71 L168.29,117.84 L167.91,117.17 L167.15,117.03 L167.02,116.50 L166.59,116.17 L166.05,116.06 L165.73,115.62 L165.38,114.38 L166.55,113.85 L166.36,112.80 L165.45,112.24 L164.90,111.65 L164.31,111.11 L165.04,110.71 L165.45,109.98 L166.62,109.23 L168.02,109.15 L167.58,107.87 L167.15,106.60 L167.70,105.53 L167.01,104.55 L167.35,103.38 L168.56,103.21 L168.27,102.10 L168.17,100.96 L168.35,99.59 L169.70,99.26 L170.40,98.73 L170.28,97.85 L170.04,97.13 L169.70,96.44 L169.71,95.80 L170.19,95.37 L169.80,94.75 L170.26,94.19 L170.84,94.16 L171.41,94.08 L171.72,93.59 L171.96,93.06 L172.54,93.18 L173.10,93.38 L173.76,93.56 L174.23,93.06 L174.72,93.70 L175.36,94.19 L175.68,94.98 L175.31,95.75 L174.93,96.48 L175.08,97.29 L175.90,97.70 L176.59,97.09 L177.35,97.30 L177.91,97.85 L178.38,98.28 L179.01,98.29 L179.65,98.61 L180.18,98.14 L180.93,97.59 L181.77,98.00 L182.18,98.72 L182.16,99.55 L182.86,99.57 L183.21,100.17 L183.59,100.67 L184.15,100.96 L183.79,101.86 L184.61,102.38 L185.48,102.41 L185.84,103.21 L186.41,103.64 L186.98,104.05 L186.14,104.76 L186.98,105.47 L187.23,106.12 L187.13,106.81 L187.49,107.40 L188.11,107.72 L188.25,108.44 L188.74,109.00 L189.46,109.06 L190.09,109.42 L191.09,109.45 L192.08,109.42 L192.56,109.66 L193.08,109.49 L193.55,109.68 L194.06,109.70 L194.67,110.29 L195.48,110.54 L195.73,111.06 L195.95,111.59 L196.46,111.86 L196.89,112.24 L196.72,113.05 L197.33,113.61 L197.35,114.34 L197.46,115.06 L196.88,116.11 L195.78,116.62 L196.68,117.38 L197.18,118.44 L196.66,118.89 L196.28,119.47 L196.47,120.14 L196.89,120.70 L197.49,120.34 L198.07,120.71 L198.65,120.44 L198.88,119.85 L199.66,119.34 L200.53,119.70 L200.22,118.69 L201.14,118.16 L201.94,117.95 L202.76,117.97 L203.20,117.26 L203.41,116.47 L204.06,115.92 L204.11,115.07 L204.89,114.67 L205.68,115.06 L206.52,115.05 L207.32,115.30 L207.73,114.49 L207.38,113.65 L207.33,112.97 L207.32,112.30 L208.07,112.29 L208.51,111.67 L209.40,111.33 L210.21,110.83 L210.80,110.39 L211.07,109.71 L211.77,109.24 L212.48,109.70 L213.08,109.35 L213.77,109.45 L214.43,109.20 L214.74,108.57 L215.01,107.86 L215.70,108.17 L216.21,107.95 L216.44,107.44 L217.03,107.11 L217.65,106.86 L218.02,106.24 L218.71,106.03 L219.76,105.26 L218.99,104.21 L219.97,104.23 L220.69,104.90 L221.12,104.31 L221.80,104.03 L221.86,103.32 L222.11,102.65 L222.09,101.93 L222.27,101.24 L222.36,100.51 L222.11,99.83 L221.85,98.85 L221.26,98.03 L221.57,96.63 L222.96,97.01 L223.92,96.37 L223.94,95.22 L223.70,94.11 L222.67,93.62 L222.78,92.85 L222.30,92.23 L222.36,91.50 L222.11,90.80 L220.96,90.25 L221.03,88.97 L221.51,87.95 L221.26,86.86 L220.96,85.98 L221.01,85.06 L220.20,84.47 L220.12,83.47 L219.58,82.99 L219.01,82.54 L218.91,81.79 L218.42,81.22 L217.80,80.65 L217.79,79.80 L217.00,79.49 L216.72,78.68 L216.11,78.09 L215.29,77.89 L215.01,77.04 L214.17,76.70 L213.18,76.64 L212.31,76.14 L211.91,75.25 L211.34,74.45 L210.49,74.16 L209.64,73.89 L209.86,72.87 L209.08,72.19 L208.88,71.24 L208.44,70.38 L207.23,70.53 L206.81,69.37 L206.01,68.84 L205.74,67.91 L205.51,66.90 L204.54,66.55 L204.22,65.59 L203.22,65.42 L203.53,64.47 L202.84,63.73 L202.58,63.21 L202.41,62.64 L202.26,62.03 L202.56,61.48 L202.83,60.66 L202.58,59.85 L203.10,59.22 L203.69,58.66 L204.50,58.41 L205.34,58.34 L204.97,57.55 L205.11,56.68 L205.75,56.36 L206.27,55.86 L206.45,55.12 L207.09,54.71 L207.32,54.04 L207.76,53.48 L208.56,53.03 L208.23,52.17 L208.91,52.20 L209.60,52.27 L210.24,51.83 L210.21,51.04 L210.74,50.65 L211.18,50.16 L211.85,50.15 L212.48,49.91 L213.01,49.12 L213.42,48.24 L214.51,49.03 L215.31,47.94 L216.03,47.75 L216.66,47.34 L217.40,47.45 L218.14,47.38 L218.85,47.49 L219.56,47.48 L220.25,47.28 L220.97,47.38 L221.68,47.76 L222.40,47.39 L223.15,47.27 L223.81,47.66 L224.72,47.95 L225.51,48.50 L226.16,49.11 L225.84,49.94 L226.02,50.66 L226.36,51.32 L226.28,51.91 L226.44,52.48 L226.54,53.13 L226.07,53.58 L226.65,53.80 L227.27,53.87 L227.52,54.43 L227.77,54.99 L228.19,54.48 L228.81,54.70 L228.75,53.97 L229.47,53.86 L229.35,53.21 L229.03,52.63 L228.97,51.98 L228.91,51.32 L229.30,50.95 L229.36,50.40 L229.47,49.81 L230.04,49.63 L230.80,49.74 L231.33,49.18 L231.84,48.72 L232.31,48.22 L233.18,48.41 L234.06,48.24 L235.13,48.66 L235.71,47.66 L236.37,46.87 L237.05,46.10 L238.08,46.09 L239.11,46.25 L239.83,45.67 L240.71,45.40 L241.70,44.97 L242.50,45.68 L243.01,44.94 L243.57,44.23 L244.56,43.82 L245.34,44.56 L245.08,43.70 L245.57,42.97 L246.04,42.05 L247.04,42.30 L247.85,42.69 L248.74,42.86 L249.33,43.08 L249.94,42.89 L250.48,43.13 L251.00,43.43 L252.10,43.00 L252.34,41.85 L253.36,41.53 L254.40,41.74 L255.00,40.89 L255.85,40.29 L256.92,40.28 L257.80,40.89 L259.04,40.75 L260.01,41.53 L261.46,41.46 L261.77,40.04 L261.49,38.60 L262.96,38.63 L264.02,38.67 L264.60,37.79 L265.76,37.76 L266.40,36.81 L267.07,36.01 L268.00,35.53 L268.72,34.83 L269.34,34.05 L270.55,33.90 L270.83,32.71 L271.08,32.10 L271.31,31.49 L271.71,30.70 L272.53,31.02 L273.37,30.46 L274.38,30.47 L275.48,30.34 L275.93,29.33 L276.23,28.39 L277.12,27.96 L278.05,27.53 L278.20,26.51 L279.14,26.30 L280.09,26.45 L280.83,25.79 L281.03,24.82 L280.97,23.92 L281.31,23.09 L280.78,22.34 L280.75,21.43 L280.67,20.66 L280.81,19.90 L281.15,18.90 L282.17,19.18 L282.90,18.42 L283.17,17.40 L283.03,15.99 L284.43,15.79 L285.05,14.74 L285.73,13.74 L286.03,12.41 L287.27,11.84 L288.07,11.07 L288.60,10.08 L289.80,9.69 L290.10,8.46 L290.31,6.80 L290.49,5.13 L291.56,3.81 L292.93,2.82 L292.79,1.87 L292.42,0.98 L293.35,0.66 L294.07,0.00 L294.97,-1.30 L294.76,-2.87 L294.97,-4.36 L295.77,-5.64 L296.63,-6.98 L296.03,-8.46 L295.26,-9.81 L295.77,-11.28 L216.16,-10.60 L136.55,-10.18 L56.96,-12.71 Z"/><path d="M56.09,114.21 L56.74,114.31 L57.04,113.72 L57.57,113.75 L58.08,113.93 L59.24,113.55 L60.20,114.31 L60.18,115.39 L60.06,116.47 L60.04,117.31 L60.57,117.96 L61.12,118.53 L61.76,119.00 L62.09,119.66 L62.43,120.32 L63.29,120.24 L63.74,120.98 L63.98,121.66 L64.48,122.17 L64.54,122.88 L64.88,123.52 L64.68,124.54 L65.47,125.20 L65.56,126.27 L66.58,126.62 L65.87,127.37 L65.69,128.38 L66.90,128.53 L67.14,129.72 L66.90,130.77 L65.85,131.01 L66.37,131.88 L66.01,132.82 L65.12,132.96 L64.30,133.31 L63.98,134.19 L63.18,134.68 L62.32,134.20 L61.47,134.69 L60.72,135.09 L60.06,135.64 L59.25,135.50 L58.43,135.62 L58.01,134.87 L57.23,134.51 L57.49,133.49 L57.44,132.44 L56.27,132.06 L56.09,130.85 L56.32,129.06 L54.52,128.98 L55.83,128.35 L55.81,126.90 L56.18,125.93 L55.42,125.23 L55.19,124.35 L55.53,123.52 L54.94,122.78 L55.54,122.05 L55.37,121.19 L56.09,120.70 L55.03,119.80 L55.03,118.40 L56.31,117.95 L56.94,116.75 L56.95,116.03 L56.46,115.50 L56.69,114.74 L56.09,114.21 Z"/><path d="M228.34,55.95 L228.95,55.92 L229.49,56.20 L230.02,55.93 L230.61,55.84 L229.97,56.80 L230.25,57.91 L231.33,57.92 L232.31,58.37 L231.71,59.18 L230.72,59.37 L230.22,60.21 L230.32,61.19 L229.87,61.97 L230.36,62.73 L229.86,63.33 L229.19,63.73 L228.58,64.31 L228.17,65.05 L227.61,65.85 L226.64,65.71 L225.88,65.27 L225.06,65.59 L223.93,65.41 L223.81,66.55 L223.32,66.11 L222.66,66.01 L222.10,65.71 L221.54,65.42 L220.54,64.90 L220.93,63.84 L220.08,63.73 L219.27,63.45 L217.90,63.39 L217.81,62.02 L218.72,61.41 L218.99,60.35 L220.41,61.51 L221.80,60.32 L222.88,59.03 L222.11,57.53 L222.82,57.87 L223.59,58.04 L224.16,57.46 L224.37,56.68 L224.71,56.05 L225.33,55.68 L225.95,55.99 L226.64,56.12 L227.48,55.92 Z"/><path d="M288.97,27.64 L289.99,27.52 L290.94,27.90 L291.88,27.44 L292.37,26.51 L293.21,26.32 L293.98,26.72 L293.65,27.75 L294.63,28.20 L294.08,29.11 L293.52,30.02 L293.64,31.08 L293.50,32.15 L293.09,33.87 L293.36,35.61 L292.37,37.04 L291.23,38.35 L290.79,40.39 L288.95,41.37 L289.13,43.31 L288.40,45.12 L287.83,45.51 L287.27,45.12 L286.49,44.39 L285.61,43.78 L286.01,42.54 L285.00,41.74 L284.62,41.20 L284.13,40.76 L284.13,40.09 L283.87,39.48 L282.26,39.27 L282.44,37.66 L283.20,36.78 L284.15,36.10 L284.85,35.23 L285.56,34.38 L286.43,33.26 L285.57,32.15 L286.42,31.12 L285.74,29.96 L286.80,29.70 L287.83,29.33 L288.01,28.75 L287.91,28.16 L288.43,27.88 Z"/><path d="M286.70,64.30 L287.66,64.66 L288.68,64.79 L289.78,64.96 L290.67,64.30 L291.96,65.02 L293.40,65.34 L294.84,66.49 L296.33,65.42 L297.18,67.27 L297.44,69.29 L298.00,71.30 L297.47,73.32 L296.50,74.60 L296.06,76.14 L294.48,77.12 L294.63,78.96 L294.07,81.08 L293.50,83.19 L292.16,85.10 L292.37,87.42 L290.82,87.79 L290.63,89.36 L290.42,90.88 L288.97,91.37 L289.18,90.36 L288.37,89.72 L287.40,89.55 L286.70,90.24 L286.42,89.65 L286.40,88.99 L286.40,88.35 L286.42,87.70 L285.63,87.43 L285.01,86.88 L284.66,86.09 L283.87,85.73 L283.27,85.03 L283.10,84.12 L283.32,83.22 L283.02,82.34 L283.98,81.48 L283.63,80.24 L282.34,79.77 L282.45,78.40 L282.58,77.50 L283.02,76.70 L283.49,76.93 L284.02,76.95 L284.51,77.10 L285.00,77.27 L285.25,76.21 L285.91,75.35 L285.80,74.27 L285.28,73.32 L285.60,72.48 L285.99,71.68 L285.19,70.95 L285.57,69.94 L285.11,69.09 L285.12,68.12 L285.63,67.34 L286.13,66.55 L286.58,65.91 L287.32,65.65 L286.61,65.15 Z"/><path d="M285.00,93.06 L288.40,93.06 L291.80,95.32 L290.10,99.83 L288.40,99.26 L286.70,95.88 Z"/><path d="M267.15,121.82 L268.11,121.77 L268.86,121.19 L269.39,120.43 L269.70,119.57 L270.74,119.27 L271.32,118.36 L271.84,117.49 L272.53,116.75 L273.44,116.27 L274.26,115.64 L274.76,114.75 L275.37,113.93 L275.53,112.94 L276.40,112.43 L276.98,111.74 L277.63,111.11 L278.31,110.53 L279.16,110.26 L279.68,109.49 L279.62,108.57 L279.22,107.68 L279.00,106.73 L279.72,106.08 L280.47,105.47 L279.90,105.19 L279.13,105.49 L278.56,106.10 L278.20,106.90 L278.48,107.72 L278.11,108.44 L277.65,109.12 L277.11,109.73 L276.50,110.26 L275.87,110.98 L275.34,111.78 L274.36,112.12 L273.95,113.08 L274.00,114.27 L273.19,115.15 L272.34,116.03 L271.12,115.90 L269.52,116.90 L270.85,118.23 L269.73,118.55 L268.57,118.72 L268.30,119.35 L268.09,119.99 L268.07,120.91 L267.15,120.98 Z"/><path d="M249.30,152.28 L250.63,150.41 L251.04,148.16 L251.15,145.88 L252.14,143.82 L252.25,142.59 L252.50,141.37 L253.74,141.44 L254.97,141.28 L255.40,140.64 L256.08,140.27 L256.81,139.97 L257.24,139.31 L258.14,139.27 L259.03,139.35 L259.21,138.47 L259.50,137.62 L259.91,136.79 L259.61,135.93 L260.46,135.81 L261.20,135.36 L261.59,134.31 L262.71,134.25 L263.10,133.40 L263.47,132.54 L263.38,131.67 L263.99,131.05 L264.62,130.58 L265.17,130.00 L265.28,130.50 L265.58,130.92 L266.06,130.58 L266.59,130.85 L267.40,131.27 L268.00,131.98 L268.57,132.47 L269.32,132.38 L269.38,133.27 L270.27,133.39 L269.86,134.01 L269.70,134.73 L270.50,134.90 L270.83,135.64 L271.35,136.08 L271.80,136.58 L272.48,136.49 L273.10,136.21 L273.36,136.67 L273.79,136.97 L273.89,137.49 L274.23,137.90 L275.08,137.26 L276.15,137.22 L276.80,138.02 L277.07,139.03 L277.91,139.24 L278.72,138.90 L278.00,140.08 L279.33,140.44 L278.67,140.97 L278.19,141.67 L277.90,142.46 L277.63,143.26 L276.75,143.29 L276.03,143.79 L274.96,143.89 L274.80,144.95 L274.57,147.00 L274.56,149.07 L275.01,152.08 L271.97,152.28 L266.26,152.15 L260.64,151.14 L255.03,152.31 Z"/><path d="M142.78,137.62 L143.09,138.32 L143.81,138.57 L144.84,138.32 L144.48,137.33 L144.81,138.20 L145.74,138.21 L146.66,138.18 L147.03,139.03 L148.10,139.62 L148.22,140.83 L148.86,139.71 L150.15,139.87 L150.93,139.28 L151.88,139.04 L153.01,138.99 L153.55,139.98 L153.99,140.68 L154.70,140.27 L155.28,140.14 L155.81,139.87 L155.31,141.00 L156.47,141.40 L157.27,141.65 L158.08,141.85 L159.27,142.28 L160.52,142.45 L160.46,143.70 L160.35,144.95 L161.22,146.21 L162.49,147.06 L163.09,148.50 L164.31,149.46 L164.62,150.48 L165.30,151.30 L166.33,151.58 L167.15,152.28 L161.71,152.11 L156.66,150.07 L151.38,150.95 L146.18,152.28 L146.21,149.73 L144.48,147.86 L144.52,145.41 L143.35,143.26 L143.15,142.09 L143.88,141.17 L143.79,139.96 L142.78,139.31 L142.56,138.46 Z"/><path d="M130.03,91.93 L130.25,92.65 L130.88,93.06 L130.38,93.67 L130.05,94.40 L130.25,95.17 L130.60,95.88 L130.73,96.64 L130.32,97.29 L130.16,97.99 L130.03,98.70 L130.39,99.29 L130.38,99.99 L130.19,100.72 L129.47,100.96 L129.12,101.63 L128.72,102.27 L128.51,103.06 L128.90,103.78 L128.05,104.06 L128.38,103.33 L128.46,102.53 L128.54,101.73 L128.33,100.96 L128.93,100.32 L128.61,99.50 L129.08,98.90 L129.18,98.14 L129.29,97.29 L129.29,96.44 L129.34,95.59 L129.47,94.75 L130.01,94.08 L129.61,93.31 L129.71,92.59 Z"/><path d="M127.49,107.72 L128.05,108.29 L127.77,109.98 L126.92,109.42 Z"/><path d="M129.18,117.03 L129.47,117.59 L128.90,117.88 Z"/><path d="M133.15,124.08 L133.72,124.64 L133.15,124.93 Z"/><path d="M134.28,128.31 L135.70,129.72 L135.13,131.13 L134.00,130.00 Z"/></clipPath>
<pattern id="mddots" patternUnits="userSpaceOnUse" x="1.45" y="2.62" width="7.8" height="7.8"><circle cx="0" cy="0" r="0.7" fill="#000"/><circle cx="3.9" cy="0" r="0.7" fill="#000"/><circle cx="7.8" cy="0" r="0.7" fill="#000"/><circle cx="0" cy="7.8" r="0.7" fill="#000"/><circle cx="3.9" cy="7.8" r="0.7" fill="#000"/><circle cx="7.8" cy="7.8" r="0.7" fill="#000"/><circle cx="1.95" cy="3.9" r="0.7" fill="#000"/><circle cx="5.85" cy="3.9" r="0.7" fill="#000"/></pattern>
</defs>
<g transform="translate(374.0,326.7)">
<g clip-path="url(#mdframe)">
<g clip-path="url(#mdland)">
<rect x="-5" y="-5" width="293.3" height="151.0" fill="#e2f4ef"/>
<path d="M0.8,0.2L49.8,0.2L46.8,4.5L39.2,6.2L38.2,7.2L38.3,8.8L40.9,14.7L42.8,16.9L45.2,17.6L55.8,18.9L57.8,18.5L59.0,17.2L63.5,6.2L63.7,3.2L62.2,0.2L159.9,0.2L155.9,10.2L154.8,11.6L153.2,12.2L125.2,13.8L121.2,13.7L116.8,12.4L109.2,14.4L82.2,16.1L78.8,17.0L68.2,21.6L66.2,23.8L62.9,34.8L63.2,36.8L65.5,43.2L65.3,44.8L64.8,45.5L49.8,50.3L33.8,50.5L29.8,50.3L0.2,45.5L0.2,0.2ZM203.8,5.2L258.2,5.4L259.6,6.2L260.2,7.8L260.1,18.2L259.1,19.8L256.8,20.3L202.2,20.1L200.9,19.2L200.3,17.8L200.3,8.2L201.2,5.9ZM99.7,29.2L103.2,28.9L105.3,29.8L107.3,35.2L107.3,36.8L106.7,37.8L104.8,38.5L97.8,39.6L96.2,39.5L94.8,38.5L92.0,33.2L91.8,31.2L93.8,30.1ZM123.8,30.2L146.2,30.2L148.8,30.6L149.8,31.4L150.2,33.2L149.9,43.8L148.8,44.9L146.8,45.3L124.2,45.3L121.8,44.9L120.8,44.1L120.3,42.8L120.3,32.8L121.2,30.9ZM61.2,60.6L66.2,60.5L68.8,61.3L70.0,63.8L69.2,66.8L67.8,67.7L65.8,68.1L61.8,68.0L59.8,67.2L58.8,65.8L58.6,63.2L59.3,61.8ZM34.2,85.2L55.2,85.3L57.1,85.8L58.1,86.8L61.4,109.7L62.1,110.8L66.0,113.8L69.4,120.2L70.5,123.2L70.5,125.8L69.1,134.2L68.6,135.8L67.2,137.1L65.8,137.7L62.8,137.9L59.2,137.8L57.2,137.2L55.4,134.8L53.2,126.1L52.2,123.7L50.8,123.1L46.2,124.2L44.2,122.8L36.2,107.0L34.7,102.8L31.1,87.8L31.8,85.8Z" fill="#f2f2de" fill-rule="evenodd"/>
<path d="M26.2,29.7L32.8,29.5L39.8,30.1L42.2,31.2L43.6,34.8L43.9,38.2L42.2,42.5L40.2,45.5L38.8,46.3L35.2,46.8L29.2,46.8L21.2,44.5L18.4,42.2L15.3,37.8L15.1,35.2L15.5,33.2L17.5,31.8ZM62.7,62.7L66.8,63.0L67.4,63.8L67.4,64.8L65.8,65.8L61.8,65.5L61.1,64.8L61.1,63.8ZM56.8,112.7L60.2,112.7L63.8,114.1L65.1,115.8L68.4,121.8L68.9,124.8L68.0,131.8L67.2,134.3L65.8,135.8L59.2,136.0L57.8,135.2L56.8,133.6L53.9,120.2L54.6,114.8L55.2,113.6Z" fill="#eddcaa" fill-rule="evenodd"/>
<path d="M59.2,116.7L61.8,116.9L63.8,118.0L65.8,119.8L67.0,122.2L67.4,124.8L66.8,130.8L66.1,132.8L64.8,133.9L59.8,133.9L58.6,133.2L57.7,131.8L56.6,124.8L56.4,121.2L57.8,117.7Z" fill="#d9b86d" fill-rule="evenodd"/>
<path d="M61.2,121.7L63.8,121.9L64.8,123.2L64.7,129.2L64.2,130.3L63.2,130.8L60.8,130.7L59.7,129.2L59.7,123.2L60.2,122.1Z" fill="#c08b3b" fill-rule="evenodd"/>
<path d="M51.8,2.1L60.2,2.1L61.7,3.2L61.7,5.2L60.8,6.7L58.8,7.5L51.2,7.5L50.0,6.8L49.6,5.2L50.2,3.1ZM200.8,56.2L204.2,57.1L210.8,61.2L212.6,63.8L217.2,73.8L217.7,76.2L217.6,82.8L215.2,87.8L220.6,94.2L221.8,97.2L220.8,103.2L219.2,105.3L217.2,105.5L211.8,104.6L209.8,104.1L208.7,103.2L207.7,100.8L206.0,88.2L204.8,85.9L202.8,85.1L187.8,83.6L185.8,83.0L183.2,80.3L177.3,71.8L176.9,63.8L177.2,62.2L178.0,61.2L196.2,58.2ZM221.2,56.2L230.2,56.0L232.5,56.8L233.2,57.8L233.5,59.8L233.4,64.8L232.8,66.5L231.5,67.2L229.2,67.5L222.2,67.5L220.0,66.8L219.1,64.8L219.1,58.8L219.8,57.0ZM257.8,128.1L283.8,127.8L283.8,141.8L255.8,141.8L255.9,130.8L256.3,129.2Z" fill="#bde8dc" fill-rule="evenodd"/>
<path d="M201.2,58.7L203.2,58.7L207.1,60.8L209.3,62.2L210.8,64.2L216.2,75.8L216.3,82.2L215.7,83.8L214.8,84.7L211.8,85.2L208.2,84.2L206.7,82.2L202.6,74.8L201.0,71.2L200.4,68.8L200.3,60.8ZM263.8,132.2L265.8,131.8L271.8,131.8L275.8,132.2L276.8,134.2L276.8,141.8L262.7,141.8L262.7,134.2Z" fill="#86d0bb" fill-rule="evenodd"/>
<path d="M207.2,70.5L208.2,70.5L211.2,71.8L213.8,73.7L214.8,75.0L215.2,77.2L215.2,81.2L214.8,82.9L213.8,83.7L210.8,83.5L209.1,81.8L207.2,74.8Z" fill="#52a58f" fill-rule="evenodd"/>
<path d="M212.8,77.2L213.1,79.2L212.8,80.8L212.2,79.2Z" fill="#2f7e6a" fill-rule="evenodd"/>
<polygon points="0.0,1.8 12.5,1.8 12.5,19.2 0.0,19.2" fill="url(#mddots)"/>
<polygon points="102.0,1.8 119.5,1.8 119.5,4.3 102.0,4.3" fill="url(#mddots)"/>
<polygon points="113.5,1.8 130.9,1.8 130.9,9.3 113.5,9.3" fill="url(#mddots)"/>
<polygon points="16.0,31.0 41.0,31.0 41.0,45.0 30.0,47.0 20.0,44.0" fill="url(#mddots)"/>
<polygon points="173.0,21.0 191.0,21.0 197.0,27.0 190.0,37.0 170.0,37.0 160.0,30.0" fill="url(#mddots)"/>
<polygon points="173.2,44.0 205.6,44.0 205.6,103.9 185.0,103.9 173.2,90.0" fill="url(#mddots)"/>
<polygon points="160.8,66.5 205.6,66.5 205.6,86.4 160.8,86.4" fill="url(#mddots)"/>
<polygon points="185.7,93.9 220.5,93.9 220.5,106.3 185.7,106.3" fill="url(#mddots)"/>
<polygon points="262.0,131.0 277.0,131.0 280.0,141.0 260.0,141.0" fill="url(#mddots)"/>
</g>
<path d="M-22.66,-11.28 L-23.75,-1.75 L-21.65,7.61 L-22.69,17.03 L-22.66,26.51 L-21.64,26.40 L-20.68,26.76 L-19.58,27.51 L-18.70,26.51 L-17.92,27.23 L-18.33,28.21 L-17.40,28.46 L-17.00,29.33 L-16.41,29.69 L-16.35,30.38 L-15.98,30.96 L-15.30,31.02 L-14.98,31.61 L-15.10,32.27 L-15.64,32.66 L-15.86,33.28 L-15.56,34.00 L-15.13,34.66 L-14.32,34.60 L-13.60,34.97 L-12.86,35.54 L-12.07,36.06 L-11.13,35.57 L-10.20,36.10 L-9.79,36.60 L-9.15,36.73 L-8.56,36.42 L-7.93,36.66 L-7.58,37.12 L-7.64,37.69 L-7.31,38.14 L-6.80,38.35 L-6.28,38.97 L-6.08,39.75 L-5.42,40.52 L-4.53,40.04 L-4.24,41.16 L-3.12,41.44 L-2.93,40.22 L-1.70,40.04 L-1.00,39.82 L-0.32,39.52 L0.42,39.59 L1.13,39.76 L1.84,40.06 L2.55,40.33 L1.89,40.06 L1.58,40.70 L1.77,41.20 L1.70,41.74 L1.42,42.41 L0.82,42.83 L0.11,42.77 L-0.57,42.58 L-1.14,42.63 L-1.72,42.56 L-2.21,42.94 L-2.83,42.86 L-3.43,42.91 L-4.01,43.07 L-4.61,42.96 L-5.10,42.58 L-5.52,43.15 L-5.95,43.71 L-5.49,44.10 L-5.42,44.70 L-5.20,45.34 L-4.53,45.40 L-3.55,45.47 L-2.56,45.43 L-1.95,46.33 L-2.27,47.38 L-1.33,47.13 L-0.70,47.87 L-0.23,48.55 L0.00,49.35 L0.87,48.96 L1.66,49.50 L2.41,50.09 L2.27,51.04 L3.04,51.70 L4.03,51.52 L4.88,51.86 L5.67,52.34 L6.31,51.63 L7.21,51.32 L8.14,51.38 L9.07,51.32 L10.13,50.95 L11.23,51.14 L11.59,50.11 L11.90,49.07 L12.40,48.37 L11.85,47.72 L12.14,47.12 L12.47,46.53 L12.96,46.03 L13.63,45.86 L13.14,45.29 L13.32,44.56 L13.95,44.01 L14.73,43.71 L14.62,44.38 L14.86,45.01 L15.13,45.61 L15.30,46.25 L15.19,46.81 L15.28,47.38 L15.70,47.93 L15.30,48.50 L15.58,49.35 L15.86,50.20 L16.50,50.92 L16.85,51.82 L16.47,52.69 L16.15,53.58 L15.75,54.21 L15.66,54.95 L15.54,55.67 L15.58,56.40 L15.63,57.12 L15.48,57.83 L15.29,58.63 L15.86,59.22 L15.88,59.93 L15.86,60.64 L16.65,61.21 L16.15,62.04 L16.60,62.79 L16.19,63.57 L16.61,64.20 L17.00,64.86 L17.34,65.55 L17.79,66.17 L18.13,66.99 L17.56,67.68 L18.40,68.27 L18.35,69.30 L18.39,70.21 L18.70,71.06 L19.00,71.91 L19.47,72.67 L19.23,73.54 L19.26,74.45 L20.03,75.53 L21.27,76.01 L20.81,77.19 L20.40,78.40 L20.76,79.10 L20.59,79.87 L20.55,80.73 L21.25,81.22 L21.31,81.88 L21.85,82.26 L21.37,82.86 L21.81,83.47 L22.07,84.10 L22.56,84.58 L22.86,85.17 L23.23,85.73 L22.77,86.74 L22.54,87.84 L23.54,88.36 L24.65,88.55 L25.71,89.37 L25.16,90.59 L25.65,91.52 L26.06,92.50 L26.33,93.19 L26.42,93.93 L26.53,94.67 L26.91,95.32 L26.80,96.30 L27.48,97.01 L27.30,97.90 L27.42,98.81 L28.21,99.24 L28.90,99.83 L28.93,100.89 L28.62,101.92 L29.81,101.73 L30.60,102.65 L31.08,103.20 L31.71,103.58 L32.12,104.19 L32.30,104.90 L32.15,105.66 L31.83,106.37 L32.29,107.10 L33.15,107.16 L33.13,108.01 L33.79,108.54 L34.12,109.23 L34.28,109.98 L34.47,111.14 L35.64,111.24 L35.21,112.12 L35.41,113.08 L35.91,113.80 L36.47,114.46 L36.69,115.36 L36.26,116.18 L36.52,117.05 L36.14,117.87 L36.52,118.71 L37.40,119.00 L38.32,119.47 L38.01,120.46 L38.39,121.39 L39.38,121.26 L39.42,122.04 L39.89,122.67 L40.65,122.70 L41.36,122.95 L42.21,123.00 L42.78,123.63 L43.50,123.57 L43.68,122.86 L44.24,122.68 L44.76,122.39 L44.33,121.56 L44.80,120.75 L45.35,120.09 L46.18,119.85 L45.77,119.22 L46.01,118.51 L46.56,117.98 L47.31,118.16 L48.33,118.53 L48.86,117.58 L49.65,117.33 L50.43,117.03 L50.92,117.21 L51.38,117.48 L51.87,117.24 L52.13,116.75 L52.07,116.18 L51.76,115.70 L51.18,115.69 L50.71,115.34 L50.44,114.58 L50.84,113.88 L50.86,112.89 L51.84,112.80 L52.62,112.91 L53.27,112.46 L53.45,111.75 L53.83,111.11 L54.37,111.17 L54.82,110.86 L55.32,110.97 L55.81,111.11 L55.46,110.34 L56.00,109.70 L55.69,109.02 L55.81,108.29 L56.74,107.46 L56.39,106.26 L55.67,105.43 L55.53,104.34 L55.83,103.61 L55.84,102.83 L55.55,101.73 L56.66,101.52 L56.25,100.58 L56.57,99.61 L57.48,99.12 L57.79,98.14 L57.56,97.17 L58.48,96.81 L58.76,96.03 L58.36,95.32 L58.07,94.65 L58.11,93.92 L57.89,93.21 L58.08,92.50 L58.29,91.31 L57.31,90.59 L57.17,89.55 L57.51,88.55 L58.32,87.75 L58.20,86.61 L57.82,85.64 L57.79,84.60 L58.15,83.76 L58.20,82.85 L58.95,82.21 L58.93,81.22 L59.76,81.43 L60.44,80.89 L61.06,80.43 L61.76,80.09 L61.20,79.16 L62.13,78.60 L63.10,78.74 L63.46,77.83 L64.09,77.66 L64.73,77.77 L65.46,77.67 L65.73,76.99 L66.19,76.04 L67.13,75.57 L68.13,75.41 L69.13,75.58 L69.21,74.99 L69.22,74.40 L69.46,73.86 L69.69,73.32 L70.96,72.51 L70.30,71.17 L71.48,70.43 L72.52,71.35 L73.46,71.01 L74.44,71.08 L75.03,70.29 L75.36,69.37 L76.38,68.89 L77.11,68.03 L77.96,67.32 L78.76,66.55 L79.83,65.96 L80.74,65.15 L81.93,64.50 L82.16,63.17 L82.21,61.76 L82.85,60.51 L84.15,59.99 L85.56,60.07 L86.57,59.46 L87.61,58.91 L88.80,58.54 L89.52,57.53 L90.06,56.60 L91.12,56.67 L92.14,57.30 L92.92,56.40 L93.65,56.06 L94.43,55.94 L94.47,55.12 L94.91,54.43 L94.64,53.62 L94.60,52.77 L95.11,51.99 L96.04,51.89 L95.94,51.12 L96.40,50.50 L96.27,49.79 L96.32,49.07 L97.25,49.18 L98.13,48.88 L98.90,48.30 L99.16,47.38 L99.93,46.79 L100.85,46.48 L101.76,46.83 L102.55,47.38 L102.95,47.03 L103.16,46.56 L103.06,45.90 L103.69,45.68 L104.33,45.86 L104.94,46.12 L104.87,46.86 L105.39,47.38 L106.19,47.78 L106.81,47.12 L107.50,46.91 L108.22,46.81 L108.93,46.34 L109.68,46.74 L110.30,46.31 L111.05,46.25 L111.79,47.12 L112.92,46.95 L114.26,47.02 L114.45,45.68 L115.03,45.12 L115.67,44.64 L115.80,43.69 L116.72,43.43 L117.03,42.75 L117.23,42.04 L117.98,41.82 L118.42,41.17 L118.83,41.67 L119.48,41.74 L120.08,41.84 L120.69,41.74 L120.93,42.94 L122.10,42.58 L122.81,43.01 L123.52,43.43 L121.88,44.19 L123.01,45.60 L124.10,46.17 L124.37,47.38 L124.45,48.51 L125.53,48.88 L125.18,49.89 L125.79,50.76 L125.54,51.29 L125.71,51.86 L126.27,52.00 L126.64,52.45 L126.98,52.96 L127.27,53.49 L127.90,53.76 L128.05,54.43 L128.43,54.84 L128.83,55.22 L129.25,55.59 L129.75,55.84 L129.76,56.86 L130.26,57.75 L131.38,57.74 L132.02,58.66 L132.93,59.00 L133.48,59.80 L134.68,60.26 L134.28,61.48 L134.85,62.11 L135.45,62.69 L136.08,63.37 L135.98,64.30 L135.63,65.60 L136.42,66.71 L137.30,67.61 L137.68,68.81 L137.71,70.14 L138.32,71.33 L138.78,72.57 L138.82,73.88 L138.52,74.87 L138.21,75.85 L138.04,76.86 L137.68,77.83 L137.67,78.56 L137.40,79.24 L138.09,78.95 L138.71,79.35 L139.25,79.81 L139.95,79.81 L140.76,79.96 L141.26,80.63 L142.09,80.93 L142.78,80.37 L143.87,80.10 L144.04,81.21 L144.42,80.53 L145.05,80.09 L145.53,79.81 L145.73,79.29 L146.20,79.60 L146.75,79.52 L147.50,78.30 L148.82,78.87 L149.00,77.79 L149.02,76.70 L149.88,76.57 L150.71,76.32 L151.35,75.73 L151.85,75.01 L152.46,74.70 L153.15,74.62 L153.11,73.90 L153.55,73.32 L153.91,73.80 L154.33,74.23 L154.70,74.73 L155.25,75.01 L155.53,75.52 L156.09,75.67 L156.26,76.18 L156.38,76.70 L157.03,77.73 L156.84,78.94 L156.54,80.09 L156.95,81.22 L158.07,81.81 L158.04,83.07 L158.12,84.20 L157.51,85.16 L158.89,85.70 L159.74,86.90 L159.50,88.29 L159.21,89.68 L159.47,90.53 L159.84,91.35 L159.35,92.42 L160.35,93.06 L160.35,93.85 L160.75,94.53 L160.84,95.36 L161.48,95.88 L161.88,96.66 L161.97,97.54 L162.43,98.38 L162.05,99.26 L162.37,100.39 L162.31,101.55 L162.86,102.60 L162.90,103.78 L162.32,105.48 L163.97,106.20 L162.47,106.71 L162.33,108.29 L161.38,108.98 L161.13,110.13 L161.48,111.17 L161.76,112.24 L162.19,113.32 L161.48,114.24 L161.33,115.25 L160.91,116.18 L161.06,117.35 L160.60,118.44 L160.85,119.61 L160.35,120.70 L160.06,121.39 L160.05,122.15 L159.80,123.06 L160.63,123.52 L161.55,123.59 L162.33,124.08 L161.44,124.93 L162.21,125.90 L163.12,125.77 L164.03,125.77 L164.25,126.48 L164.56,127.16 L165.26,127.43 L166.01,127.46 L166.50,128.34 L166.46,129.35 L167.17,130.22 L168.28,130.00 L168.64,130.81 L169.33,131.35 L169.90,131.98 L170.55,132.54 L170.89,133.60 L171.71,134.34 L171.89,135.42 L171.68,136.49 L171.65,137.21 L171.51,137.93 L171.33,138.75 L171.96,139.31 L171.90,140.45 L172.74,141.24 L172.39,142.22 L172.25,143.26 L173.05,143.98 L172.78,145.02 L172.31,146.33 L173.66,146.64 L173.64,147.86 L174.17,148.96 L174.12,150.26 L175.08,151.15 L175.67,152.37 L175.27,153.67 L176.09,154.70 L177.35,155.10 L180.57,155.91 L183.86,155.49 L187.14,155.67 L190.38,155.10 L190.88,153.88 L190.08,152.82 L189.00,151.90 L189.53,150.59 L190.50,149.96 L190.42,148.81 L189.74,148.08 L189.24,147.20 L189.13,146.35 L189.30,145.50 L189.45,144.67 L189.53,143.82 L189.24,142.77 L188.51,141.98 L188.60,140.92 L188.39,139.87 L187.40,139.44 L186.54,138.79 L186.18,137.72 L185.28,137.05 L186.42,135.71 L184.82,134.97 L183.85,134.37 L182.73,134.51 L182.03,133.94 L181.47,133.23 L181.20,132.22 L180.18,131.98 L179.47,131.36 L178.55,131.49 L177.77,131.06 L177.35,130.28 L176.07,129.95 L175.18,130.92 L174.14,130.16 L174.23,128.87 L173.76,128.55 L173.20,128.49 L173.46,127.81 L172.81,127.46 L172.39,126.94 L172.54,126.28 L172.17,125.79 L171.96,125.21 L171.61,124.31 L171.83,123.37 L171.83,122.28 L170.83,121.82 L170.93,120.52 L171.67,119.45 L170.68,118.66 L169.70,117.88 L169.00,117.71 L168.29,117.84 L167.91,117.17 L167.15,117.03 L167.02,116.50 L166.59,116.17 L166.05,116.06 L165.73,115.62 L165.38,114.38 L166.55,113.85 L166.36,112.80 L165.45,112.24 L164.90,111.65 L164.31,111.11 L165.04,110.71 L165.45,109.98 L166.62,109.23 L168.02,109.15 L167.58,107.87 L167.15,106.60 L167.70,105.53 L167.01,104.55 L167.35,103.38 L168.56,103.21 L168.27,102.10 L168.17,100.96 L168.35,99.59 L169.70,99.26 L170.40,98.73 L170.28,97.85 L170.04,97.13 L169.70,96.44 L169.71,95.80 L170.19,95.37 L169.80,94.75 L170.26,94.19 L170.84,94.16 L171.41,94.08 L171.72,93.59 L171.96,93.06 L172.54,93.18 L173.10,93.38 L173.76,93.56 L174.23,93.06 L174.72,93.70 L175.36,94.19 L175.68,94.98 L175.31,95.75 L174.93,96.48 L175.08,97.29 L175.90,97.70 L176.59,97.09 L177.35,97.30 L177.91,97.85 L178.38,98.28 L179.01,98.29 L179.65,98.61 L180.18,98.14 L180.93,97.59 L181.77,98.00 L182.18,98.72 L182.16,99.55 L182.86,99.57 L183.21,100.17 L183.59,100.67 L184.15,100.96 L183.79,101.86 L184.61,102.38 L185.48,102.41 L185.84,103.21 L186.41,103.64 L186.98,104.05 L186.14,104.76 L186.98,105.47 L187.23,106.12 L187.13,106.81 L187.49,107.40 L188.11,107.72 L188.25,108.44 L188.74,109.00 L189.46,109.06 L190.09,109.42 L191.09,109.45 L192.08,109.42 L192.56,109.66 L193.08,109.49 L193.55,109.68 L194.06,109.70 L194.67,110.29 L195.48,110.54 L195.73,111.06 L195.95,111.59 L196.46,111.86 L196.89,112.24 L196.72,113.05 L197.33,113.61 L197.35,114.34 L197.46,115.06 L196.88,116.11 L195.78,116.62 L196.68,117.38 L197.18,118.44 L196.66,118.89 L196.28,119.47 L196.47,120.14 L196.89,120.70 L197.49,120.34 L198.07,120.71 L198.65,120.44 L198.88,119.85 L199.66,119.34 L200.53,119.70 L200.22,118.69 L201.14,118.16 L201.94,117.95 L202.76,117.97 L203.20,117.26 L203.41,116.47 L204.06,115.92 L204.11,115.07 L204.89,114.67 L205.68,115.06 L206.52,115.05 L207.32,115.30 L207.73,114.49 L207.38,113.65 L207.33,112.97 L207.32,112.30 L208.07,112.29 L208.51,111.67 L209.40,111.33 L210.21,110.83 L210.80,110.39 L211.07,109.71 L211.77,109.24 L212.48,109.70 L213.08,109.35 L213.77,109.45 L214.43,109.20 L214.74,108.57 L215.01,107.86 L215.70,108.17 L216.21,107.95 L216.44,107.44 L217.03,107.11 L217.65,106.86 L218.02,106.24 L218.71,106.03 L219.76,105.26 L218.99,104.21 L219.97,104.23 L220.69,104.90 L221.12,104.31 L221.80,104.03 L221.86,103.32 L222.11,102.65 L222.09,101.93 L222.27,101.24 L222.36,100.51 L222.11,99.83 L221.85,98.85 L221.26,98.03 L221.57,96.63 L222.96,97.01 L223.92,96.37 L223.94,95.22 L223.70,94.11 L222.67,93.62 L222.78,92.85 L222.30,92.23 L222.36,91.50 L222.11,90.80 L220.96,90.25 L221.03,88.97 L221.51,87.95 L221.26,86.86 L220.96,85.98 L221.01,85.06 L220.20,84.47 L220.12,83.47 L219.58,82.99 L219.01,82.54 L218.91,81.79 L218.42,81.22 L217.80,80.65 L217.79,79.80 L217.00,79.49 L216.72,78.68 L216.11,78.09 L215.29,77.89 L215.01,77.04 L214.17,76.70 L213.18,76.64 L212.31,76.14 L211.91,75.25 L211.34,74.45 L210.49,74.16 L209.64,73.89 L209.86,72.87 L209.08,72.19 L208.88,71.24 L208.44,70.38 L207.23,70.53 L206.81,69.37 L206.01,68.84 L205.74,67.91 L205.51,66.90 L204.54,66.55 L204.22,65.59 L203.22,65.42 L203.53,64.47 L202.84,63.73 L202.58,63.21 L202.41,62.64 L202.26,62.03 L202.56,61.48 L202.83,60.66 L202.58,59.85 L203.10,59.22 L203.69,58.66 L204.50,58.41 L205.34,58.34 L204.97,57.55 L205.11,56.68 L205.75,56.36 L206.27,55.86 L206.45,55.12 L207.09,54.71 L207.32,54.04 L207.76,53.48 L208.56,53.03 L208.23,52.17 L208.91,52.20 L209.60,52.27 L210.24,51.83 L210.21,51.04 L210.74,50.65 L211.18,50.16 L211.85,50.15 L212.48,49.91 L213.01,49.12 L213.42,48.24 L214.51,49.03 L215.31,47.94 L216.03,47.75 L216.66,47.34 L217.40,47.45 L218.14,47.38 L218.85,47.49 L219.56,47.48 L220.25,47.28 L220.97,47.38 L221.68,47.76 L222.40,47.39 L223.15,47.27 L223.81,47.66 L224.72,47.95 L225.51,48.50 L226.16,49.11 L225.84,49.94 L226.02,50.66 L226.36,51.32 L226.28,51.91 L226.44,52.48 L226.54,53.13 L226.07,53.58 L226.65,53.80 L227.27,53.87 L227.52,54.43 L227.77,54.99 L228.19,54.48 L228.81,54.70 L228.75,53.97 L229.47,53.86 L229.35,53.21 L229.03,52.63 L228.97,51.98 L228.91,51.32 L229.30,50.95 L229.36,50.40 L229.47,49.81 L230.04,49.63 L230.80,49.74 L231.33,49.18 L231.84,48.72 L232.31,48.22 L233.18,48.41 L234.06,48.24 L235.13,48.66 L235.71,47.66 L236.37,46.87 L237.05,46.10 L238.08,46.09 L239.11,46.25 L239.83,45.67 L240.71,45.40 L241.70,44.97 L242.50,45.68 L243.01,44.94 L243.57,44.23 L244.56,43.82 L245.34,44.56 L245.08,43.70 L245.57,42.97 L246.04,42.05 L247.04,42.30 L247.85,42.69 L248.74,42.86 L249.33,43.08 L249.94,42.89 L250.48,43.13 L251.00,43.43 L252.10,43.00 L252.34,41.85 L253.36,41.53 L254.40,41.74 L255.00,40.89 L255.85,40.29 L256.92,40.28 L257.80,40.89 L259.04,40.75 L260.01,41.53 L261.46,41.46 L261.77,40.04 L261.49,38.60 L262.96,38.63 L264.02,38.67 L264.60,37.79 L265.76,37.76 L266.40,36.81 L267.07,36.01 L268.00,35.53 L268.72,34.83 L269.34,34.05 L270.55,33.90 L270.83,32.71 L271.08,32.10 L271.31,31.49 L271.71,30.70 L272.53,31.02 L273.37,30.46 L274.38,30.47 L275.48,30.34 L275.93,29.33 L276.23,28.39 L277.12,27.96 L278.05,27.53 L278.20,26.51 L279.14,26.30 L280.09,26.45 L280.83,25.79 L281.03,24.82 L280.97,23.92 L281.31,23.09 L280.78,22.34 L280.75,21.43 L280.67,20.66 L280.81,19.90 L281.15,18.90 L282.17,19.18 L282.90,18.42 L283.17,17.40 L283.03,15.99 L284.43,15.79 L285.05,14.74 L285.73,13.74 L286.03,12.41 L287.27,11.84 L288.07,11.07 L288.60,10.08 L289.80,9.69 L290.10,8.46 L290.31,6.80 L290.49,5.13 L291.56,3.81 L292.93,2.82 L292.79,1.87 L292.42,0.98 L293.35,0.66 L294.07,0.00 L294.97,-1.30 L294.76,-2.87 L294.97,-4.36 L295.77,-5.64 L296.63,-6.98 L296.03,-8.46 L295.26,-9.81 L295.77,-11.28 L216.16,-10.60 L136.55,-10.18 L56.96,-12.71 Z" fill="none" stroke="#000" stroke-width="0.8" stroke-linejoin="round"/>
<path d="M56.09,114.21 L56.74,114.31 L57.04,113.72 L57.57,113.75 L58.08,113.93 L59.24,113.55 L60.20,114.31 L60.18,115.39 L60.06,116.47 L60.04,117.31 L60.57,117.96 L61.12,118.53 L61.76,119.00 L62.09,119.66 L62.43,120.32 L63.29,120.24 L63.74,120.98 L63.98,121.66 L64.48,122.17 L64.54,122.88 L64.88,123.52 L64.68,124.54 L65.47,125.20 L65.56,126.27 L66.58,126.62 L65.87,127.37 L65.69,128.38 L66.90,128.53 L67.14,129.72 L66.90,130.77 L65.85,131.01 L66.37,131.88 L66.01,132.82 L65.12,132.96 L64.30,133.31 L63.98,134.19 L63.18,134.68 L62.32,134.20 L61.47,134.69 L60.72,135.09 L60.06,135.64 L59.25,135.50 L58.43,135.62 L58.01,134.87 L57.23,134.51 L57.49,133.49 L57.44,132.44 L56.27,132.06 L56.09,130.85 L56.32,129.06 L54.52,128.98 L55.83,128.35 L55.81,126.90 L56.18,125.93 L55.42,125.23 L55.19,124.35 L55.53,123.52 L54.94,122.78 L55.54,122.05 L55.37,121.19 L56.09,120.70 L55.03,119.80 L55.03,118.40 L56.31,117.95 L56.94,116.75 L56.95,116.03 L56.46,115.50 L56.69,114.74 L56.09,114.21 Z" fill="none" stroke="#000" stroke-width="0.8" stroke-linejoin="round"/>
<path d="M228.34,55.95 L228.95,55.92 L229.49,56.20 L230.02,55.93 L230.61,55.84 L229.97,56.80 L230.25,57.91 L231.33,57.92 L232.31,58.37 L231.71,59.18 L230.72,59.37 L230.22,60.21 L230.32,61.19 L229.87,61.97 L230.36,62.73 L229.86,63.33 L229.19,63.73 L228.58,64.31 L228.17,65.05 L227.61,65.85 L226.64,65.71 L225.88,65.27 L225.06,65.59 L223.93,65.41 L223.81,66.55 L223.32,66.11 L222.66,66.01 L222.10,65.71 L221.54,65.42 L220.54,64.90 L220.93,63.84 L220.08,63.73 L219.27,63.45 L217.90,63.39 L217.81,62.02 L218.72,61.41 L218.99,60.35 L220.41,61.51 L221.80,60.32 L222.88,59.03 L222.11,57.53 L222.82,57.87 L223.59,58.04 L224.16,57.46 L224.37,56.68 L224.71,56.05 L225.33,55.68 L225.95,55.99 L226.64,56.12 L227.48,55.92 Z" fill="none" stroke="#000" stroke-width="0.8" stroke-linejoin="round"/>
<path d="M288.97,27.64 L289.99,27.52 L290.94,27.90 L291.88,27.44 L292.37,26.51 L293.21,26.32 L293.98,26.72 L293.65,27.75 L294.63,28.20 L294.08,29.11 L293.52,30.02 L293.64,31.08 L293.50,32.15 L293.09,33.87 L293.36,35.61 L292.37,37.04 L291.23,38.35 L290.79,40.39 L288.95,41.37 L289.13,43.31 L288.40,45.12 L287.83,45.51 L287.27,45.12 L286.49,44.39 L285.61,43.78 L286.01,42.54 L285.00,41.74 L284.62,41.20 L284.13,40.76 L284.13,40.09 L283.87,39.48 L282.26,39.27 L282.44,37.66 L283.20,36.78 L284.15,36.10 L284.85,35.23 L285.56,34.38 L286.43,33.26 L285.57,32.15 L286.42,31.12 L285.74,29.96 L286.80,29.70 L287.83,29.33 L288.01,28.75 L287.91,28.16 L288.43,27.88 Z" fill="none" stroke="#000" stroke-width="0.8" stroke-linejoin="round"/>
<path d="M286.70,64.30 L287.66,64.66 L288.68,64.79 L289.78,64.96 L290.67,64.30 L291.96,65.02 L293.40,65.34 L294.84,66.49 L296.33,65.42 L297.18,67.27 L297.44,69.29 L298.00,71.30 L297.47,73.32 L296.50,74.60 L296.06,76.14 L294.48,77.12 L294.63,78.96 L294.07,81.08 L293.50,83.19 L292.16,85.10 L292.37,87.42 L290.82,87.79 L290.63,89.36 L290.42,90.88 L288.97,91.37 L289.18,90.36 L288.37,89.72 L287.40,89.55 L286.70,90.24 L286.42,89.65 L286.40,88.99 L286.40,88.35 L286.42,87.70 L285.63,87.43 L285.01,86.88 L284.66,86.09 L283.87,85.73 L283.27,85.03 L283.10,84.12 L283.32,83.22 L283.02,82.34 L283.98,81.48 L283.63,80.24 L282.34,79.77 L282.45,78.40 L282.58,77.50 L283.02,76.70 L283.49,76.93 L284.02,76.95 L284.51,77.10 L285.00,77.27 L285.25,76.21 L285.91,75.35 L285.80,74.27 L285.28,73.32 L285.60,72.48 L285.99,71.68 L285.19,70.95 L285.57,69.94 L285.11,69.09 L285.12,68.12 L285.63,67.34 L286.13,66.55 L286.58,65.91 L287.32,65.65 L286.61,65.15 Z" fill="none" stroke="#000" stroke-width="0.8" stroke-linejoin="round"/>
<path d="M285.00,93.06 L288.40,93.06 L291.80,95.32 L290.10,99.83 L288.40,99.26 L286.70,95.88 Z" fill="none" stroke="#000" stroke-width="0.8" stroke-linejoin="round"/>
<path d="M267.15,121.82 L268.11,121.77 L268.86,121.19 L269.39,120.43 L269.70,119.57 L270.74,119.27 L271.32,118.36 L271.84,117.49 L272.53,116.75 L273.44,116.27 L274.26,115.64 L274.76,114.75 L275.37,113.93 L275.53,112.94 L276.40,112.43 L276.98,111.74 L277.63,111.11 L278.31,110.53 L279.16,110.26 L279.68,109.49 L279.62,108.57 L279.22,107.68 L279.00,106.73 L279.72,106.08 L280.47,105.47 L279.90,105.19 L279.13,105.49 L278.56,106.10 L278.20,106.90 L278.48,107.72 L278.11,108.44 L277.65,109.12 L277.11,109.73 L276.50,110.26 L275.87,110.98 L275.34,111.78 L274.36,112.12 L273.95,113.08 L274.00,114.27 L273.19,115.15 L272.34,116.03 L271.12,115.90 L269.52,116.90 L270.85,118.23 L269.73,118.55 L268.57,118.72 L268.30,119.35 L268.09,119.99 L268.07,120.91 L267.15,120.98 Z" fill="none" stroke="#000" stroke-width="0.8" stroke-linejoin="round"/>
<path d="M249.30,152.28 L250.63,150.41 L251.04,148.16 L251.15,145.88 L252.14,143.82 L252.25,142.59 L252.50,141.37 L253.74,141.44 L254.97,141.28 L255.40,140.64 L256.08,140.27 L256.81,139.97 L257.24,139.31 L258.14,139.27 L259.03,139.35 L259.21,138.47 L259.50,137.62 L259.91,136.79 L259.61,135.93 L260.46,135.81 L261.20,135.36 L261.59,134.31 L262.71,134.25 L263.10,133.40 L263.47,132.54 L263.38,131.67 L263.99,131.05 L264.62,130.58 L265.17,130.00 L265.28,130.50 L265.58,130.92 L266.06,130.58 L266.59,130.85 L267.40,131.27 L268.00,131.98 L268.57,132.47 L269.32,132.38 L269.38,133.27 L270.27,133.39 L269.86,134.01 L269.70,134.73 L270.50,134.90 L270.83,135.64 L271.35,136.08 L271.80,136.58 L272.48,136.49 L273.10,136.21 L273.36,136.67 L273.79,136.97 L273.89,137.49 L274.23,137.90 L275.08,137.26 L276.15,137.22 L276.80,138.02 L277.07,139.03 L277.91,139.24 L278.72,138.90 L278.00,140.08 L279.33,140.44 L278.67,140.97 L278.19,141.67 L277.90,142.46 L277.63,143.26 L276.75,143.29 L276.03,143.79 L274.96,143.89 L274.80,144.95 L274.57,147.00 L274.56,149.07 L275.01,152.08 L271.97,152.28 L266.26,152.15 L260.64,151.14 L255.03,152.31 Z" fill="none" stroke="#000" stroke-width="0.8" stroke-linejoin="round"/>
<path d="M142.78,137.62 L143.09,138.32 L143.81,138.57 L144.84,138.32 L144.48,137.33 L144.81,138.20 L145.74,138.21 L146.66,138.18 L147.03,139.03 L148.10,139.62 L148.22,140.83 L148.86,139.71 L150.15,139.87 L150.93,139.28 L151.88,139.04 L153.01,138.99 L153.55,139.98 L153.99,140.68 L154.70,140.27 L155.28,140.14 L155.81,139.87 L155.31,141.00 L156.47,141.40 L157.27,141.65 L158.08,141.85 L159.27,142.28 L160.52,142.45 L160.46,143.70 L160.35,144.95 L161.22,146.21 L162.49,147.06 L163.09,148.50 L164.31,149.46 L164.62,150.48 L165.30,151.30 L166.33,151.58 L167.15,152.28 L161.71,152.11 L156.66,150.07 L151.38,150.95 L146.18,152.28 L146.21,149.73 L144.48,147.86 L144.52,145.41 L143.35,143.26 L143.15,142.09 L143.88,141.17 L143.79,139.96 L142.78,139.31 L142.56,138.46 Z" fill="none" stroke="#000" stroke-width="0.8" stroke-linejoin="round"/>
<path d="M130.03,91.93 L130.25,92.65 L130.88,93.06 L130.38,93.67 L130.05,94.40 L130.25,95.17 L130.60,95.88 L130.73,96.64 L130.32,97.29 L130.16,97.99 L130.03,98.70 L130.39,99.29 L130.38,99.99 L130.19,100.72 L129.47,100.96 L129.12,101.63 L128.72,102.27 L128.51,103.06 L128.90,103.78 L128.05,104.06 L128.38,103.33 L128.46,102.53 L128.54,101.73 L128.33,100.96 L128.93,100.32 L128.61,99.50 L129.08,98.90 L129.18,98.14 L129.29,97.29 L129.29,96.44 L129.34,95.59 L129.47,94.75 L130.01,94.08 L129.61,93.31 L129.71,92.59 Z" fill="none" stroke="#000" stroke-width="0.8" stroke-linejoin="round"/>
<path d="M127.49,107.72 L128.05,108.29 L127.77,109.98 L126.92,109.42 Z" fill="none" stroke="#000" stroke-width="0.8" stroke-linejoin="round"/>
<path d="M129.18,117.03 L129.47,117.59 L128.90,117.88 Z" fill="none" stroke="#000" stroke-width="0.8" stroke-linejoin="round"/>
<path d="M133.15,124.08 L133.72,124.64 L133.15,124.93 Z" fill="none" stroke="#000" stroke-width="0.8" stroke-linejoin="round"/>
<path d="M134.28,128.31 L135.70,129.72 L135.13,131.13 L134.00,130.00 Z" fill="none" stroke="#000" stroke-width="0.8" stroke-linejoin="round"/>
<circle cx="16.4" cy="105.5" r="0.6" fill="#222"/>
<circle cx="17.6" cy="122.4" r="0.6" fill="#222"/>
<circle cx="15.3" cy="106.6" r="0.6" fill="#222"/>
<circle cx="12.5" cy="106.0" r="0.6" fill="#222"/>
</g>
<rect x="113.32" y="11.28" width="113.32" height="101.52" fill="none" stroke="#5fd6c4" stroke-width="1.3"/>
<rect x="0" y="0" width="283.30" height="141.00" fill="none" stroke="#333" stroke-width="0.9"/>
<line x1="-2.5" y1="0.00" x2="0" y2="0.00" stroke="#333" stroke-width="0.8"/>
<text transform="translate(-4.4,4.00) scale(0.97,1.08)" text-anchor="end" font-size="10.8" font-family="Liberation Serif, serif" fill="#222">30°N</text>
<line x1="-2.5" y1="28.20" x2="0" y2="28.20" stroke="#333" stroke-width="0.8"/>
<text transform="translate(-4.4,32.20) scale(0.97,1.08)" text-anchor="end" font-size="10.8" font-family="Liberation Serif, serif" fill="#222">25°N</text>
<line x1="-2.5" y1="56.40" x2="0" y2="56.40" stroke="#333" stroke-width="0.8"/>
<text transform="translate(-4.4,60.40) scale(0.97,1.08)" text-anchor="end" font-size="10.8" font-family="Liberation Serif, serif" fill="#222">20°N</text>
<line x1="-2.5" y1="84.60" x2="0" y2="84.60" stroke="#333" stroke-width="0.8"/>
<text transform="translate(-4.4,88.60) scale(0.97,1.08)" text-anchor="end" font-size="10.8" font-family="Liberation Serif, serif" fill="#222">15°N</text>
<line x1="-2.5" y1="112.80" x2="0" y2="112.80" stroke="#333" stroke-width="0.8"/>
<text transform="translate(-4.4,116.80) scale(0.97,1.08)" text-anchor="end" font-size="10.8" font-family="Liberation Serif, serif" fill="#222">10°N</text>
<line x1="-2.5" y1="141.00" x2="0" y2="141.00" stroke="#333" stroke-width="0.8"/>
<text transform="translate(-4.4,145.00) scale(0.97,1.08)" text-anchor="end" font-size="10.8" font-family="Liberation Serif, serif" fill="#222">5°N</text>
<line x1="0.00" y1="141.00" x2="0.00" y2="143.50" stroke="#333" stroke-width="0.8"/>
<text x="0.80" y="153.60" text-anchor="middle" font-size="10.4" font-family="Liberation Serif, serif" fill="#222">70°E</text>
<line x1="56.66" y1="141.00" x2="56.66" y2="143.50" stroke="#333" stroke-width="0.8"/>
<text x="57.46" y="153.60" text-anchor="middle" font-size="10.4" font-family="Liberation Serif, serif" fill="#222">80°E</text>
<line x1="113.32" y1="141.00" x2="113.32" y2="143.50" stroke="#333" stroke-width="0.8"/>
<text x="114.12" y="153.60" text-anchor="middle" font-size="10.4" font-family="Liberation Serif, serif" fill="#222">90°E</text>
<line x1="169.98" y1="141.00" x2="169.98" y2="143.50" stroke="#333" stroke-width="0.8"/>
<text x="170.78" y="153.60" text-anchor="middle" font-size="10.4" font-family="Liberation Serif, serif" fill="#222">100°E</text>
<line x1="226.64" y1="141.00" x2="226.64" y2="143.50" stroke="#333" stroke-width="0.8"/>
<text x="227.44" y="153.60" text-anchor="middle" font-size="10.4" font-family="Liberation Serif, serif" fill="#222">110°E</text>
<line x1="283.30" y1="141.00" x2="283.30" y2="143.50" stroke="#333" stroke-width="0.8"/>
<text x="284.10" y="153.60" text-anchor="middle" font-size="10.4" font-family="Liberation Serif, serif" fill="#222">120°E</text>
<text x="0" y="-3.8" font-size="11.65" font-family="Liberation Serif, serif" fill="#222">(d)MDI.reg.Pre</text>
<rect x="290.60" y="16.70" width="5.7" height="9.30" fill="#1c5a48"/>
<rect x="290.60" y="25.70" width="5.7" height="9.30" fill="#2d7a66"/>
<rect x="290.60" y="34.70" width="5.7" height="9.30" fill="#4f9f89"/>
<rect x="290.60" y="43.70" width="5.7" height="9.30" fill="#84cdb6"/>
<rect x="290.60" y="52.70" width="5.7" height="9.30" fill="#b7e4d8"/>
<rect x="290.60" y="61.70" width="5.7" height="9.30" fill="#e2f4ef"/>
<rect x="290.60" y="70.70" width="5.7" height="9.30" fill="#f2f2de"/>
<rect x="290.60" y="79.70" width="5.7" height="9.30" fill="#ecdba9"/>
<rect x="290.60" y="88.70" width="5.7" height="9.30" fill="#d9b86c"/>
<rect x="290.60" y="97.70" width="5.7" height="9.30" fill="#c18c3c"/>
<rect x="290.60" y="106.70" width="5.7" height="9.30" fill="#a26a22"/>
<rect x="290.60" y="115.70" width="5.7" height="9.30" fill="#7a4b17"/>
<rect x="290.60" y="16.70" width="5.7" height="108.00" fill="none" stroke="#333" stroke-width="0.6"/>
<line x1="296.30" y1="16.70" x2="298.30" y2="16.70" stroke="#333" stroke-width="0.6"/>
<text transform="translate(300.60,20.90) scale(1,1.05)" font-size="10.4" font-family="Liberation Serif, serif" fill="#222">3</text>
<line x1="296.30" y1="34.70" x2="298.30" y2="34.70" stroke="#333" stroke-width="0.6"/>
<text transform="translate(300.60,38.90) scale(1,1.05)" font-size="10.4" font-family="Liberation Serif, serif" fill="#222">2</text>
<line x1="296.30" y1="52.70" x2="298.30" y2="52.70" stroke="#333" stroke-width="0.6"/>
<text transform="translate(300.60,56.90) scale(1,1.05)" font-size="10.4" font-family="Liberation Serif, serif" fill="#222">1</text>
<line x1="296.30" y1="70.70" x2="298.30" y2="70.70" stroke="#333" stroke-width="0.6"/>
<text transform="translate(300.60,74.90) scale(1,1.05)" font-size="10.4" font-family="Liberation Serif, serif" fill="#222">0</text>
<line x1="296.30" y1="88.70" x2="298.30" y2="88.70" stroke="#333" stroke-width="0.6"/>
<text transform="translate(300.60,92.90) scale(1,1.05)" font-size="10.4" font-family="Liberation Serif, serif" fill="#222">-1</text>
<line x1="296.30" y1="106.70" x2="298.30" y2="106.70" stroke="#333" stroke-width="0.6"/>
<text transform="translate(300.60,110.90) scale(1,1.05)" font-size="10.4" font-family="Liberation Serif, serif" fill="#222">-2</text>
<line x1="296.30" y1="124.70" x2="298.30" y2="124.70" stroke="#333" stroke-width="0.6"/>
<text transform="translate(300.60,128.90) scale(1,1.05)" font-size="10.4" font-family="Liberation Serif, serif" fill="#222">-3</text>
</g>
</svg></body></html>
